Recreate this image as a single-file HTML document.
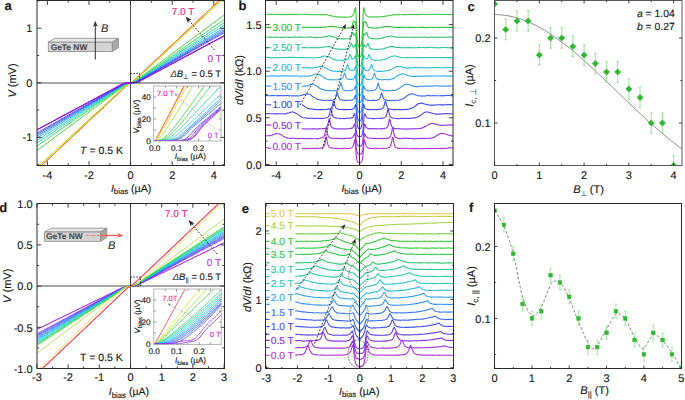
<!DOCTYPE html>
<html><head><meta charset="utf-8"><style>
html,body{margin:0;padding:0;background:#fff;width:685px;height:400px;overflow:hidden}
svg{display:block;font-family:"Liberation Sans",sans-serif;text-rendering:geometricPrecision}
</style></head><body>
<svg width="685" height="400" viewBox="0 0 685 400">
<rect width="685" height="400" fill="#fff"/>
<clipPath id="ca"><rect x="37" y="0.5" width="187.5" height="165"/></clipPath>
<line x1="130.5" y1="0.5" x2="130.5" y2="165.5" stroke="#505050" stroke-width="1" />
<line x1="37" y1="83" x2="224.5" y2="83" stroke="#505050" stroke-width="1" />
<g clip-path="url(#ca)" fill="none">
<polyline points="34.9,171.8 36.5,170.3 38.1,168.8 39.7,167.3 41.3,165.8 42.9,164.3 44.5,162.8 46.1,161.3 47.7,159.8 49.3,158.3 50.9,156.8 52.5,155.3 54.1,153.8 55.7,152.3 57.2,150.8 58.8,149.3 60.4,147.8 62,146.3 63.6,144.8 65.2,143.3 66.8,141.8 68.4,140.4 70,138.9 71.6,137.4 73.2,135.9 74.8,134.4 76.4,132.9 78,131.4 79.6,129.9 81.2,128.4 82.8,126.9 84.4,125.4 85.9,123.9 87.5,122.4 89.1,120.9 90.7,119.4 92.3,117.9 93.9,116.4 95.5,114.9 97.1,113.4 98.7,111.9 100.3,110.4 101.9,108.9 103.5,107.4 105.1,105.9 106.7,104.4 108.3,102.9 109.9,101.4 111.5,99.9 113.1,98.4 114.7,97 116.2,95.5 117.8,94 119.4,92.5 121,91 122.6,89.5 124.2,88 125.8,86.5 127.4,85.1 129,83.8 130.6,82.8 132.2,81.8 133.8,80.5 135.4,79.1 137,77.6 138.6,76.1 140.2,74.6 141.8,73.1 143.4,71.6 145,70.1 146.5,68.6 148.1,67.2 149.7,65.7 151.3,64.2 152.9,62.7 154.5,61.2 156.1,59.7 157.7,58.2 159.3,56.7 160.9,55.2 162.5,53.7 164.1,52.2 165.7,50.7 167.3,49.2 168.9,47.7 170.5,46.2 172.1,44.7 173.7,43.2 175.3,41.7 176.8,40.2 178.4,38.7 180,37.2 181.6,35.7 183.2,34.2 184.8,32.7 186.4,31.2 188,29.7 189.6,28.2 191.2,26.7 192.8,25.2 194.4,23.8 196,22.3 197.6,20.8 199.2,19.3 200.8,17.8 202.4,16.3 204,14.8 205.5,13.3 207.1,11.8 208.7,10.3 210.3,8.8 211.9,7.3 213.5,5.8 215.1,4.3 216.7,2.8 218.3,1.3 219.9,-0.2 221.5,-1.7 223.1,-3.2 224.7,-4.7 226.3,-6.2" stroke="#ff3030" stroke-width="1.0" fill="none" stroke-linejoin="round" />
<polyline points="34.9,171.8 36.5,170.3 38.1,168.8 39.7,167.3 41.3,165.8 42.9,164.3 44.5,162.8 46.1,161.3 47.7,159.8 49.3,158.3 50.9,156.8 52.5,155.3 54.1,153.8 55.7,152.3 57.2,150.8 58.8,149.3 60.4,147.8 62,146.3 63.6,144.8 65.2,143.3 66.8,141.8 68.4,140.3 70,138.8 71.6,137.3 73.2,135.8 74.8,134.3 76.4,132.8 78,131.3 79.6,129.8 81.2,128.3 82.8,126.8 84.4,125.3 85.9,123.8 87.5,122.3 89.1,120.8 90.7,119.3 92.3,117.8 93.9,116.3 95.5,114.8 97.1,113.3 98.7,111.8 100.3,110.3 101.9,108.8 103.5,107.3 105.1,105.8 106.7,104.3 108.3,102.8 109.9,101.3 111.5,99.8 113.1,98.3 114.7,96.8 116.2,95.3 117.8,93.8 119.4,92.3 121,90.8 122.6,89.3 124.2,87.8 125.8,86.3 127.4,84.9 129,83.7 130.6,82.8 132.2,81.9 133.8,80.7 135.4,79.3 137,77.8 138.6,76.3 140.2,74.8 141.8,73.3 143.4,71.8 145,70.3 146.5,68.8 148.1,67.3 149.7,65.8 151.3,64.3 152.9,62.8 154.5,61.3 156.1,59.8 157.7,58.3 159.3,56.8 160.9,55.3 162.5,53.8 164.1,52.3 165.7,50.8 167.3,49.3 168.9,47.8 170.5,46.3 172.1,44.8 173.7,43.3 175.3,41.8 176.8,40.3 178.4,38.8 180,37.3 181.6,35.8 183.2,34.3 184.8,32.8 186.4,31.3 188,29.8 189.6,28.3 191.2,26.8 192.8,25.3 194.4,23.8 196,22.3 197.6,20.8 199.2,19.3 200.8,17.8 202.4,16.3 204,14.8 205.5,13.3 207.1,11.8 208.7,10.3 210.3,8.8 211.9,7.3 213.5,5.8 215.1,4.3 216.7,2.8 218.3,1.3 219.9,-0.2 221.5,-1.7 223.1,-3.2 224.7,-4.7 226.3,-6.2" stroke="#ff9222" stroke-width="1.0" fill="none" stroke-linejoin="round" />
<polyline points="34.9,169.6 36.5,168.1 38.1,166.7 39.7,165.2 41.3,163.7 42.9,162.3 44.5,160.8 46.1,159.3 47.7,157.8 49.3,156.4 50.9,154.9 52.5,153.4 54.1,152 55.7,150.5 57.2,149 58.8,147.5 60.4,146.1 62,144.6 63.6,143.1 65.2,141.6 66.8,140.2 68.4,138.7 70,137.2 71.6,135.8 73.2,134.3 74.8,132.8 76.4,131.3 78,129.9 79.6,128.4 81.2,126.9 82.8,125.5 84.4,124 85.9,122.5 87.5,121 89.1,119.6 90.7,118.1 92.3,116.6 93.9,115.1 95.5,113.7 97.1,112.2 98.7,110.7 100.3,109.3 101.9,107.8 103.5,106.3 105.1,104.8 106.7,103.4 108.3,101.9 109.9,100.4 111.5,99 113.1,97.5 114.7,96 116.2,94.5 117.8,93.1 119.4,91.6 121,90.1 122.6,88.7 124.2,87.2 125.8,85.8 127.4,84.5 129,83.4 130.6,82.8 132.2,82.2 133.8,81.1 135.4,79.8 137,78.4 138.6,76.9 140.2,75.5 141.8,74 143.4,72.5 145,71.1 146.5,69.6 148.1,68.1 149.7,66.6 151.3,65.2 152.9,63.7 154.5,62.2 156.1,60.8 157.7,59.3 159.3,57.8 160.9,56.3 162.5,54.9 164.1,53.4 165.7,51.9 167.3,50.5 168.9,49 170.5,47.5 172.1,46 173.7,44.6 175.3,43.1 176.8,41.6 178.4,40.1 180,38.7 181.6,37.2 183.2,35.7 184.8,34.3 186.4,32.8 188,31.3 189.6,29.8 191.2,28.4 192.8,26.9 194.4,25.4 196,24 197.6,22.5 199.2,21 200.8,19.5 202.4,18.1 204,16.6 205.5,15.1 207.1,13.6 208.7,12.2 210.3,10.7 211.9,9.2 213.5,7.8 215.1,6.3 216.7,4.8 218.3,3.3 219.9,1.9 221.5,0.4 223.1,-1.1 224.7,-2.5 226.3,-4" stroke="#eed42a" stroke-width="1.0" fill="none" stroke-linejoin="round" />
<polyline points="34.9,169.6 36.5,168.1 38.1,166.6 39.7,165.2 41.3,163.7 42.9,162.2 44.5,160.7 46.1,159.3 47.7,157.8 49.3,156.3 50.9,154.8 52.5,153.3 54.1,151.9 55.7,150.4 57.2,148.9 58.8,147.4 60.4,146 62,144.5 63.6,143 65.2,141.5 66.8,140.1 68.4,138.6 70,137.1 71.6,135.6 73.2,134.2 74.8,132.7 76.4,131.2 78,129.7 79.6,128.2 81.2,126.8 82.8,125.3 84.4,123.8 85.9,122.3 87.5,120.9 89.1,119.4 90.7,117.9 92.3,116.4 93.9,115 95.5,113.5 97.1,112 98.7,110.5 100.3,109 101.9,107.6 103.5,106.1 105.1,104.6 106.7,103.1 108.3,101.7 109.9,100.2 111.5,98.7 113.1,97.2 114.7,95.8 116.2,94.3 117.8,92.8 119.4,91.3 121,89.9 122.6,88.4 124.2,86.9 125.8,85.5 127.4,84.2 129,83.3 130.6,82.8 132.2,82.3 133.8,81.4 135.4,80.1 137,78.7 138.6,77.2 140.2,75.7 141.8,74.3 143.4,72.8 145,71.3 146.5,69.8 148.1,68.4 149.7,66.9 151.3,65.4 152.9,63.9 154.5,62.5 156.1,61 157.7,59.5 159.3,58 160.9,56.6 162.5,55.1 164.1,53.6 165.7,52.1 167.3,50.6 168.9,49.2 170.5,47.7 172.1,46.2 173.7,44.7 175.3,43.3 176.8,41.8 178.4,40.3 180,38.8 181.6,37.4 183.2,35.9 184.8,34.4 186.4,32.9 188,31.4 189.6,30 191.2,28.5 192.8,27 194.4,25.5 196,24.1 197.6,22.6 199.2,21.1 200.8,19.6 202.4,18.2 204,16.7 205.5,15.2 207.1,13.7 208.7,12.3 210.3,10.8 211.9,9.3 213.5,7.8 215.1,6.3 216.7,4.9 218.3,3.4 219.9,1.9 221.5,0.4 223.1,-1 224.7,-2.5 226.3,-4" stroke="#a6df30" stroke-width="1.0" fill="none" stroke-linejoin="round" />
<polyline points="34.9,152.1 36.5,150.9 38.1,149.8 39.7,148.6 41.3,147.4 42.9,146.2 44.5,145 46.1,143.8 47.7,142.7 49.3,141.5 50.9,140.3 52.5,139.1 54.1,137.9 55.7,136.7 57.2,135.5 58.8,134.4 60.4,133.2 62,132 63.6,130.8 65.2,129.6 66.8,128.4 68.4,127.3 70,126.1 71.6,124.9 73.2,123.7 74.8,122.5 76.4,121.3 78,120.2 79.6,119 81.2,117.8 82.8,116.6 84.4,115.4 85.9,114.2 87.5,113.1 89.1,111.9 90.7,110.7 92.3,109.5 93.9,108.3 95.5,107.1 97.1,106 98.7,104.8 100.3,103.6 101.9,102.4 103.5,101.2 105.1,100 106.7,98.9 108.3,97.7 109.9,96.5 111.5,95.3 113.1,94.1 114.7,92.9 116.2,91.7 117.8,90.6 119.4,89.4 121,88.2 122.6,87 124.2,85.9 125.8,84.7 127.4,83.8 129,83.1 130.6,82.8 132.2,82.5 133.8,81.8 135.4,80.9 137,79.7 138.6,78.6 140.2,77.4 141.8,76.2 143.4,75 145,73.9 146.5,72.7 148.1,71.5 149.7,70.3 151.3,69.1 152.9,67.9 154.5,66.7 156.1,65.6 157.7,64.4 159.3,63.2 160.9,62 162.5,60.8 164.1,59.6 165.7,58.5 167.3,57.3 168.9,56.1 170.5,54.9 172.1,53.7 173.7,52.5 175.3,51.4 176.8,50.2 178.4,49 180,47.8 181.6,46.6 183.2,45.4 184.8,44.3 186.4,43.1 188,41.9 189.6,40.7 191.2,39.5 192.8,38.3 194.4,37.2 196,36 197.6,34.8 199.2,33.6 200.8,32.4 202.4,31.2 204,30.1 205.5,28.9 207.1,27.7 208.7,26.5 210.3,25.3 211.9,24.1 213.5,22.9 215.1,21.8 216.7,20.6 218.3,19.4 219.9,18.2 221.5,17 223.1,15.8 224.7,14.7 226.3,13.5" stroke="#3fd633" stroke-width="1.0" fill="none" stroke-linejoin="round" />
<polyline points="34.9,147.4 36.5,146.3 38.1,145.2 39.7,144.1 41.3,143 42.9,141.9 44.5,140.8 46.1,139.7 47.7,138.6 49.3,137.5 50.9,136.4 52.5,135.2 54.1,134.1 55.7,133 57.2,131.9 58.8,130.8 60.4,129.7 62,128.6 63.6,127.5 65.2,126.4 66.8,125.3 68.4,124.2 70,123.1 71.6,121.9 73.2,120.8 74.8,119.7 76.4,118.6 78,117.5 79.6,116.4 81.2,115.3 82.8,114.2 84.4,113.1 85.9,112 87.5,110.9 89.1,109.8 90.7,108.7 92.3,107.5 93.9,106.4 95.5,105.3 97.1,104.2 98.7,103.1 100.3,102 101.9,100.9 103.5,99.8 105.1,98.7 106.7,97.6 108.3,96.5 109.9,95.4 111.5,94.3 113.1,93.1 114.7,92 116.2,90.9 117.8,89.8 119.4,88.7 121,87.6 122.6,86.5 124.2,85.4 125.8,84.4 127.4,83.6 129,83 130.6,82.8 132.2,82.6 133.8,82 135.4,81.2 137,80.2 138.6,79.1 140.2,78 141.8,76.9 143.4,75.8 145,74.7 146.5,73.6 148.1,72.5 149.7,71.3 151.3,70.2 152.9,69.1 154.5,68 156.1,66.9 157.7,65.8 159.3,64.7 160.9,63.6 162.5,62.5 164.1,61.4 165.7,60.3 167.3,59.2 168.9,58.1 170.5,56.9 172.1,55.8 173.7,54.7 175.3,53.6 176.8,52.5 178.4,51.4 180,50.3 181.6,49.2 183.2,48.1 184.8,47 186.4,45.9 188,44.8 189.6,43.7 191.2,42.5 192.8,41.4 194.4,40.3 196,39.2 197.6,38.1 199.2,37 200.8,35.9 202.4,34.8 204,33.7 205.5,32.6 207.1,31.5 208.7,30.4 210.3,29.2 211.9,28.1 213.5,27 215.1,25.9 216.7,24.8 218.3,23.7 219.9,22.6 221.5,21.5 223.1,20.4 224.7,19.3 226.3,18.2" stroke="#33d655" stroke-width="1.0" fill="none" stroke-linejoin="round" />
<polyline points="34.9,144.3 36.5,143.2 38.1,142.2 39.7,141.1 41.3,140 42.9,139 44.5,137.9 46.1,136.9 47.7,135.8 49.3,134.8 50.9,133.7 52.5,132.6 54.1,131.6 55.7,130.5 57.2,129.5 58.8,128.4 60.4,127.3 62,126.3 63.6,125.2 65.2,124.2 66.8,123.1 68.4,122.1 70,121 71.6,119.9 73.2,118.9 74.8,117.8 76.4,116.8 78,115.7 79.6,114.7 81.2,113.6 82.8,112.5 84.4,111.5 85.9,110.4 87.5,109.4 89.1,108.3 90.7,107.2 92.3,106.2 93.9,105.1 95.5,104.1 97.1,103 98.7,102 100.3,100.9 101.9,99.8 103.5,98.8 105.1,97.7 106.7,96.7 108.3,95.6 109.9,94.5 111.5,93.5 113.1,92.4 114.7,91.4 116.2,90.3 117.8,89.3 119.4,88.2 121,87.1 122.6,86.1 124.2,85.1 125.8,84.1 127.4,83.4 129,83 130.6,82.8 132.2,82.6 133.8,82.2 135.4,81.5 137,80.5 138.6,79.5 140.2,78.5 141.8,77.4 143.4,76.3 145,75.3 146.5,74.2 148.1,73.2 149.7,72.1 151.3,71.1 152.9,70 154.5,68.9 156.1,67.9 157.7,66.8 159.3,65.8 160.9,64.7 162.5,63.6 164.1,62.6 165.7,61.5 167.3,60.5 168.9,59.4 170.5,58.4 172.1,57.3 173.7,56.2 175.3,55.2 176.8,54.1 178.4,53.1 180,52 181.6,50.9 183.2,49.9 184.8,48.8 186.4,47.8 188,46.7 189.6,45.7 191.2,44.6 192.8,43.5 194.4,42.5 196,41.4 197.6,40.4 199.2,39.3 200.8,38.3 202.4,37.2 204,36.1 205.5,35.1 207.1,34 208.7,33 210.3,31.9 211.9,30.8 213.5,29.8 215.1,28.7 216.7,27.7 218.3,26.6 219.9,25.6 221.5,24.5 223.1,23.4 224.7,22.4 226.3,21.3" stroke="#22d69a" stroke-width="1.0" fill="none" stroke-linejoin="round" />
<polyline points="34.9,141.7 36.5,140.7 38.1,139.7 39.7,138.7 41.3,137.7 42.9,136.6 44.5,135.6 46.1,134.6 47.7,133.6 49.3,132.6 50.9,131.6 52.5,130.5 54.1,129.5 55.7,128.5 57.2,127.5 58.8,126.5 60.4,125.4 62,124.4 63.6,123.4 65.2,122.4 66.8,121.4 68.4,120.4 70,119.3 71.6,118.3 73.2,117.3 74.8,116.3 76.4,115.3 78,114.2 79.6,113.2 81.2,112.2 82.8,111.2 84.4,110.2 85.9,109.1 87.5,108.1 89.1,107.1 90.7,106.1 92.3,105.1 93.9,104.1 95.5,103 97.1,102 98.7,101 100.3,100 101.9,99 103.5,97.9 105.1,96.9 106.7,95.9 108.3,94.9 109.9,93.9 111.5,92.8 113.1,91.8 114.7,90.8 116.2,89.8 117.8,88.8 119.4,87.8 121,86.7 122.6,85.7 124.2,84.8 125.8,83.9 127.4,83.3 129,82.9 130.6,82.8 132.2,82.7 133.8,82.3 135.4,81.7 137,80.8 138.6,79.9 140.2,78.9 141.8,77.8 143.4,76.8 145,75.8 146.5,74.8 148.1,73.8 149.7,72.8 151.3,71.7 152.9,70.7 154.5,69.7 156.1,68.7 157.7,67.7 159.3,66.6 160.9,65.6 162.5,64.6 164.1,63.6 165.7,62.6 167.3,61.5 168.9,60.5 170.5,59.5 172.1,58.5 173.7,57.5 175.3,56.5 176.8,55.4 178.4,54.4 180,53.4 181.6,52.4 183.2,51.4 184.8,50.3 186.4,49.3 188,48.3 189.6,47.3 191.2,46.3 192.8,45.2 194.4,44.2 196,43.2 197.6,42.2 199.2,41.2 200.8,40.2 202.4,39.1 204,38.1 205.5,37.1 207.1,36.1 208.7,35.1 210.3,34 211.9,33 213.5,32 215.1,31 216.7,30 218.3,29 219.9,27.9 221.5,26.9 223.1,25.9 224.7,24.9 226.3,23.9" stroke="#22c8d8" stroke-width="1.0" fill="none" stroke-linejoin="round" />
<polyline points="34.9,139.2 36.5,138.2 38.1,137.2 39.7,136.3 41.3,135.3 42.9,134.3 44.5,133.3 46.1,132.3 47.7,131.4 49.3,130.4 50.9,129.4 52.5,128.4 54.1,127.5 55.7,126.5 57.2,125.5 58.8,124.5 60.4,123.5 62,122.6 63.6,121.6 65.2,120.6 66.8,119.6 68.4,118.6 70,117.7 71.6,116.7 73.2,115.7 74.8,114.7 76.4,113.7 78,112.8 79.6,111.8 81.2,110.8 82.8,109.8 84.4,108.9 85.9,107.9 87.5,106.9 89.1,105.9 90.7,104.9 92.3,104 93.9,103 95.5,102 97.1,101 98.7,100 100.3,99.1 101.9,98.1 103.5,97.1 105.1,96.1 106.7,95.1 108.3,94.2 109.9,93.2 111.5,92.2 113.1,91.2 114.7,90.3 116.2,89.3 117.8,88.3 119.4,87.3 121,86.3 122.6,85.4 124.2,84.5 125.8,83.7 127.4,83.1 129,82.9 130.6,82.8 132.2,82.7 133.8,82.5 135.4,81.9 137,81.1 138.6,80.2 140.2,79.3 141.8,78.3 143.4,77.3 145,76.3 146.5,75.3 148.1,74.4 149.7,73.4 151.3,72.4 152.9,71.4 154.5,70.5 156.1,69.5 157.7,68.5 159.3,67.5 160.9,66.5 162.5,65.6 164.1,64.6 165.7,63.6 167.3,62.6 168.9,61.6 170.5,60.7 172.1,59.7 173.7,58.7 175.3,57.7 176.8,56.7 178.4,55.8 180,54.8 181.6,53.8 183.2,52.8 184.8,51.9 186.4,50.9 188,49.9 189.6,48.9 191.2,47.9 192.8,47 194.4,46 196,45 197.6,44 199.2,43 200.8,42.1 202.4,41.1 204,40.1 205.5,39.1 207.1,38.1 208.7,37.2 210.3,36.2 211.9,35.2 213.5,34.2 215.1,33.3 216.7,32.3 218.3,31.3 219.9,30.3 221.5,29.3 223.1,28.4 224.7,27.4 226.3,26.4" stroke="#22a4f4" stroke-width="1.0" fill="none" stroke-linejoin="round" />
<polyline points="34.9,137.3 36.5,136.3 38.1,135.4 39.7,134.4 41.3,133.5 42.9,132.5 44.5,131.6 46.1,130.6 47.7,129.7 49.3,128.7 50.9,127.8 52.5,126.8 54.1,125.9 55.7,124.9 57.2,124 58.8,123 60.4,122.1 62,121.1 63.6,120.2 65.2,119.2 66.8,118.3 68.4,117.3 70,116.4 71.6,115.4 73.2,114.5 74.8,113.5 76.4,112.6 78,111.6 79.6,110.7 81.2,109.7 82.8,108.8 84.4,107.8 85.9,106.9 87.5,105.9 89.1,105 90.7,104 92.3,103.1 93.9,102.1 95.5,101.2 97.1,100.2 98.7,99.3 100.3,98.3 101.9,97.4 103.5,96.4 105.1,95.5 106.7,94.5 108.3,93.6 109.9,92.6 111.5,91.7 113.1,90.7 114.7,89.8 116.2,88.8 117.8,87.9 119.4,86.9 121,86 122.6,85.1 124.2,84.2 125.8,83.5 127.4,83.1 129,82.9 130.6,82.8 132.2,82.7 133.8,82.5 135.4,82.1 137,81.4 138.6,80.5 140.2,79.6 141.8,78.7 143.4,77.7 145,76.8 146.5,75.8 148.1,74.9 149.7,73.9 151.3,73 152.9,72 154.5,71.1 156.1,70.1 157.7,69.2 159.3,68.2 160.9,67.3 162.5,66.3 164.1,65.4 165.7,64.4 167.3,63.5 168.9,62.5 170.5,61.6 172.1,60.6 173.7,59.7 175.3,58.7 176.8,57.8 178.4,56.8 180,55.9 181.6,54.9 183.2,54 184.8,53 186.4,52.1 188,51.1 189.6,50.2 191.2,49.2 192.8,48.3 194.4,47.3 196,46.4 197.6,45.4 199.2,44.5 200.8,43.5 202.4,42.6 204,41.6 205.5,40.7 207.1,39.7 208.7,38.8 210.3,37.8 211.9,36.9 213.5,35.9 215.1,35 216.7,34 218.3,33.1 219.9,32.1 221.5,31.2 223.1,30.2 224.7,29.3 226.3,28.3" stroke="#2a7cff" stroke-width="1.0" fill="none" stroke-linejoin="round" />
<polyline points="34.9,135.6 36.5,134.7 38.1,133.7 39.7,132.8 41.3,131.9 42.9,131 44.5,130 46.1,129.1 47.7,128.2 49.3,127.3 50.9,126.3 52.5,125.4 54.1,124.5 55.7,123.6 57.2,122.6 58.8,121.7 60.4,120.8 62,119.9 63.6,118.9 65.2,118 66.8,117.1 68.4,116.2 70,115.3 71.6,114.3 73.2,113.4 74.8,112.5 76.4,111.6 78,110.6 79.6,109.7 81.2,108.8 82.8,107.9 84.4,106.9 85.9,106 87.5,105.1 89.1,104.2 90.7,103.2 92.3,102.3 93.9,101.4 95.5,100.5 97.1,99.5 98.7,98.6 100.3,97.7 101.9,96.8 103.5,95.8 105.1,94.9 106.7,94 108.3,93.1 109.9,92.1 111.5,91.2 113.1,90.3 114.7,89.4 116.2,88.4 117.8,87.5 119.4,86.6 121,85.7 122.6,84.8 124.2,84 125.8,83.3 127.4,83 129,82.8 130.6,82.8 132.2,82.8 133.8,82.6 135.4,82.3 137,81.6 138.6,80.8 140.2,79.9 141.8,79 143.4,78.1 145,77.2 146.5,76.2 148.1,75.3 149.7,74.4 151.3,73.5 152.9,72.5 154.5,71.6 156.1,70.7 157.7,69.8 159.3,68.8 160.9,67.9 162.5,67 164.1,66.1 165.7,65.1 167.3,64.2 168.9,63.3 170.5,62.4 172.1,61.4 173.7,60.5 175.3,59.6 176.8,58.7 178.4,57.7 180,56.8 181.6,55.9 183.2,55 184.8,54 186.4,53.1 188,52.2 189.6,51.3 191.2,50.3 192.8,49.4 194.4,48.5 196,47.6 197.6,46.7 199.2,45.7 200.8,44.8 202.4,43.9 204,43 205.5,42 207.1,41.1 208.7,40.2 210.3,39.3 211.9,38.3 213.5,37.4 215.1,36.5 216.7,35.6 218.3,34.6 219.9,33.7 221.5,32.8 223.1,31.9 224.7,30.9 226.3,30" stroke="#2f5cff" stroke-width="1.0" fill="none" stroke-linejoin="round" />
<polyline points="34.9,134.1 36.5,133.2 38.1,132.3 39.7,131.4 41.3,130.5 42.9,129.6 44.5,128.7 46.1,127.8 47.7,126.9 49.3,126 50.9,125.1 52.5,124.2 54.1,123.3 55.7,122.4 57.2,121.5 58.8,120.6 60.4,119.7 62,118.8 63.6,117.9 65.2,116.9 66.8,116 68.4,115.1 70,114.2 71.6,113.3 73.2,112.4 74.8,111.5 76.4,110.6 78,109.7 79.6,108.8 81.2,107.9 82.8,107 84.4,106.1 85.9,105.2 87.5,104.3 89.1,103.4 90.7,102.5 92.3,101.6 93.9,100.7 95.5,99.8 97.1,98.9 98.7,98 100.3,97.1 101.9,96.2 103.5,95.3 105.1,94.4 106.7,93.5 108.3,92.6 109.9,91.7 111.5,90.8 113.1,89.9 114.7,89 116.2,88.1 117.8,87.2 119.4,86.3 121,85.4 122.6,84.5 124.2,83.8 125.8,83.2 127.4,82.9 129,82.8 130.6,82.8 132.2,82.8 133.8,82.7 135.4,82.4 137,81.8 138.6,81.1 140.2,80.2 141.8,79.3 143.4,78.4 145,77.5 146.5,76.6 148.1,75.7 149.7,74.8 151.3,73.9 152.9,73 154.5,72.1 156.1,71.2 157.7,70.3 159.3,69.4 160.9,68.5 162.5,67.6 164.1,66.7 165.7,65.8 167.3,64.9 168.9,64 170.5,63.1 172.1,62.2 173.7,61.3 175.3,60.4 176.8,59.5 178.4,58.6 180,57.7 181.6,56.8 183.2,55.9 184.8,55 186.4,54.1 188,53.2 189.6,52.3 191.2,51.4 192.8,50.5 194.4,49.6 196,48.7 197.6,47.7 199.2,46.8 200.8,45.9 202.4,45 204,44.1 205.5,43.2 207.1,42.3 208.7,41.4 210.3,40.5 211.9,39.6 213.5,38.7 215.1,37.8 216.7,36.9 218.3,36 219.9,35.1 221.5,34.2 223.1,33.3 224.7,32.4 226.3,31.5" stroke="#4a3cff" stroke-width="1.0" fill="none" stroke-linejoin="round" />
<polyline points="34.9,131.1 36.5,130.2 38.1,129.4 39.7,128.5 41.3,127.7 42.9,126.8 44.5,126 46.1,125.1 47.7,124.3 49.3,123.4 50.9,122.6 52.5,121.7 54.1,120.8 55.7,120 57.2,119.1 58.8,118.3 60.4,117.4 62,116.6 63.6,115.7 65.2,114.9 66.8,114 68.4,113.2 70,112.3 71.6,111.5 73.2,110.6 74.8,109.8 76.4,108.9 78,108 79.6,107.2 81.2,106.3 82.8,105.5 84.4,104.6 85.9,103.8 87.5,102.9 89.1,102.1 90.7,101.2 92.3,100.4 93.9,99.5 95.5,98.7 97.1,97.8 98.7,97 100.3,96.1 101.9,95.3 103.5,94.4 105.1,93.5 106.7,92.7 108.3,91.8 109.9,91 111.5,90.1 113.1,89.3 114.7,88.4 116.2,87.6 117.8,86.7 119.4,85.9 121,85 122.6,84.2 124.2,83.6 125.8,83.1 127.4,82.9 129,82.8 130.6,82.8 132.2,82.8 133.8,82.7 135.4,82.5 137,82 138.6,81.4 140.2,80.6 141.8,79.7 143.4,78.9 145,78 146.5,77.2 148.1,76.3 149.7,75.5 151.3,74.6 152.9,73.8 154.5,72.9 156.1,72.1 157.7,71.2 159.3,70.3 160.9,69.5 162.5,68.6 164.1,67.8 165.7,66.9 167.3,66.1 168.9,65.2 170.5,64.4 172.1,63.5 173.7,62.7 175.3,61.8 176.8,61 178.4,60.1 180,59.3 181.6,58.4 183.2,57.6 184.8,56.7 186.4,55.8 188,55 189.6,54.1 191.2,53.3 192.8,52.4 194.4,51.6 196,50.7 197.6,49.9 199.2,49 200.8,48.2 202.4,47.3 204,46.5 205.5,45.6 207.1,44.8 208.7,43.9 210.3,43 211.9,42.2 213.5,41.3 215.1,40.5 216.7,39.6 218.3,38.8 219.9,37.9 221.5,37.1 223.1,36.2 224.7,35.4 226.3,34.5" stroke="#7424f0" stroke-width="1.0" fill="none" stroke-linejoin="round" />
<polyline points="34.9,130.9 36.5,130 38.1,129.2 39.7,128.3 41.3,127.5 42.9,126.6 44.5,125.8 46.1,124.9 47.7,124.1 49.3,123.2 50.9,122.4 52.5,121.5 54.1,120.6 55.7,119.8 57.2,118.9 58.8,118.1 60.4,117.2 62,116.4 63.6,115.5 65.2,114.7 66.8,113.8 68.4,113 70,112.1 71.6,111.3 73.2,110.4 74.8,109.6 76.4,108.7 78,107.8 79.6,107 81.2,106.1 82.8,105.3 84.4,104.4 85.9,103.6 87.5,102.7 89.1,101.9 90.7,101 92.3,100.2 93.9,99.3 95.5,98.5 97.1,97.6 98.7,96.7 100.3,95.9 101.9,95 103.5,94.2 105.1,93.3 106.7,92.5 108.3,91.6 109.9,90.8 111.5,89.9 113.1,89.1 114.7,88.2 116.2,87.4 117.8,86.5 119.4,85.7 121,84.8 122.6,84.1 124.2,83.4 125.8,83 127.4,82.9 129,82.8 130.6,82.8 132.2,82.8 133.8,82.7 135.4,82.6 137,82.2 138.6,81.5 140.2,80.8 141.8,79.9 143.4,79.1 145,78.2 146.5,77.4 148.1,76.5 149.7,75.7 151.3,74.8 152.9,74 154.5,73.1 156.1,72.3 157.7,71.4 159.3,70.6 160.9,69.7 162.5,68.9 164.1,68 165.7,67.1 167.3,66.3 168.9,65.4 170.5,64.6 172.1,63.7 173.7,62.9 175.3,62 176.8,61.2 178.4,60.3 180,59.5 181.6,58.6 183.2,57.8 184.8,56.9 186.4,56 188,55.2 189.6,54.3 191.2,53.5 192.8,52.6 194.4,51.8 196,50.9 197.6,50.1 199.2,49.2 200.8,48.4 202.4,47.5 204,46.7 205.5,45.8 207.1,45 208.7,44.1 210.3,43.2 211.9,42.4 213.5,41.5 215.1,40.7 216.7,39.8 218.3,39 219.9,38.1 221.5,37.3 223.1,36.4 224.7,35.6 226.3,34.7" stroke="#8a22ea" stroke-width="1.0" fill="none" stroke-linejoin="round" />
<polyline points="34.9,130.7 36.5,129.9 38.1,129 39.7,128.2 41.3,127.3 42.9,126.4 44.5,125.6 46.1,124.7 47.7,123.9 49.3,123 50.9,122.2 52.5,121.3 54.1,120.5 55.7,119.6 57.2,118.8 58.8,117.9 60.4,117 62,116.2 63.6,115.3 65.2,114.5 66.8,113.6 68.4,112.8 70,111.9 71.6,111.1 73.2,110.2 74.8,109.4 76.4,108.5 78,107.6 79.6,106.8 81.2,105.9 82.8,105.1 84.4,104.2 85.9,103.4 87.5,102.5 89.1,101.7 90.7,100.8 92.3,100 93.9,99.1 95.5,98.3 97.1,97.4 98.7,96.5 100.3,95.7 101.9,94.8 103.5,94 105.1,93.1 106.7,92.3 108.3,91.4 109.9,90.6 111.5,89.7 113.1,88.9 114.7,88 116.2,87.1 117.8,86.3 119.4,85.4 121,84.6 122.6,83.9 124.2,83.3 125.8,83 127.4,82.9 129,82.8 130.6,82.8 132.2,82.8 133.8,82.7 135.4,82.6 137,82.3 138.6,81.7 140.2,81 141.8,80.2 143.4,79.3 145,78.5 146.5,77.6 148.1,76.7 149.7,75.9 151.3,75 152.9,74.2 154.5,73.3 156.1,72.5 157.7,71.6 159.3,70.8 160.9,69.9 162.5,69.1 164.1,68.2 165.7,67.3 167.3,66.5 168.9,65.6 170.5,64.8 172.1,63.9 173.7,63.1 175.3,62.2 176.8,61.4 178.4,60.5 180,59.7 181.6,58.8 183.2,58 184.8,57.1 186.4,56.2 188,55.4 189.6,54.5 191.2,53.7 192.8,52.8 194.4,52 196,51.1 197.6,50.3 199.2,49.4 200.8,48.6 202.4,47.7 204,46.8 205.5,46 207.1,45.1 208.7,44.3 210.3,43.4 211.9,42.6 213.5,41.7 215.1,40.9 216.7,40 218.3,39.2 219.9,38.3 221.5,37.4 223.1,36.6 224.7,35.7 226.3,34.9" stroke="#9b1fe0" stroke-width="1.0" fill="none" stroke-linejoin="round" />
</g>
<rect x="37" y="0.5" width="187.5" height="165" stroke="#2b2b2b" stroke-width="1" fill="none" />
<line x1="47.4" y1="165.5" x2="47.4" y2="161.1" stroke="#2b2b2b" stroke-width="0.9" />
<line x1="47.4" y1="0.5" x2="47.4" y2="4.9" stroke="#2b2b2b" stroke-width="0.9" />
<line x1="89" y1="165.5" x2="89" y2="161.1" stroke="#2b2b2b" stroke-width="0.9" />
<line x1="89" y1="0.5" x2="89" y2="4.9" stroke="#2b2b2b" stroke-width="0.9" />
<line x1="130.6" y1="165.5" x2="130.6" y2="161.1" stroke="#2b2b2b" stroke-width="0.9" />
<line x1="130.6" y1="0.5" x2="130.6" y2="4.9" stroke="#2b2b2b" stroke-width="0.9" />
<line x1="172.2" y1="165.5" x2="172.2" y2="161.1" stroke="#2b2b2b" stroke-width="0.9" />
<line x1="172.2" y1="0.5" x2="172.2" y2="4.9" stroke="#2b2b2b" stroke-width="0.9" />
<line x1="213.8" y1="165.5" x2="213.8" y2="161.1" stroke="#2b2b2b" stroke-width="0.9" />
<line x1="213.8" y1="0.5" x2="213.8" y2="4.9" stroke="#2b2b2b" stroke-width="0.9" />
<line x1="68.2" y1="165.5" x2="68.2" y2="163.3" stroke="#2b2b2b" stroke-width="0.9" />
<line x1="68.2" y1="0.5" x2="68.2" y2="2.7" stroke="#2b2b2b" stroke-width="0.9" />
<line x1="109.8" y1="165.5" x2="109.8" y2="163.3" stroke="#2b2b2b" stroke-width="0.9" />
<line x1="109.8" y1="0.5" x2="109.8" y2="2.7" stroke="#2b2b2b" stroke-width="0.9" />
<line x1="151.4" y1="165.5" x2="151.4" y2="163.3" stroke="#2b2b2b" stroke-width="0.9" />
<line x1="151.4" y1="0.5" x2="151.4" y2="2.7" stroke="#2b2b2b" stroke-width="0.9" />
<line x1="193" y1="165.5" x2="193" y2="163.3" stroke="#2b2b2b" stroke-width="0.9" />
<line x1="193" y1="0.5" x2="193" y2="2.7" stroke="#2b2b2b" stroke-width="0.9" />
<line x1="37" y1="137.4" x2="41.4" y2="137.4" stroke="#2b2b2b" stroke-width="0.9" />
<line x1="224.5" y1="137.4" x2="220.1" y2="137.4" stroke="#2b2b2b" stroke-width="0.9" />
<line x1="37" y1="82.8" x2="41.4" y2="82.8" stroke="#2b2b2b" stroke-width="0.9" />
<line x1="224.5" y1="82.8" x2="220.1" y2="82.8" stroke="#2b2b2b" stroke-width="0.9" />
<line x1="37" y1="28.2" x2="41.4" y2="28.2" stroke="#2b2b2b" stroke-width="0.9" />
<line x1="224.5" y1="28.2" x2="220.1" y2="28.2" stroke="#2b2b2b" stroke-width="0.9" />
<line x1="37" y1="164.7" x2="39.2" y2="164.7" stroke="#2b2b2b" stroke-width="0.9" />
<line x1="224.5" y1="164.7" x2="222.3" y2="164.7" stroke="#2b2b2b" stroke-width="0.9" />
<line x1="37" y1="110.1" x2="39.2" y2="110.1" stroke="#2b2b2b" stroke-width="0.9" />
<line x1="224.5" y1="110.1" x2="222.3" y2="110.1" stroke="#2b2b2b" stroke-width="0.9" />
<line x1="37" y1="55.5" x2="39.2" y2="55.5" stroke="#2b2b2b" stroke-width="0.9" />
<line x1="224.5" y1="55.5" x2="222.3" y2="55.5" stroke="#2b2b2b" stroke-width="0.9" />
<line x1="37" y1="0.9" x2="39.2" y2="0.9" stroke="#2b2b2b" stroke-width="0.9" />
<line x1="224.5" y1="0.9" x2="222.3" y2="0.9" stroke="#2b2b2b" stroke-width="0.9" />
<text x="47.4" y="179.34" font-size="11" text-anchor="middle" fill="#1a1a1a"  stroke="#1a1a1a" stroke-width="0.15">-4</text>
<text x="89" y="179.34" font-size="11" text-anchor="middle" fill="#1a1a1a"  stroke="#1a1a1a" stroke-width="0.15">-2</text>
<text x="130.6" y="179.34" font-size="11" text-anchor="middle" fill="#1a1a1a"  stroke="#1a1a1a" stroke-width="0.15">0</text>
<text x="172.2" y="179.34" font-size="11" text-anchor="middle" fill="#1a1a1a"  stroke="#1a1a1a" stroke-width="0.15">2</text>
<text x="213.8" y="179.34" font-size="11" text-anchor="middle" fill="#1a1a1a"  stroke="#1a1a1a" stroke-width="0.15">4</text>
<text x="32.3" y="31.94" font-size="11" text-anchor="end" fill="#1a1a1a"  stroke="#1a1a1a" stroke-width="0.15">1</text>
<text x="32.3" y="86.74" font-size="11" text-anchor="end" fill="#1a1a1a"  stroke="#1a1a1a" stroke-width="0.15">0</text>
<text x="32.3" y="141.44" font-size="11" text-anchor="end" fill="#1a1a1a"  stroke="#1a1a1a" stroke-width="0.15">-1</text>
<text transform="translate(16.24,80.5) rotate(-90)" font-size="11" text-anchor="middle" fill="#1a1a1a"  stroke="#1a1a1a" stroke-width="0.15"><tspan font-style="italic">V</tspan> (mV)</text>
<text x="131.1" y="191.7" font-size="10.6" text-anchor="middle" fill="#1a1a1a" stroke="#1a1a1a" stroke-width="0.15"><tspan font-style="italic">I</tspan><tspan font-size="7.8" dy="2.5">bias</tspan><tspan dy="-2.5"> (µA)</tspan></text>
<text x="8.2" y="10.45" font-size="13" text-anchor="middle" fill="#1a1a1a" font-weight="bold"  stroke="#1a1a1a" stroke-width="0.15">a</text>
<polygon points="48.3,42.2 54.6,38.3 118.5,38.3 112.2,42.2" fill="#e6e6e6" stroke="#8a8a8a" stroke-width="0.8"/>
<polygon points="112.2,42.2 118.5,38.3 118.5,47.7 112.2,51.6" fill="#a9a9a9" stroke="#8a8a8a" stroke-width="0.8"/>
<rect x="48.3" y="42.2" width="63.9" height="9.4" stroke="#8a8a8a" stroke-width="0.8" fill="#d4d4d4" />
<text x="69" y="49.71" font-size="8.4" text-anchor="middle" fill="#4a4a4a" font-weight="bold"  stroke="#4a4a4a" stroke-width="0.15">GeTe NW</text>
<line x1="95.3" y1="59.5" x2="95.3" y2="25" stroke="#333" stroke-width="1" />
<polygon points="95.3,20.8 97.6,26.8 95.3,25.3 93,26.8" fill="#333" stroke="none" stroke-width="1"/>
<text x="104.6" y="31.54" font-size="11" text-anchor="middle" fill="#333" font-style="italic"  stroke="#333" stroke-width="0.15">B</text>
<text x="183" y="15.18" font-size="10" text-anchor="middle" fill="#ea2a8e"  stroke="#ea2a8e" stroke-width="0.15">7.0 T</text>
<line x1="214.5" y1="50" x2="188.15" y2="19.55" stroke="#222" stroke-width="0.9" stroke-dasharray="1.8,1.6" />
<polygon points="185.6,16.6 191.74,19.88 188.79,20.29 187.96,23.15" fill="#222" stroke="none" stroke-width="1"/>
<text x="214.6" y="61.78" font-size="10" text-anchor="middle" fill="#c03ae0"  stroke="#c03ae0" stroke-width="0.15">0 T</text>
<text x="221.1" y="76.5" font-size="9.5" text-anchor="end" fill="#1a1a1a" stroke="#1a1a1a" stroke-width="0.15"><tspan font-style="italic" fill="#555">Δ</tspan><tspan font-style="italic">B</tspan><tspan font-size="6.5" dy="2" fill="#555">⊥</tspan><tspan dy="-2"> = 0.5 T</tspan></text>
<text x="101.5" y="153.8" font-size="10.5" text-anchor="middle" fill="#1a1a1a" stroke="#1a1a1a" stroke-width="0.15"><tspan font-style="italic">T</tspan> = 0.5 K</text>
<rect x="130.5" y="73.4" width="9" height="9.3" stroke="#222" stroke-width="0.9" fill="none" stroke-dasharray="1.6,1.3"/>
<clipPath id="ca_i"><rect x="153.6" y="86" width="67.4" height="55"/></clipPath>
<g clip-path="url(#ca_i)" fill="none">
<polyline points="154.6,140.8 155.5,139.8 156.4,138.5 157.2,137 158.1,135.4 159,133.8 159.9,132.1 160.8,130.4 161.6,128.7 162.5,127 163.4,125.4 164.3,123.7 165.2,122 166,120.3 166.9,118.6 167.8,116.9 168.7,115.2 169.6,113.5 170.4,111.8 171.3,110.1 172.2,108.5 173.1,106.8 174,105.1 174.8,103.4 175.7,101.7 176.6,100 177.5,98.3 178.4,96.6 179.2,94.9 180.1,93.2 181,91.5 181.9,89.9 182.8,88.2 183.6,86.5 184.5,84.8 185.4,83.1 186.3,81.4 187.2,79.7 188,78 188.9,76.3 189.8,74.6 190.7,72.9 191.6,71.3 192.4,69.6 193.3,67.9 194.2,66.2 195.1,64.5 196,62.8 196.8,61.1 197.7,59.4 198.6,57.7 199.5,56 200.4,54.3 201.2,52.7 202.1,51 203,49.3 203.9,47.6 204.8,45.9 205.6,44.2 206.5,42.5 207.4,40.8 208.3,39.1 209.2,37.4 210,35.8 210.9,34.1 211.8,32.4 212.7,30.7 213.6,29 214.4,27.3 215.3,25.6 216.2,23.9 217.1,22.2 218,20.5 218.8,18.8 219.7,17.2 220.6,15.5 221.5,13.8 222.4,12.1 223.2,10.4 224.1,8.7 225,7" stroke="#ff3030" stroke-width="0.85" fill="none" stroke-linejoin="round" />
<polyline points="154.6,140.8 155.5,139.8 156.4,138.5 157.2,137.1 158.1,135.5 159,133.9 159.9,132.3 160.8,130.7 161.6,129 162.5,127.4 163.4,125.7 164.3,124.1 165.2,122.4 166,120.8 166.9,119.1 167.8,117.4 168.7,115.8 169.6,114.1 170.4,112.5 171.3,110.8 172.2,109.2 173.1,107.5 174,105.9 174.8,104.2 175.7,102.6 176.6,100.9 177.5,99.3 178.4,97.6 179.2,96 180.1,94.3 181,92.7 181.9,91 182.8,89.4 183.6,87.7 184.5,86.1 185.4,84.4 186.3,82.7 187.2,81.1 188,79.4 188.9,77.8 189.8,76.1 190.7,74.5 191.6,72.8 192.4,71.2 193.3,69.5 194.2,67.9 195.1,66.2 196,64.6 196.8,62.9 197.7,61.3 198.6,59.6 199.5,58 200.4,56.3 201.2,54.7 202.1,53 203,51.3 203.9,49.7 204.8,48 205.6,46.4 206.5,44.7 207.4,43.1 208.3,41.4 209.2,39.8 210,38.1 210.9,36.5 211.8,34.8 212.7,33.2 213.6,31.5 214.4,29.9 215.3,28.2 216.2,26.6 217.1,24.9 218,23.3 218.8,21.6 219.7,20 220.6,18.3 221.5,16.6 222.4,15 223.2,13.3 224.1,11.7 225,10" stroke="#ff9222" stroke-width="0.85" fill="none" stroke-linejoin="round" />
<polyline points="154.6,140.8 155.5,140.1 156.4,139.3 157.2,138.3 158.1,137.2 159,135.9 159.9,134.6 160.8,133.1 161.6,131.7 162.5,130.1 163.4,128.6 164.3,127.1 165.2,125.5 166,123.9 166.9,122.3 167.8,120.7 168.7,119.1 169.6,117.6 170.4,116 171.3,114.4 172.2,112.8 173.1,111.2 174,109.6 174.8,108 175.7,106.4 176.6,104.8 177.5,103.2 178.4,101.6 179.2,100 180.1,98.4 181,96.8 181.9,95.2 182.8,93.6 183.6,92 184.5,90.4 185.4,88.8 186.3,87.2 187.2,85.7 188,84.1 188.9,82.5 189.8,80.9 190.7,79.3 191.6,77.7 192.4,76.1 193.3,74.5 194.2,72.9 195.1,71.3 196,69.7 196.8,68.1 197.7,66.5 198.6,64.9 199.5,63.3 200.4,61.7 201.2,60.1 202.1,58.5 203,56.9 203.9,55.3 204.8,53.7 205.6,52.1 206.5,50.5 207.4,49 208.3,47.4 209.2,45.8 210,44.2 210.9,42.6 211.8,41 212.7,39.4 213.6,37.8 214.4,36.2 215.3,34.6 216.2,33 217.1,31.4 218,29.8 218.8,28.2 219.7,26.6 220.6,25 221.5,23.4 222.4,21.8 223.2,20.2 224.1,18.6 225,17" stroke="#eed42a" stroke-width="0.85" fill="none" stroke-linejoin="round" />
<polyline points="154.6,140.8 155.5,140.4 156.4,139.9 157.2,139.3 158.1,138.7 159,137.9 159.9,137.2 160.8,136.3 161.6,135.4 162.5,134.4 163.4,133.3 164.3,132.2 165.2,131 166,129.8 166.9,128.5 167.8,127.2 168.7,125.8 169.6,124.5 170.4,123.1 171.3,121.7 172.2,120.2 173.1,118.8 174,117.4 174.8,115.9 175.7,114.4 176.6,113 177.5,111.5 178.4,110 179.2,108.5 180.1,107 181,105.5 181.9,104 182.8,102.5 183.6,101.1 184.5,99.6 185.4,98.1 186.3,96.6 187.2,95.1 188,93.6 188.9,92.1 189.8,90.6 190.7,89.1 191.6,87.6 192.4,86.1 193.3,84.5 194.2,83 195.1,81.5 196,80 196.8,78.5 197.7,77 198.6,75.5 199.5,74 200.4,72.5 201.2,71 202.1,69.5 203,68 203.9,66.5 204.8,65 205.6,63.5 206.5,62 207.4,60.5 208.3,59 209.2,57.5 210,56 210.9,54.5 211.8,53 212.7,51.5 213.6,50 214.4,48.5 215.3,47 216.2,45.5 217.1,44 218,42.5 218.8,41 219.7,39.5 220.6,38 221.5,36.5 222.4,35 223.2,33.5 224.1,32 225,30.5" stroke="#a6df30" stroke-width="0.85" fill="none" stroke-linejoin="round" />
<polyline points="154.6,140.8 155.5,140.7 156.4,140.5 157.2,140.4 158.1,140.2 159,139.9 159.9,139.6 160.8,139.3 161.6,138.9 162.5,138.5 163.4,138 164.3,137.4 165.2,136.8 166,136.1 166.9,135.3 167.8,134.5 168.7,133.7 169.6,132.7 170.4,131.8 171.3,130.8 172.2,129.8 173.1,128.8 174,127.7 174.8,126.6 175.7,125.5 176.6,124.3 177.5,123.2 178.4,122 179.2,120.9 180.1,119.7 181,118.5 181.9,117.3 182.8,116.1 183.6,114.9 184.5,113.7 185.4,112.4 186.3,111.2 187.2,110 188,108.8 188.9,107.6 189.8,106.3 190.7,105.1 191.6,103.9 192.4,102.6 193.3,101.4 194.2,100.2 195.1,99 196,97.7 196.8,96.5 197.7,95.3 198.6,94 199.5,92.8 200.4,91.6 201.2,90.4 202.1,89.1 203,87.9 203.9,86.7 204.8,85.4 205.6,84.2 206.5,83 207.4,81.7 208.3,80.5 209.2,79.3 210,78.1 210.9,76.8 211.8,75.6 212.7,74.4 213.6,73.1 214.4,71.9 215.3,70.7 216.2,69.4 217.1,68.2 218,67 218.8,65.7 219.7,64.5 220.6,63.3 221.5,62.1 222.4,60.8 223.2,59.6 224.1,58.4 225,57.1" stroke="#3fd633" stroke-width="0.85" fill="none" stroke-linejoin="round" />
<polyline points="154.6,140.8 155.5,140.7 156.4,140.7 157.2,140.6 158.1,140.5 159,140.3 159.9,140.2 160.8,140 161.6,139.7 162.5,139.5 163.4,139.2 164.3,138.8 165.2,138.4 166,137.9 166.9,137.3 167.8,136.7 168.7,136.1 169.6,135.4 170.4,134.6 171.3,133.8 172.2,132.9 173.1,132.1 174,131.2 174.8,130.2 175.7,129.3 176.6,128.3 177.5,127.3 178.4,126.3 179.2,125.3 180.1,124.3 181,123.2 181.9,122.2 182.8,121.1 183.6,120 184.5,118.9 185.4,117.9 186.3,116.8 187.2,115.7 188,114.6 188.9,113.5 189.8,112.4 190.7,111.3 191.6,110.2 192.4,109.1 193.3,108 194.2,106.9 195.1,105.8 196,104.6 196.8,103.5 197.7,102.4 198.6,101.3 199.5,100.2 200.4,99.1 201.2,98 202.1,96.9 203,95.8 203.9,94.7 204.8,93.5 205.6,92.4 206.5,91.3 207.4,90.2 208.3,89.1 209.2,88 210,86.9 210.9,85.8 211.8,84.7 212.7,83.6 213.6,82.4 214.4,81.3 215.3,80.2 216.2,79.1 217.1,78 218,76.9 218.8,75.8 219.7,74.7 220.6,73.6 221.5,72.4 222.4,71.3 223.2,70.2 224.1,69.1 225,68" stroke="#33d655" stroke-width="0.85" fill="none" stroke-linejoin="round" />
<polyline points="154.6,140.8 155.5,140.8 156.4,140.7 157.2,140.7 158.1,140.6 159,140.6 159.9,140.5 160.8,140.4 161.6,140.3 162.5,140.1 163.4,139.9 164.3,139.7 165.2,139.5 166,139.2 166.9,138.9 167.8,138.5 168.7,138 169.6,137.5 170.4,137 171.3,136.4 172.2,135.7 173.1,135 174,134.3 174.8,133.5 175.7,132.7 176.6,131.9 177.5,131.1 178.4,130.3 179.2,129.4 180.1,128.6 181,127.7 181.9,126.9 182.8,126 183.6,125.1 184.5,124.2 185.4,123.3 186.3,122.4 187.2,121.5 188,120.6 188.9,119.7 189.8,118.8 190.7,117.8 191.6,116.9 192.4,116 193.3,115.1 194.2,114.1 195.1,113.2 196,112.3 196.8,111.3 197.7,110.4 198.6,109.5 199.5,108.5 200.4,107.6 201.2,106.7 202.1,105.7 203,104.8 203.9,103.9 204.8,102.9 205.6,102 206.5,101 207.4,100.1 208.3,99.2 209.2,98.2 210,97.3 210.9,96.4 211.8,95.4 212.7,94.5 213.6,93.5 214.4,92.6 215.3,91.7 216.2,90.7 217.1,89.8 218,88.9 218.8,87.9 219.7,87 220.6,86.1 221.5,85.1 222.4,84.2 223.2,83.2 224.1,82.3 225,81.4" stroke="#22d69a" stroke-width="0.85" fill="none" stroke-linejoin="round" />
<polyline points="154.6,140.8 155.5,140.8 156.4,140.8 157.2,140.8 158.1,140.7 159,140.7 159.9,140.7 160.8,140.6 161.6,140.6 162.5,140.5 163.4,140.4 164.3,140.4 165.2,140.2 166,140.1 166.9,140 167.8,139.8 168.7,139.5 169.6,139.3 170.4,139 171.3,138.6 172.2,138.2 173.1,137.7 174,137.2 174.8,136.6 175.7,136 176.6,135.3 177.5,134.6 178.4,133.8 179.2,133.1 180.1,132.3 181,131.5 181.9,130.7 182.8,129.9 183.6,129.2 184.5,128.4 185.4,127.6 186.3,126.8 187.2,126 188,125.2 188.9,124.4 189.8,123.6 190.7,122.8 191.6,122 192.4,121.2 193.3,120.3 194.2,119.5 195.1,118.7 196,117.8 196.8,117 197.7,116.2 198.6,115.3 199.5,114.5 200.4,113.6 201.2,112.8 202.1,112 203,111.1 203.9,110.3 204.8,109.4 205.6,108.6 206.5,107.8 207.4,106.9 208.3,106.1 209.2,105.2 210,104.4 210.9,103.5 211.8,102.7 212.7,101.9 213.6,101 214.4,100.2 215.3,99.3 216.2,98.5 217.1,97.6 218,96.8 218.8,95.9 219.7,95.1 220.6,94.3 221.5,93.4 222.4,92.6 223.2,91.7 224.1,90.9 225,90" stroke="#22c8d8" stroke-width="0.85" fill="none" stroke-linejoin="round" />
<polyline points="154.6,140.8 155.5,140.8 156.4,140.8 157.2,140.8 158.1,140.8 159,140.8 159.9,140.7 160.8,140.7 161.6,140.7 162.5,140.7 163.4,140.6 164.3,140.6 165.2,140.6 166,140.5 166.9,140.4 167.8,140.4 168.7,140.3 169.6,140.1 170.4,140 171.3,139.8 172.2,139.6 173.1,139.4 174,139.1 174.8,138.7 175.7,138.3 176.6,137.9 177.5,137.4 178.4,136.8 179.2,136.1 180.1,135.4 181,134.7 181.9,133.9 182.8,133.1 183.6,132.3 184.5,131.5 185.4,130.7 186.3,129.9 187.2,129.1 188,128.3 188.9,127.5 189.8,126.7 190.7,126 191.6,125.2 192.4,124.4 193.3,123.6 194.2,122.8 195.1,122 196,121.2 196.8,120.4 197.7,119.6 198.6,118.8 199.5,118 200.4,117.2 201.2,116.4 202.1,115.6 203,114.7 203.9,113.9 204.8,113.1 205.6,112.3 206.5,111.5 207.4,110.6 208.3,109.8 209.2,109 210,108.2 210.9,107.4 211.8,106.5 212.7,105.7 213.6,104.9 214.4,104.1 215.3,103.2 216.2,102.4 217.1,101.6 218,100.8 218.8,100 219.7,99.1 220.6,98.3 221.5,97.5 222.4,96.7 223.2,95.8 224.1,95 225,94.2" stroke="#22a4f4" stroke-width="0.85" fill="none" stroke-linejoin="round" />
<polyline points="154.6,140.8 155.5,140.8 156.4,140.8 157.2,140.8 158.1,140.8 159,140.8 159.9,140.8 160.8,140.8 161.6,140.8 162.5,140.8 163.4,140.7 164.3,140.7 165.2,140.7 166,140.7 166.9,140.7 167.8,140.6 168.7,140.6 169.6,140.5 170.4,140.4 171.3,140.3 172.2,140.2 173.1,140.1 174,139.9 174.8,139.7 175.7,139.5 176.6,139.2 177.5,138.8 178.4,138.4 179.2,137.9 180.1,137.3 181,136.7 181.9,135.9 182.8,135.1 183.6,134.3 184.5,133.4 185.4,132.5 186.3,131.6 187.2,130.7 188,129.9 188.9,129 189.8,128.2 190.7,127.4 191.6,126.6 192.4,125.8 193.3,125 194.2,124.3 195.1,123.5 196,122.7 196.8,122 197.7,121.2 198.6,120.4 199.5,119.6 200.4,118.9 201.2,118.1 202.1,117.3 203,116.5 203.9,115.7 204.8,115 205.6,114.2 206.5,113.4 207.4,112.6 208.3,111.8 209.2,111 210,110.3 210.9,109.5 211.8,108.7 212.7,107.9 213.6,107.1 214.4,106.3 215.3,105.5 216.2,104.8 217.1,104 218,103.2 218.8,102.4 219.7,101.6 220.6,100.8 221.5,100 222.4,99.3 223.2,98.5 224.1,97.7 225,96.9" stroke="#2a7cff" stroke-width="0.85" fill="none" stroke-linejoin="round" />
<polyline points="154.6,140.8 155.5,140.8 156.4,140.8 157.2,140.8 158.1,140.8 159,140.8 159.9,140.8 160.8,140.8 161.6,140.8 162.5,140.8 163.4,140.8 164.3,140.8 165.2,140.7 166,140.7 166.9,140.7 167.8,140.7 168.7,140.7 169.6,140.6 170.4,140.6 171.3,140.5 172.2,140.4 173.1,140.4 174,140.3 174.8,140.1 175.7,140 176.6,139.8 177.5,139.5 178.4,139.2 179.2,138.9 180.1,138.4 181,137.9 181.9,137.4 182.8,136.7 183.6,136 184.5,135.1 185.4,134.3 186.3,133.4 187.2,132.4 188,131.5 188.9,130.6 189.8,129.7 190.7,128.8 191.6,128 192.4,127.2 193.3,126.4 194.2,125.7 195.1,125 196,124.2 196.8,123.5 197.7,122.8 198.6,122.1 199.5,121.3 200.4,120.6 201.2,119.9 202.1,119.2 203,118.4 203.9,117.7 204.8,117 205.6,116.2 206.5,115.5 207.4,114.8 208.3,114.1 209.2,113.3 210,112.6 210.9,111.9 211.8,111.1 212.7,110.4 213.6,109.7 214.4,108.9 215.3,108.2 216.2,107.5 217.1,106.7 218,106 218.8,105.3 219.7,104.5 220.6,103.8 221.5,103.1 222.4,102.3 223.2,101.6 224.1,100.9 225,100.1" stroke="#2f5cff" stroke-width="0.85" fill="none" stroke-linejoin="round" />
<polyline points="154.6,140.8 155.5,140.8 156.4,140.8 157.2,140.8 158.1,140.8 159,140.8 159.9,140.8 160.8,140.8 161.6,140.8 162.5,140.8 163.4,140.8 164.3,140.8 165.2,140.8 166,140.8 166.9,140.8 167.8,140.8 168.7,140.8 169.6,140.8 170.4,140.8 171.3,140.8 172.2,140.8 173.1,140.7 174,140.7 174.8,140.7 175.7,140.7 176.6,140.6 177.5,140.6 178.4,140.5 179.2,140.5 180.1,140.4 181,140.2 181.9,140.1 182.8,139.8 183.6,139.6 184.5,139.2 185.4,138.8 186.3,138.3 187.2,137.7 188,137 188.9,136.1 189.8,135.2 190.7,134.2 191.6,133.2 192.4,132.1 193.3,131.1 194.2,130.1 195.1,129.1 196,128.2 196.8,127.4 197.7,126.5 198.6,125.7 199.5,124.9 200.4,124.2 201.2,123.4 202.1,122.7 203,121.9 203.9,121.2 204.8,120.4 205.6,119.7 206.5,118.9 207.4,118.2 208.3,117.4 209.2,116.7 210,115.9 210.9,115.2 211.8,114.4 212.7,113.7 213.6,112.9 214.4,112.2 215.3,111.4 216.2,110.7 217.1,110 218,109.2 218.8,108.5 219.7,107.7 220.6,107 221.5,106.2 222.4,105.5 223.2,104.7 224.1,104 225,103.2" stroke="#4a3cff" stroke-width="0.85" fill="none" stroke-linejoin="round" />
<polyline points="154.6,140.8 155.5,140.8 156.4,140.8 157.2,140.8 158.1,140.8 159,140.8 159.9,140.8 160.8,140.8 161.6,140.8 162.5,140.8 163.4,140.8 164.3,140.8 165.2,140.8 166,140.8 166.9,140.8 167.8,140.8 168.7,140.8 169.6,140.8 170.4,140.8 171.3,140.8 172.2,140.8 173.1,140.8 174,140.8 174.8,140.8 175.7,140.8 176.6,140.7 177.5,140.7 178.4,140.7 179.2,140.7 180.1,140.6 181,140.6 181.9,140.5 182.8,140.4 183.6,140.3 184.5,140.1 185.4,139.9 186.3,139.7 187.2,139.4 188,139 188.9,138.5 189.8,137.9 190.7,137.2 191.6,136.3 192.4,135.4 193.3,134.3 194.2,133.2 195.1,132.1 196,130.9 196.8,129.8 197.7,128.8 198.6,127.8 199.5,126.8 200.4,125.9 201.2,125 202.1,124.2 203,123.4 203.9,122.6 204.8,121.8 205.6,121 206.5,120.3 207.4,119.5 208.3,118.7 209.2,118 210,117.2 210.9,116.4 211.8,115.7 212.7,114.9 213.6,114.1 214.4,113.3 215.3,112.6 216.2,111.8 217.1,111 218,110.3 218.8,109.5 219.7,108.7 220.6,108 221.5,107.2 222.4,106.4 223.2,105.6 224.1,104.9 225,104.1" stroke="#7424f0" stroke-width="0.85" fill="none" stroke-linejoin="round" />
<polyline points="154.6,140.8 155.5,140.8 156.4,140.8 157.2,140.8 158.1,140.8 159,140.8 159.9,140.8 160.8,140.8 161.6,140.8 162.5,140.8 163.4,140.8 164.3,140.8 165.2,140.8 166,140.8 166.9,140.8 167.8,140.8 168.7,140.8 169.6,140.8 170.4,140.8 171.3,140.8 172.2,140.8 173.1,140.8 174,140.8 174.8,140.8 175.7,140.8 176.6,140.8 177.5,140.8 178.4,140.7 179.2,140.7 180.1,140.7 181,140.7 181.9,140.6 182.8,140.6 183.6,140.5 184.5,140.4 185.4,140.3 186.3,140.2 187.2,140 188,139.8 188.9,139.5 189.8,139.1 190.7,138.7 191.6,138.1 192.4,137.5 193.3,136.7 194.2,135.8 195.1,134.8 196,133.7 196.8,132.5 197.7,131.3 198.6,130.2 199.5,129 200.4,128 201.2,127 202.1,126 203,125.1 203.9,124.2 204.8,123.3 205.6,122.5 206.5,121.6 207.4,120.8 208.3,120 209.2,119.2 210,118.4 210.9,117.6 211.8,116.7 212.7,115.9 213.6,115.1 214.4,114.3 215.3,113.5 216.2,112.7 217.1,111.9 218,111.1 218.8,110.2 219.7,109.4 220.6,108.6 221.5,107.8 222.4,107 223.2,106.2 224.1,105.3 225,104.5" stroke="#8a22ea" stroke-width="0.85" fill="none" stroke-linejoin="round" />
<polyline points="154.6,140.8 155.5,140.8 156.4,140.8 157.2,140.8 158.1,140.8 159,140.8 159.9,140.8 160.8,140.8 161.6,140.8 162.5,140.8 163.4,140.8 164.3,140.8 165.2,140.8 166,140.8 166.9,140.8 167.8,140.8 168.7,140.8 169.6,140.8 170.4,140.8 171.3,140.8 172.2,140.8 173.1,140.8 174,140.8 174.8,140.8 175.7,140.8 176.6,140.8 177.5,140.8 178.4,140.8 179.2,140.7 180.1,140.7 181,140.7 181.9,140.7 182.8,140.6 183.6,140.6 184.5,140.5 185.4,140.5 186.3,140.4 187.2,140.2 188,140.1 188.9,139.9 189.8,139.6 190.7,139.2 191.6,138.8 192.4,138.3 193.3,137.6 194.2,136.9 195.1,136 196,135 196.8,133.9 197.7,132.8 198.6,131.6 199.5,130.5 200.4,129.3 201.2,128.2 202.1,127.2 203,126.2 203.9,125.3 204.8,124.4 205.6,123.5 206.5,122.7 207.4,121.8 208.3,121 209.2,120.2 210,119.4 210.9,118.6 211.8,117.7 212.7,116.9 213.6,116.1 214.4,115.3 215.3,114.5 216.2,113.7 217.1,112.9 218,112 218.8,111.2 219.7,110.4 220.6,109.6 221.5,108.8 222.4,108 223.2,107.1 224.1,106.3 225,105.5" stroke="#9b1fe0" stroke-width="0.85" fill="none" stroke-linejoin="round" />
</g>
<rect x="153.6" y="86" width="67.4" height="55" stroke="#b0b0b0" stroke-width="0.9" fill="none" />
<line x1="165.6" y1="141" x2="165.6" y2="139" stroke="#777" stroke-width="0.7" />
<line x1="165.6" y1="86" x2="165.6" y2="88" stroke="#777" stroke-width="0.7" />
<line x1="176.6" y1="141" x2="176.6" y2="138.5" stroke="#777" stroke-width="0.7" />
<line x1="176.6" y1="86" x2="176.6" y2="88.5" stroke="#777" stroke-width="0.7" />
<line x1="187.6" y1="141" x2="187.6" y2="139" stroke="#777" stroke-width="0.7" />
<line x1="187.6" y1="86" x2="187.6" y2="88" stroke="#777" stroke-width="0.7" />
<line x1="198.6" y1="141" x2="198.6" y2="138.5" stroke="#777" stroke-width="0.7" />
<line x1="198.6" y1="86" x2="198.6" y2="88.5" stroke="#777" stroke-width="0.7" />
<line x1="209.6" y1="141" x2="209.6" y2="139" stroke="#777" stroke-width="0.7" />
<line x1="209.6" y1="86" x2="209.6" y2="88" stroke="#777" stroke-width="0.7" />
<line x1="153.6" y1="129.85" x2="156.1" y2="129.85" stroke="#777" stroke-width="0.7" />
<line x1="221" y1="129.85" x2="218.5" y2="129.85" stroke="#777" stroke-width="0.7" />
<line x1="153.6" y1="118.9" x2="156.1" y2="118.9" stroke="#777" stroke-width="0.7" />
<line x1="221" y1="118.9" x2="218.5" y2="118.9" stroke="#777" stroke-width="0.7" />
<line x1="153.6" y1="107.95" x2="156.1" y2="107.95" stroke="#777" stroke-width="0.7" />
<line x1="221" y1="107.95" x2="218.5" y2="107.95" stroke="#777" stroke-width="0.7" />
<line x1="153.6" y1="97" x2="156.1" y2="97" stroke="#777" stroke-width="0.7" />
<line x1="221" y1="97" x2="218.5" y2="97" stroke="#777" stroke-width="0.7" />
<text x="154.6" y="150.54" font-size="8.2" text-anchor="middle" fill="#1a1a1a"  stroke="#1a1a1a" stroke-width="0.15">0.0</text>
<text x="176.6" y="150.54" font-size="8.2" text-anchor="middle" fill="#1a1a1a"  stroke="#1a1a1a" stroke-width="0.15">0.1</text>
<text x="198.6" y="150.54" font-size="8.2" text-anchor="middle" fill="#1a1a1a"  stroke="#1a1a1a" stroke-width="0.15">0.2</text>
<text x="150.9" y="99.94" font-size="8.2" text-anchor="end" fill="#1a1a1a"  stroke="#1a1a1a" stroke-width="0.15">40</text>
<text x="150.9" y="121.84" font-size="8.2" text-anchor="end" fill="#1a1a1a"  stroke="#1a1a1a" stroke-width="0.15">20</text>
<text x="150.9" y="143.74" font-size="8.2" text-anchor="end" fill="#1a1a1a"  stroke="#1a1a1a" stroke-width="0.15">0</text>
<text x="190.3" y="159.2" font-size="8.2" text-anchor="middle" fill="#1a1a1a" stroke="#1a1a1a" stroke-width="0.15"><tspan font-style="italic">I</tspan><tspan font-size="6" dy="2">bias</tspan><tspan dy="-2"> (µA)</tspan></text>
<text transform="translate(139,116.6) rotate(-90)" font-size="8" text-anchor="middle" fill="#1a1a1a" stroke="#1a1a1a" stroke-width="0.15"><tspan font-style="italic">V</tspan><tspan font-size="6" dy="2">bias</tspan><tspan dy="-2"> (µV)</tspan></text>
<text x="165.6" y="95.52" font-size="7.6" text-anchor="middle" fill="#ff2aa0"  stroke="#ff2aa0" stroke-width="0.15">7.0 T</text>
<text x="213.2" y="137.52" font-size="7.6" text-anchor="middle" fill="#c03ae0"  stroke="#c03ae0" stroke-width="0.15">0 T</text>
<line x1="214.5" y1="128.5" x2="176.08" y2="94.88" stroke="#888" stroke-width="0.6" stroke-dasharray="1.5,1.2" />
<polygon points="174.5,93.5 178.06,94.75 176.48,95.23 176.21,96.86" fill="#888" stroke="none" stroke-width="1"/>
<clipPath id="cb"><rect x="265.5" y="0.5" width="187.5" height="165"/></clipPath>
<g clip-path="url(#cb)" fill="none">
<polyline points="263.7,147.5 264.3,147.6 264.8,147.6 265.4,147.5 265.9,147.6 266.5,147.6 267.1,147.8 267.6,147.7 268.2,147.9 268.8,148 269.3,148.3 269.9,148.3 270.5,148.3 271,148.3 271.6,148.2 272.2,148.4 272.7,148.4 273.3,148.4 273.8,148.4 274.4,148.5 275,148.3 275.5,148.2 276.1,148.3 276.7,148.6 277.2,148.4 277.8,148.3 278.4,148.4 278.9,148.4 279.5,148.4 280.1,148.4 280.6,148.6 281.2,148.6 281.7,148.6 282.3,148.4 282.9,148.5 283.4,148.7 284,148.7 284.6,148.6 285.1,148.5 285.7,148.5 286.3,148.6 286.8,148.6 287.4,148.3 287.9,148.3 288.5,148.3 289.1,148.3 289.6,148.4 290.2,148.4 290.8,148.4 291.3,148.6 291.9,148.5 292.5,148.5 293,148.6 293.6,148.5 294.2,148.4 294.7,148.5 295.3,148.6 295.8,148.4 296.4,148.4 297,148.4 297.5,148.6 298.1,148.4 298.7,148.4 299.2,148.3 299.8,148.3 300.4,148.4 300.9,148.4 301.5,148.5 302.1,148.4 302.6,148.3 303.2,148.5 303.7,148.7 304.3,148.6 304.9,148.5 305.4,148.7 306,148.7 306.6,148.6 307.1,148.7 307.7,148.5 308.3,148.4 308.8,148.5 309.4,148.4 310,148.4 310.5,148.5 311.1,148.5 311.6,148.6 312.2,148.4 312.8,148.4 313.3,148.5 313.9,148.6 314.5,148.6 315,148.5 315.6,148.4 316.2,148.3 316.7,148.3 317.3,148.2 317.9,148.1 318.4,148.1 319,148.3 319.5,148.4 320.1,148.3 320.7,148.1 321.2,148 321.8,147.9 322.4,147.7 322.9,147.4 323.5,146.8 324.1,146 324.6,144.8 325.2,142.3 325.7,138.5 326.3,136.7 326.9,139.4 327.4,142.9 328,145 328.6,146.2 329.1,146.9 329.7,147.3 330.3,147.7 330.8,147.9 331.4,147.8 332,148.1 332.5,148 333.1,148 333.6,148.1 334.2,148.2 334.8,148.3 335.3,148.3 335.9,148.4 336.5,148.4 337,148.4 337.6,148.5 338.2,148.4 338.7,148.7 339.3,148.7 339.9,148.6 340.4,148.5 341,148.5 341.5,148.6 342.1,148.6 342.7,148.4 343.2,148.3 343.8,148.5 344.4,148.3 344.9,148.3 345.5,148.4 346.1,148.3 346.6,148.4 347.2,148.4 347.8,148.6 348.3,148.6 348.9,148.4 349.4,148.2 350,148.2 350.6,148.2 351.1,148.1 351.7,147.8 352.3,147.3 352.8,146.4 353.4,145 354,142.8 354.5,140.1 355.1,141.1 355.7,148.6 356.2,155.6 356.8,159.7 357.3,161.4 357.9,162.2 358.5,162.5 359,162.7 359.6,163 360.2,162.9 360.7,162.6 361.3,162.1 361.9,161.2 362.4,159.6 363,155.5 363.5,148.5 364.1,141 364.7,140 365.2,142.7 365.8,144.8 366.4,146.2 366.9,147 367.5,147.4 368.1,147.7 368.6,148 369.2,148.1 369.8,148.3 370.3,148.4 370.9,148.5 371.4,148.5 372,148.5 372.6,148.5 373.1,148.5 373.7,148.3 374.3,148.5 374.8,148.7 375.4,148.6 376,148.4 376.5,148.5 377.1,148.4 377.7,148.5 378.2,148.3 378.8,148.6 379.3,148.7 379.9,148.6 380.5,148.3 381,148.3 381.6,148.5 382.2,148.5 382.7,148.4 383.3,148.4 383.9,148.4 384.4,148.2 385,148.2 385.6,148.3 386.1,148.3 386.7,148.3 387.2,148.2 387.8,148 388.4,147.8 388.9,147.7 389.5,147.3 390.1,146.8 390.6,145.6 391.2,144 391.8,141.1 392.3,137.6 392.9,137.3 393.5,140.7 394,143.7 394.6,145.4 395.1,146.5 395.7,147.1 396.3,147.5 396.8,147.8 397.4,148.2 398,148.3 398.5,148.3 399.1,148.3 399.7,148.5 400.2,148.4 400.8,148.2 401.3,148.3 401.9,148.4 402.5,148.3 403,148.5 403.6,148.3 404.2,148.2 404.7,148.3 405.3,148.4 405.9,148.4 406.4,148.5 407,148.5 407.6,148.7 408.1,148.5 408.7,148.5 409.2,148.8 409.8,148.7 410.4,148.7 410.9,148.8 411.5,148.7 412.1,148.6 412.6,148.3 413.2,148.4 413.8,148.6 414.3,148.6 414.9,148.5 415.5,148.6 416,148.6 416.6,148.6 417.1,148.6 417.7,148.7 418.3,148.6 418.8,148.8 419.4,148.8 420,148.7 420.5,148.7 421.1,148.7 421.7,148.7 422.2,148.6 422.8,148.6 423.4,148.5 423.9,148.5 424.5,148.6 425,148.5 425.6,148.5 426.2,148.5 426.7,148.4 427.3,148.5 427.9,148.5 428.4,148.6 429,148.5 429.6,148.3 430.1,148.4 430.7,148.5 431.3,148.4 431.8,148.5 432.4,148.5 432.9,148.4 433.5,148.4 434.1,148.5 434.6,148.4 435.2,148.4 435.8,148.5 436.3,148.7 436.9,148.5 437.5,148.4 438,148.6 438.6,148.5 439.1,148.5 439.7,148.4 440.3,148.4 440.8,148.5 441.4,148.5 442,148.6 442.5,148.6 443.1,148.6 443.7,148.3 444.2,148.4 444.8,148.6 445.4,148.4 445.9,148.5 446.5,148.3 447,148.2 447.6,148.1 448.2,147.9 448.7,147.9 449.3,147.9 449.9,148 450.4,147.8 451,147.7 451.6,147.9 452.1,147.8 452.7,147.8 453.3,147.9 453.8,147.7 454.4,147.4 454.9,147.4 455.5,147.3" stroke="#b630d8" stroke-width="1.1" fill="none" stroke-linejoin="round" />
<polyline points="263.7,135.7 264.3,135.7 264.8,136 265.4,135.8 265.9,135.7 266.5,135.7 267.1,135.7 267.6,135.8 268.2,135.7 268.8,135.8 269.3,135.7 269.9,135.8 270.5,135.6 271,135.4 271.6,135.3 272.2,135.1 272.7,134.7 273.3,134.6 273.8,134.2 274.4,134.2 275,133.9 275.5,133.8 276.1,133.6 276.7,133.6 277.2,133.7 277.8,133.8 278.4,133.7 278.9,133.7 279.5,134.1 280.1,134.2 280.6,134.5 281.2,134.9 281.7,135.1 282.3,135.6 282.9,136 283.4,136.3 284,136.5 284.6,136.8 285.1,137.2 285.7,137.4 286.3,137.7 286.8,137.8 287.4,137.9 287.9,138 288.5,138.1 289.1,138.2 289.6,138.3 290.2,138.5 290.8,138.4 291.3,138.3 291.9,138.3 292.5,138.3 293,138.1 293.6,138.3 294.2,138.3 294.7,138.5 295.3,138.5 295.8,138.3 296.4,138.5 297,138.5 297.5,138.6 298.1,138.6 298.7,138.8 299.2,138.6 299.8,138.6 300.4,138.5 300.9,138.5 301.5,138.3 302.1,138.5 302.6,138.3 303.2,138.5 303.7,138.5 304.3,138.6 304.9,138.4 305.4,138.6 306,138.5 306.6,138.6 307.1,138.5 307.7,138.7 308.3,138.6 308.8,138.6 309.4,138.6 310,138.4 310.5,138.4 311.1,138.4 311.6,138.5 312.2,138.5 312.8,138.7 313.3,138.8 313.9,138.8 314.5,138.7 315,138.7 315.6,138.8 316.2,138.8 316.7,138.7 317.3,138.5 317.9,138.6 318.4,138.6 319,138.5 319.5,138.3 320.1,138.1 320.7,137.9 321.2,137.8 321.8,137.8 322.4,137.7 322.9,137.3 323.5,136.9 324.1,136.3 324.6,134.9 325.2,132.6 325.7,129.1 326.3,127.7 326.9,130.2 327.4,133.5 328,135.5 328.6,136.5 329.1,137.2 329.7,137.6 330.3,137.9 330.8,138 331.4,138.2 332,138.3 332.5,138.2 333.1,138.4 333.6,138.3 334.2,138.2 334.8,138.3 335.3,138.2 335.9,138.3 336.5,138.2 337,138.4 337.6,138.5 338.2,138.4 338.7,138.6 339.3,138.5 339.9,138.5 340.4,138.4 341,138.5 341.5,138.5 342.1,138.5 342.7,138.8 343.2,138.8 343.8,138.6 344.4,138.5 344.9,138.4 345.5,138.4 346.1,138.3 346.6,138.1 347.2,138.3 347.8,138.2 348.3,138.5 348.9,138.4 349.4,138.4 350,138.3 350.6,138.1 351.1,138.1 351.7,137.8 352.3,137.5 352.8,137.1 353.4,136 354,134.8 354.5,133.5 355.1,135.4 355.7,142.3 356.2,148.2 356.8,151.3 357.3,153 357.9,153.6 358.5,154 359,154.2 359.6,154.3 360.2,154.1 360.7,154 361.3,153.8 361.9,153.2 362.4,151.8 363,148.4 363.5,142.3 364.1,135.5 364.7,133.5 365.2,134.8 365.8,136.1 366.4,136.9 366.9,137.3 367.5,137.7 368.1,137.9 368.6,138.1 369.2,138.3 369.8,138.3 370.3,138.1 370.9,138.2 371.4,138.3 372,138.2 372.6,138.2 373.1,138.2 373.7,138.5 374.3,138.6 374.8,138.5 375.4,138.4 376,138.5 376.5,138.5 377.1,138.5 377.7,138.4 378.2,138.3 378.8,138.5 379.3,138.5 379.9,138.6 380.5,138.5 381,138.5 381.6,138.5 382.2,138.5 382.7,138.6 383.3,138.6 383.9,138.5 384.4,138.4 385,138.5 385.6,138.3 386.1,138.3 386.7,138.4 387.2,138.4 387.8,138.3 388.4,137.9 388.9,137.8 389.5,137.3 390.1,136.9 390.6,135.9 391.2,134.4 391.8,131.6 392.3,128.3 392.9,128.2 393.5,131.4 394,134.3 394.6,136 395.1,136.8 395.7,137.3 396.3,137.5 396.8,137.8 397.4,138.1 398,138.2 398.5,138.4 399.1,138.6 399.7,138.5 400.2,138.6 400.8,138.6 401.3,138.5 401.9,138.3 402.5,138.4 403,138.3 403.6,138.5 404.2,138.2 404.7,138.1 405.3,138.1 405.9,138.3 406.4,138.4 407,138.4 407.6,138.4 408.1,138.4 408.7,138.4 409.2,138.5 409.8,138.5 410.4,138.5 410.9,138.5 411.5,138.5 412.1,138.5 412.6,138.8 413.2,138.9 413.8,138.9 414.3,138.5 414.9,138.6 415.5,138.7 416,138.7 416.6,138.5 417.1,138.5 417.7,138.8 418.3,138.7 418.8,138.5 419.4,138.5 420,138.6 420.5,138.6 421.1,138.4 421.7,138.2 422.2,138.4 422.8,138.2 423.4,138.4 423.9,138.6 424.5,138.6 425,138.5 425.6,138.5 426.2,138.4 426.7,138.3 427.3,138.2 427.9,138.2 428.4,138.3 429,138.5 429.6,138.3 430.1,138.3 430.7,138.1 431.3,138 431.8,138 432.4,137.9 432.9,137.7 433.5,137.5 434.1,137.3 434.6,136.9 435.2,136.6 435.8,136.1 436.3,135.9 436.9,135.6 437.5,135.3 438,134.7 438.6,134.6 439.1,134.2 439.7,133.7 440.3,133.6 440.8,133.5 441.4,133.3 442,133.4 442.5,133.5 443.1,133.5 443.7,133.5 444.2,133.8 444.8,134 445.4,134.2 445.9,134.3 446.5,134.5 447,134.7 447.6,134.7 448.2,134.9 448.7,135.3 449.3,135.4 449.9,135.5 450.4,135.6 451,135.7 451.6,135.9 452.1,135.9 452.7,135.8 453.3,135.9 453.8,135.9 454.4,135.8 454.9,135.9 455.5,135.9" stroke="#a030dc" stroke-width="1.1" fill="none" stroke-linejoin="round" />
<polyline points="263.7,125.1 264.3,125.2 264.8,125.2 265.4,125.3 265.9,125.1 266.5,125 267.1,125 267.6,124.9 268.2,125.1 268.8,125.1 269.3,125 269.9,125 270.5,125.2 271,125.1 271.6,125.1 272.2,125.2 272.7,125.3 273.3,125.4 273.8,125.3 274.4,125.2 275,125.1 275.5,125.2 276.1,125.3 276.7,125.4 277.2,125.4 277.8,125.5 278.4,125.2 278.9,125.1 279.5,125.1 280.1,125 280.6,124.9 281.2,124.9 281.7,124.5 282.3,124.4 282.9,124.2 283.4,124.1 284,124 284.6,123.8 285.1,123.7 285.7,123.7 286.3,123.4 286.8,123.3 287.4,123.3 287.9,123.3 288.5,123.4 289.1,123.5 289.6,123.9 290.2,124.1 290.8,124.2 291.3,124.8 291.9,125 292.5,125.5 293,126 293.6,126.3 294.2,126.5 294.7,127 295.3,127.1 295.8,127.3 296.4,127.5 297,127.7 297.5,128.1 298.1,128.2 298.7,128.1 299.2,128.4 299.8,128.6 300.4,128.6 300.9,128.8 301.5,128.9 302.1,128.9 302.6,128.8 303.2,128.8 303.7,128.9 304.3,129 304.9,128.9 305.4,128.7 306,128.8 306.6,128.9 307.1,129 307.7,129 308.3,129.1 308.8,129 309.4,129 310,128.9 310.5,129 311.1,129 311.6,129 312.2,128.9 312.8,128.9 313.3,128.9 313.9,128.8 314.5,128.9 315,128.9 315.6,128.9 316.2,129 316.7,129 317.3,129.1 317.9,129.1 318.4,128.8 319,128.6 319.5,128.7 320.1,128.7 320.7,128.7 321.2,128.8 321.8,128.8 322.4,128.7 322.9,128.6 323.5,128.7 324.1,128.3 324.6,128.4 325.2,128.2 325.7,128 326.3,127.6 326.9,127 327.4,126.1 328,124 328.6,120.9 329.1,118.8 329.7,120.4 330.3,123.5 330.8,125.5 331.4,126.8 332,127.4 332.5,127.9 333.1,128 333.6,128.3 334.2,128.4 334.8,128.6 335.3,128.9 335.9,128.9 336.5,129 337,128.8 337.6,128.7 338.2,129 338.7,128.7 339.3,128.8 339.9,128.8 340.4,129 341,128.9 341.5,128.9 342.1,128.9 342.7,129 343.2,129 343.8,128.9 344.4,129 344.9,129.1 345.5,128.9 346.1,128.9 346.6,128.9 347.2,128.8 347.8,128.7 348.3,128.7 348.9,128.7 349.4,128.5 350,128.5 350.6,128.4 351.1,128.3 351.7,128.1 352.3,128.1 352.8,127.7 353.4,126.6 354,125.3 354.5,124 355.1,126.3 355.7,133.4 356.2,139.8 356.8,143.3 357.3,144.8 357.9,145.4 358.5,145.7 359,145.9 359.6,146.1 360.2,146.2 360.7,145.9 361.3,145.8 361.9,145 362.4,143.3 363,139.6 363.5,133.3 364.1,126.3 364.7,124 365.2,125.2 365.8,126.6 366.4,127.6 366.9,128.1 367.5,128.3 368.1,128.6 368.6,128.6 369.2,128.6 369.8,128.8 370.3,128.9 370.9,128.9 371.4,128.9 372,128.5 372.6,128.8 373.1,129 373.7,128.7 374.3,128.5 374.8,128.6 375.4,128.8 376,128.9 376.5,128.9 377.1,128.8 377.7,128.7 378.2,128.8 378.8,128.7 379.3,128.9 379.9,128.9 380.5,128.9 381,128.7 381.6,128.9 382.2,128.8 382.7,128.6 383.3,128.5 383.9,128.3 384.4,128.4 385,128.2 385.6,128.2 386.1,128 386.7,127.9 387.2,127.1 387.8,126.4 388.4,124.8 388.9,122.2 389.5,119.1 390.1,119.6 390.6,122.7 391.2,125.2 391.8,126.6 392.3,127.3 392.9,127.6 393.5,128.1 394,128.1 394.6,128.6 395.1,128.6 395.7,128.5 396.3,128.7 396.8,128.7 397.4,128.7 398,128.7 398.5,128.7 399.1,128.6 399.7,128.8 400.2,129 400.8,129 401.3,128.9 401.9,128.9 402.5,129 403,129 403.6,129 404.2,129 404.7,128.8 405.3,129 405.9,129.1 406.4,129.1 407,129.1 407.6,129.1 408.1,128.9 408.7,129 409.2,129.1 409.8,128.9 410.4,128.9 410.9,129 411.5,129 412.1,128.8 412.6,128.7 413.2,128.6 413.8,128.7 414.3,128.9 414.9,128.9 415.5,128.8 416,128.8 416.6,128.7 417.1,128.8 417.7,128.7 418.3,128.6 418.8,128.7 419.4,128.6 420,128.4 420.5,128.2 421.1,128.2 421.7,128.2 422.2,127.9 422.8,127.8 423.4,127.5 423.9,127.1 424.5,127 425,126.6 425.6,126.3 426.2,125.9 426.7,125.7 427.3,125.4 427.9,124.9 428.4,124.6 429,124.3 429.6,124 430.1,123.8 430.7,123.7 431.3,123.6 431.8,123.4 432.4,123.5 432.9,123.5 433.5,123.7 434.1,123.8 434.6,123.9 435.2,123.8 435.8,124.3 436.3,124.3 436.9,124.5 437.5,124.8 438,125 438.6,125 439.1,125.2 439.7,125.2 440.3,125.2 440.8,125.4 441.4,125.4 442,125.3 442.5,125.2 443.1,125.2 443.7,125 444.2,125.1 444.8,125.2 445.4,125.2 445.9,125.1 446.5,125.3 447,125.2 447.6,125.1 448.2,125.1 448.7,125 449.3,125 449.9,124.9 450.4,124.9 451,124.7 451.6,124.9 452.1,124.9 452.7,124.9 453.3,125 453.8,125 454.4,125.2 454.9,125 455.5,125" stroke="#8830e4" stroke-width="1.1" fill="none" stroke-linejoin="round" />
<polyline points="263.7,113.7 264.3,113.7 264.8,113.6 265.4,113.5 265.9,113.5 266.5,113.6 267.1,113.6 267.6,113.6 268.2,113.4 268.8,113.7 269.3,113.7 269.9,113.6 270.5,113.7 271,113.7 271.6,113.7 272.2,113.7 272.7,113.7 273.3,113.8 273.8,113.8 274.4,113.9 275,113.9 275.5,113.9 276.1,113.9 276.7,113.7 277.2,113.6 277.8,113.8 278.4,113.6 278.9,113.7 279.5,113.8 280.1,113.9 280.6,113.7 281.2,113.7 281.7,113.7 282.3,113.7 282.9,113.8 283.4,113.9 284,114 284.6,114.2 285.1,114.1 285.7,113.7 286.3,113.4 286.8,113.3 287.4,113.1 287.9,113.1 288.5,113 289.1,112.8 289.6,112.6 290.2,112.4 290.8,112.2 291.3,112.1 291.9,112 292.5,111.9 293,112 293.6,112.2 294.2,112.6 294.7,112.7 295.3,112.8 295.8,113.1 296.4,113.5 297,113.8 297.5,114.2 298.1,114.6 298.7,115 299.2,115.6 299.8,115.8 300.4,116.3 300.9,116.7 301.5,117 302.1,117.3 302.6,117.5 303.2,117.7 303.7,117.7 304.3,117.7 304.9,117.8 305.4,117.9 306,118.1 306.6,118.1 307.1,118.1 307.7,118.1 308.3,118.3 308.8,118.2 309.4,118.4 310,118.4 310.5,118.3 311.1,118.3 311.6,118.2 312.2,118 312.8,118.1 313.3,118.2 313.9,118.5 314.5,118.5 315,118.6 315.6,118.6 316.2,118.5 316.7,118.3 317.3,118.3 317.9,118.5 318.4,118.4 319,118.4 319.5,118.5 320.1,118.4 320.7,118.4 321.2,118.6 321.8,118.6 322.4,118.4 322.9,118.4 323.5,118.3 324.1,118.3 324.6,118.3 325.2,118.2 325.7,118 326.3,117.8 326.9,117.7 327.4,117.5 328,117.1 328.6,116.4 329.1,115.3 329.7,113.4 330.3,110.5 330.8,108.5 331.4,110.6 332,113.7 332.5,115.6 333.1,116.6 333.6,117 334.2,117.4 334.8,117.7 335.3,117.9 335.9,118 336.5,118.1 337,118.2 337.6,118.3 338.2,118.2 338.7,118.3 339.3,118.4 339.9,118.4 340.4,118.8 341,118.7 341.5,118.6 342.1,118.4 342.7,118.5 343.2,118.5 343.8,118.6 344.4,118.5 344.9,118.6 345.5,118.4 346.1,118.4 346.6,118.2 347.2,118.3 347.8,118.4 348.3,118.2 348.9,118.3 349.4,118.3 350,118.1 350.6,118 351.1,117.9 351.7,117.8 352.3,117.7 352.8,117.1 353.4,116.1 354,114.7 354.5,113.3 355.1,116 355.7,123.4 356.2,130 356.8,133.9 357.3,135.5 357.9,136.1 358.5,136.6 359,136.7 359.6,136.8 360.2,136.6 360.7,136.5 361.3,136.2 361.9,135.5 362.4,133.7 363,130.2 363.5,123.5 364.1,116.1 364.7,113.7 365.2,114.8 365.8,116.3 366.4,117.2 366.9,117.7 367.5,117.9 368.1,118.2 368.6,118.2 369.2,118.2 369.8,118.2 370.3,118.3 370.9,118.3 371.4,118.5 372,118.5 372.6,118.6 373.1,118.6 373.7,118.7 374.3,118.5 374.8,118.7 375.4,118.5 376,118.5 376.5,118.3 377.1,118.3 377.7,118.3 378.2,118.2 378.8,118.3 379.3,118.4 379.9,118.4 380.5,118.2 381,118.4 381.6,118.3 382.2,118.3 382.7,118 383.3,118.1 383.9,117.9 384.4,117.8 385,117.4 385.6,116.9 386.1,116.1 386.7,114.6 387.2,112.3 387.8,109.3 388.4,109.2 388.9,112.3 389.5,114.7 390.1,116 390.6,116.8 391.2,117.4 391.8,117.7 392.3,118 392.9,118 393.5,118.2 394,118.2 394.6,118.2 395.1,118.2 395.7,118.2 396.3,118.5 396.8,118.5 397.4,118.6 398,118.6 398.5,118.7 399.1,118.6 399.7,118.4 400.2,118.5 400.8,118.4 401.3,118.6 401.9,118.5 402.5,118.4 403,118.5 403.6,118.4 404.2,118.4 404.7,118.5 405.3,118.3 405.9,118.4 406.4,118.2 407,118.3 407.6,118.5 408.1,118.6 408.7,118.5 409.2,118.4 409.8,118.3 410.4,118.4 410.9,118.4 411.5,118.2 412.1,118.1 412.6,117.9 413.2,118 413.8,118 414.3,117.9 414.9,117.9 415.5,117.8 416,117.6 416.6,117.5 417.1,117.2 417.7,117 418.3,116.8 418.8,116.2 419.4,116.1 420,115.7 420.5,115.3 421.1,114.9 421.7,114.6 422.2,114.1 422.8,113.7 423.4,113.2 423.9,112.8 424.5,112.6 425,112.2 425.6,112.1 426.2,111.9 426.7,111.9 427.3,112 427.9,112.1 428.4,112.3 429,112.3 429.6,112.5 430.1,112.6 430.7,112.8 431.3,113 431.8,113.2 432.4,113.3 432.9,113.5 433.5,113.6 434.1,113.7 434.6,113.8 435.2,114 435.8,114.1 436.3,114.1 436.9,114 437.5,114.1 438,114.2 438.6,114.1 439.1,114 439.7,114.1 440.3,114 440.8,113.9 441.4,113.9 442,113.8 442.5,113.9 443.1,113.7 443.7,113.8 444.2,113.7 444.8,113.6 445.4,113.7 445.9,113.6 446.5,113.7 447,113.6 447.6,113.8 448.2,113.6 448.7,113.7 449.3,113.9 449.9,113.7 450.4,113.7 451,113.8 451.6,114.1 452.1,113.9 452.7,113.7 453.3,113.7 453.8,113.7 454.4,113.6 454.9,113.5 455.5,113.7" stroke="#6040ec" stroke-width="1.1" fill="none" stroke-linejoin="round" />
<polyline points="263.7,104.9 264.3,104.8 264.8,104.8 265.4,104.7 265.9,104.6 266.5,104.8 267.1,104.8 267.6,104.8 268.2,104.9 268.8,105 269.3,105 269.9,105 270.5,104.8 271,104.9 271.6,105 272.2,104.8 272.7,104.7 273.3,104.8 273.8,104.7 274.4,104.6 275,104.6 275.5,104.7 276.1,104.7 276.7,104.7 277.2,104.8 277.8,104.9 278.4,105 278.9,105 279.5,105 280.1,104.8 280.6,104.8 281.2,105 281.7,105 282.3,105 282.9,105 283.4,105 284,105 284.6,105 285.1,104.9 285.7,104.8 286.3,104.8 286.8,104.9 287.4,105.3 287.9,105 288.5,105.1 289.1,105.2 289.6,105.2 290.2,105.1 290.8,105 291.3,104.9 291.9,104.7 292.5,104.5 293,104.4 293.6,104.2 294.2,104 294.7,103.8 295.3,103.7 295.8,103.6 296.4,103.3 297,103.1 297.5,102.9 298.1,103 298.7,103 299.2,103.1 299.8,103.4 300.4,103.5 300.9,104 301.5,104.2 302.1,104.7 302.6,105 303.2,105.3 303.7,105.8 304.3,106.2 304.9,106.7 305.4,107.1 306,107.4 306.6,107.7 307.1,108 307.7,108.4 308.3,108.6 308.8,108.6 309.4,108.7 310,108.8 310.5,108.9 311.1,108.8 311.6,108.9 312.2,109 312.8,109 313.3,109.3 313.9,109.4 314.5,109.5 315,109.5 315.6,109.5 316.2,109.6 316.7,109.6 317.3,109.6 317.9,109.6 318.4,109.7 319,109.7 319.5,109.6 320.1,109.6 320.7,109.6 321.2,109.5 321.8,109.6 322.4,109.5 322.9,109.5 323.5,109.6 324.1,109.7 324.6,109.8 325.2,109.8 325.7,109.6 326.3,109.5 326.9,109.2 327.4,109.2 328,109.1 328.6,109.1 329.1,109.1 329.7,109 330.3,108.8 330.8,108.3 331.4,107.6 332,106.8 332.5,104.8 333.1,102.1 333.6,100.9 334.2,102.9 334.8,105.5 335.3,107.1 335.9,107.9 336.5,108.4 337,108.9 337.6,109.1 338.2,109.2 338.7,109.3 339.3,109.4 339.9,109.5 340.4,109.5 341,109.5 341.5,109.4 342.1,109.4 342.7,109.6 343.2,109.6 343.8,109.7 344.4,109.8 344.9,109.6 345.5,109.6 346.1,109.7 346.6,109.5 347.2,109.5 347.8,109.6 348.3,109.5 348.9,109.6 349.4,109.4 350,109.5 350.6,109.6 351.1,109.4 351.7,109.5 352.3,109.2 352.8,109 353.4,108.8 354,108.3 354.5,107.4 355.1,105.8 355.7,104.6 356.2,109.2 356.8,118.7 357.3,124.9 357.9,127.5 358.5,128.4 359,128.9 359.6,129.1 360.2,128.7 360.7,128.2 361.3,127.2 361.9,124.6 362.4,118.4 363,109.1 363.5,104.3 364.1,105.5 364.7,107.2 365.2,108.1 365.8,108.8 366.4,109 366.9,109.2 367.5,109.4 368.1,109.4 368.6,109.6 369.2,109.6 369.8,109.7 370.3,109.6 370.9,109.7 371.4,109.7 372,109.6 372.6,109.5 373.1,109.4 373.7,109.6 374.3,109.5 374.8,109.4 375.4,109.6 376,109.5 376.5,109.6 377.1,109.5 377.7,109.4 378.2,109.4 378.8,109.5 379.3,109.4 379.9,109.1 380.5,109.2 381,109.1 381.6,108.9 382.2,108.6 382.7,108.3 383.3,107.5 383.9,106.3 384.4,104.5 385,101.8 385.6,101 386.1,103.2 386.7,105.7 387.2,107.1 387.8,108.2 388.4,108.6 388.9,108.9 389.5,109 390.1,109.1 390.6,109.2 391.2,109.3 391.8,109.4 392.3,109.6 392.9,109.6 393.5,109.7 394,109.6 394.6,109.6 395.1,109.5 395.7,109.6 396.3,109.6 396.8,109.4 397.4,109.5 398,109.4 398.5,109.6 399.1,109.6 399.7,109.6 400.2,109.6 400.8,109.7 401.3,109.8 401.9,109.8 402.5,109.6 403,109.6 403.6,109.6 404.2,109.5 404.7,109.5 405.3,109.3 405.9,109.4 406.4,109.4 407,109.4 407.6,109.3 408.1,109.2 408.7,109.1 409.2,109 409.8,108.8 410.4,108.7 410.9,108.5 411.5,108.3 412.1,108.1 412.6,107.8 413.2,107.5 413.8,107.2 414.3,106.8 414.9,106.3 415.5,105.8 416,105.5 416.6,105 417.1,104.4 417.7,104 418.3,103.7 418.8,103.6 419.4,103.5 420,103.5 420.5,103.2 421.1,103.1 421.7,103 422.2,103.1 422.8,103.3 423.4,103.6 423.9,103.7 424.5,104 425,104.2 425.6,104.3 426.2,104.2 426.7,104.5 427.3,104.7 427.9,104.6 428.4,104.9 429,104.9 429.6,105 430.1,105.2 430.7,105.2 431.3,105.1 431.8,105.1 432.4,105.2 432.9,105.1 433.5,105.1 434.1,105.1 434.6,105.2 435.2,105.1 435.8,104.9 436.3,104.9 436.9,104.8 437.5,104.8 438,104.8 438.6,104.8 439.1,104.7 439.7,104.9 440.3,104.8 440.8,104.9 441.4,104.9 442,104.8 442.5,104.9 443.1,104.9 443.7,104.9 444.2,104.9 444.8,104.9 445.4,104.7 445.9,104.7 446.5,104.8 447,104.7 447.6,104.5 448.2,104.5 448.7,104.6 449.3,104.7 449.9,104.6 450.4,104.5 451,104.7 451.6,104.7 452.1,104.7 452.7,104.8 453.3,104.8 453.8,104.8 454.4,104.6 454.9,104.8 455.5,104.7" stroke="#3c48f2" stroke-width="1.1" fill="none" stroke-linejoin="round" />
<polyline points="263.7,95.7 264.3,95.6 264.8,95.6 265.4,95.4 265.9,95.4 266.5,95.6 267.1,95.6 267.6,95.6 268.2,95.5 268.8,95.7 269.3,95.7 269.9,95.8 270.5,95.7 271,95.7 271.6,95.6 272.2,95.6 272.7,95.4 273.3,95.5 273.8,95.6 274.4,95.6 275,95.7 275.5,95.7 276.1,95.8 276.7,95.7 277.2,95.6 277.8,95.6 278.4,95.9 278.9,95.6 279.5,95.6 280.1,95.6 280.6,95.7 281.2,95.5 281.7,95.7 282.3,95.5 282.9,95.7 283.4,95.7 284,95.6 284.6,95.7 285.1,95.5 285.7,95.6 286.3,95.5 286.8,95.4 287.4,95.4 287.9,95.5 288.5,95.8 289.1,95.7 289.6,95.9 290.2,95.8 290.8,95.8 291.3,95.9 291.9,95.8 292.5,95.9 293,95.9 293.6,95.9 294.2,95.8 294.7,95.8 295.3,96.1 295.8,95.8 296.4,95.9 297,95.9 297.5,95.9 298.1,96 298.7,96 299.2,95.8 299.8,95.8 300.4,95.6 300.9,95.4 301.5,95.2 302.1,95.2 302.6,95 303.2,94.8 303.7,94.6 304.3,94.6 304.9,94.4 305.4,94.2 306,94.3 306.6,94.1 307.1,94 307.7,94.1 308.3,93.9 308.8,94 309.4,94.3 310,94.6 310.5,94.9 311.1,95.3 311.6,95.7 312.2,96.2 312.8,96.5 313.3,97 313.9,97.5 314.5,97.7 315,97.8 315.6,98.3 316.2,98.8 316.7,99 317.3,99.4 317.9,99.4 318.4,99.6 319,99.8 319.5,99.8 320.1,99.9 320.7,100 321.2,100.1 321.8,100.3 322.4,100.3 322.9,100.2 323.5,100.4 324.1,100.4 324.6,100.5 325.2,100.3 325.7,100.3 326.3,100.2 326.9,100.2 327.4,100.3 328,100.4 328.6,100.5 329.1,100.3 329.7,100.5 330.3,100.4 330.8,100.4 331.4,100.4 332,100.3 332.5,100.2 333.1,99.9 333.6,99.8 334.2,99.5 334.8,99.1 335.3,98.3 335.9,97.1 336.5,95.3 337,92.9 337.6,93 338.2,95.5 338.7,97.3 339.3,98.4 339.9,99.1 340.4,99.5 341,99.8 341.5,100 342.1,100.1 342.7,100.1 343.2,100.2 343.8,100.2 344.4,100.3 344.9,100.4 345.5,100.4 346.1,100.5 346.6,100.4 347.2,100.4 347.8,100.3 348.3,100.2 348.9,100.3 349.4,100.3 350,100.2 350.6,100.3 351.1,100.2 351.7,100.3 352.3,100.1 352.8,99.8 353.4,99.4 354,98.8 354.5,97.9 355.1,96.1 355.7,95.1 356.2,100.2 356.8,110 357.3,116.5 357.9,119.1 358.5,120.3 359,120.8 359.6,121.1 360.2,120.8 360.7,120.3 361.3,119.2 361.9,116.3 362.4,110.1 363,100.3 363.5,95.3 364.1,96.5 364.7,98.2 365.2,99 365.8,99.4 366.4,99.8 366.9,100 367.5,100.1 368.1,100.3 368.6,100.2 369.2,100.5 369.8,100.5 370.3,100.5 370.9,100.6 371.4,100.5 372,100.4 372.6,100.4 373.1,100.3 373.7,100.4 374.3,100.4 374.8,100.3 375.4,100.5 376,100.4 376.5,100.3 377.1,100 377.7,99.8 378.2,99.7 378.8,99.4 379.3,99.1 379.9,98.2 380.5,96.9 381,94.5 381.6,92.7 382.2,94.1 382.7,96.5 383.3,98.1 383.9,99 384.4,99.4 385,99.8 385.6,100.1 386.1,100.1 386.7,100.2 387.2,100.3 387.8,100.4 388.4,100.5 388.9,100.7 389.5,100.6 390.1,100.5 390.6,100.6 391.2,100.3 391.8,100.3 392.3,100.3 392.9,100.4 393.5,100.5 394,100.6 394.6,100.5 395.1,100.4 395.7,100.3 396.3,100.3 396.8,100.3 397.4,100.4 398,100.3 398.5,100.3 399.1,100.2 399.7,99.9 400.2,99.7 400.8,99.6 401.3,99.4 401.9,99.3 402.5,98.9 403,98.6 403.6,98.2 404.2,98.2 404.7,97.7 405.3,97.3 405.9,96.7 406.4,96.4 407,95.9 407.6,95.5 408.1,95.2 408.7,94.8 409.2,94.5 409.8,94.3 410.4,94 410.9,93.9 411.5,93.9 412.1,93.9 412.6,94 413.2,94 413.8,94.1 414.3,94.4 414.9,94.7 415.5,94.7 416,95 416.6,95.3 417.1,95.4 417.7,95.6 418.3,95.7 418.8,95.7 419.4,95.9 420,95.8 420.5,95.8 421.1,96 421.7,96.1 422.2,96.1 422.8,96 423.4,96 423.9,95.9 424.5,96 425,96 425.6,95.9 426.2,95.7 426.7,95.5 427.3,95.3 427.9,95.3 428.4,95.4 429,95.6 429.6,95.7 430.1,95.8 430.7,95.9 431.3,95.7 431.8,95.8 432.4,95.7 432.9,95.7 433.5,95.5 434.1,95.6 434.6,95.8 435.2,95.7 435.8,95.8 436.3,95.8 436.9,95.7 437.5,95.7 438,95.7 438.6,95.7 439.1,95.7 439.7,95.9 440.3,95.7 440.8,95.5 441.4,95.6 442,95.8 442.5,96.1 443.1,95.7 443.7,95.6 444.2,95.6 444.8,95.6 445.4,95.5 445.9,95.5 446.5,95.5 447,95.4 447.6,95.5 448.2,95.5 448.7,95.5 449.3,95.5 449.9,95.6 450.4,95.5 451,95.6 451.6,95.6 452.1,95.7 452.7,95.5 453.3,95.6 453.8,95.6 454.4,95.5 454.9,95.4 455.5,95.3" stroke="#3a64f4" stroke-width="1.1" fill="none" stroke-linejoin="round" />
<polyline points="263.7,85.9 264.3,85.8 264.8,86.1 265.4,86.1 265.9,86.1 266.5,86 267.1,86.1 267.6,85.9 268.2,86 268.8,86.3 269.3,86.1 269.9,86.1 270.5,86 271,85.9 271.6,85.9 272.2,85.9 272.7,85.9 273.3,85.9 273.8,85.9 274.4,86.1 275,86.1 275.5,86.1 276.1,86.1 276.7,86 277.2,86 277.8,86 278.4,86 278.9,86 279.5,86 280.1,86.2 280.6,86 281.2,86 281.7,85.9 282.3,85.9 282.9,85.9 283.4,86 284,86 284.6,86.1 285.1,86.1 285.7,86.1 286.3,86.1 286.8,86.1 287.4,86.1 287.9,86.1 288.5,86.2 289.1,86.3 289.6,86.4 290.2,86.2 290.8,86.3 291.3,86.1 291.9,86 292.5,86.1 293,86 293.6,86 294.2,86 294.7,86 295.3,86 295.8,85.9 296.4,86 297,86 297.5,86 298.1,86 298.7,86.1 299.2,86.2 299.8,86.3 300.4,86.4 300.9,86.4 301.5,86.2 302.1,86.3 302.6,86.2 303.2,86.3 303.7,86.2 304.3,86.3 304.9,86.1 305.4,86.1 306,86.1 306.6,85.9 307.1,85.9 307.7,85.7 308.3,85.4 308.8,85.2 309.4,84.9 310,84.8 310.5,84.6 311.1,84.6 311.6,84.5 312.2,84.3 312.8,84.3 313.3,84.4 313.9,84.5 314.5,84.7 315,85 315.6,85.4 316.2,85.7 316.7,86 317.3,86.5 317.9,86.9 318.4,87.3 319,87.7 319.5,88.2 320.1,88.4 320.7,88.7 321.2,89.1 321.8,89.3 322.4,89.5 322.9,89.6 323.5,89.9 324.1,89.9 324.6,90.1 325.2,90.2 325.7,90.4 326.3,90.6 326.9,90.5 327.4,90.5 328,90.5 328.6,90.6 329.1,90.6 329.7,90.7 330.3,90.7 330.8,90.6 331.4,90.7 332,90.6 332.5,90.5 333.1,90.7 333.6,90.7 334.2,90.6 334.8,90.8 335.3,90.7 335.9,90.5 336.5,90.6 337,90.3 337.6,90.1 338.2,89.7 338.7,89.1 339.3,88.1 339.9,86.3 340.4,83.9 341,82.8 341.5,85.1 342.1,87.2 342.7,88.7 343.2,89.4 343.8,89.9 344.4,90.2 344.9,90.5 345.5,90.6 346.1,90.5 346.6,90.6 347.2,90.7 347.8,90.6 348.3,90.8 348.9,90.8 349.4,90.8 350,90.8 350.6,90.6 351.1,90.5 351.7,90.4 352.3,90.3 352.8,90.1 353.4,89.9 354,89.4 354.5,88.5 355.1,86.8 355.7,85.9 356.2,91.4 356.8,101.5 357.3,108.2 357.9,110.9 358.5,111.8 359,112.4 359.6,112.6 360.2,112.3 360.7,112.2 361.3,111 361.9,108.3 362.4,101.5 363,91.3 363.5,85.8 364.1,86.8 364.7,88.6 365.2,89.3 365.8,89.7 366.4,90.1 366.9,90.4 367.5,90.6 368.1,90.9 368.6,91 369.2,90.7 369.8,90.8 370.3,90.8 370.9,90.8 371.4,90.6 372,90.7 372.6,90.5 373.1,90.5 373.7,90.4 374.3,90.3 374.8,90 375.4,89.6 376,89.2 376.5,88.4 377.1,86.8 377.7,84.3 378.2,82.9 378.8,84.6 379.3,87.1 379.9,88.6 380.5,89.4 381,89.9 381.6,90 382.2,90.1 382.7,90.3 383.3,90.6 383.9,90.6 384.4,90.7 385,90.8 385.6,90.6 386.1,90.7 386.7,90.6 387.2,90.8 387.8,90.9 388.4,90.8 388.9,90.9 389.5,90.7 390.1,90.8 390.6,90.5 391.2,90.4 391.8,90.5 392.3,90.4 392.9,90.4 393.5,90.3 394,90.4 394.6,90.5 395.1,90.3 395.7,90.2 396.3,89.9 396.8,89.6 397.4,89.3 398,89 398.5,88.7 399.1,88.4 399.7,88.1 400.2,87.5 400.8,87.3 401.3,86.9 401.9,86.4 402.5,86.1 403,85.8 403.6,85.5 404.2,85 404.7,84.6 405.3,84.4 405.9,84.3 406.4,84.3 407,84.2 407.6,84.3 408.1,84.6 408.7,84.8 409.2,84.8 409.8,84.9 410.4,85.1 410.9,85.4 411.5,85.6 412.1,85.8 412.6,85.9 413.2,86.2 413.8,86.2 414.3,86.5 414.9,86.6 415.5,86.7 416,86.6 416.6,86.7 417.1,86.6 417.7,86.6 418.3,86.5 418.8,86.6 419.4,86.3 420,86.2 420.5,86.1 421.1,86.2 421.7,86.1 422.2,86.3 422.8,86.2 423.4,86.2 423.9,86.2 424.5,86.2 425,86.3 425.6,86.1 426.2,86.1 426.7,86 427.3,86 427.9,86 428.4,86.1 429,86.3 429.6,86.2 430.1,86.1 430.7,86.1 431.3,86.1 431.8,86.1 432.4,86 432.9,85.7 433.5,86 434.1,86 434.6,85.9 435.2,85.8 435.8,85.8 436.3,85.9 436.9,85.8 437.5,85.8 438,86 438.6,85.9 439.1,86 439.7,86.2 440.3,86.2 440.8,86 441.4,86.1 442,86.1 442.5,86.2 443.1,86.2 443.7,86 444.2,86 444.8,85.9 445.4,85.9 445.9,86 446.5,86.1 447,86.1 447.6,86.2 448.2,85.9 448.7,85.9 449.3,85.8 449.9,85.9 450.4,86 451,86 451.6,85.9 452.1,85.8 452.7,85.7 453.3,86 453.8,86.1 454.4,86 454.9,86.1 455.5,85.9" stroke="#3890f2" stroke-width="1.1" fill="none" stroke-linejoin="round" />
<polyline points="263.7,76 264.3,76.1 264.8,76.2 265.4,76.1 265.9,76 266.5,76 267.1,76.2 267.6,76.4 268.2,76.3 268.8,76.1 269.3,75.9 269.9,75.9 270.5,76 271,75.9 271.6,75.9 272.2,76 272.7,75.8 273.3,75.8 273.8,75.9 274.4,75.9 275,75.9 275.5,76 276.1,76 276.7,76.1 277.2,76.1 277.8,76.1 278.4,76.1 278.9,76.2 279.5,76.1 280.1,76 280.6,75.9 281.2,75.9 281.7,75.9 282.3,76 282.9,76.1 283.4,75.8 284,75.9 284.6,75.7 285.1,75.8 285.7,75.8 286.3,75.9 286.8,76.1 287.4,75.9 287.9,75.8 288.5,76.1 289.1,75.9 289.6,76.1 290.2,76.1 290.8,76 291.3,75.8 291.9,75.7 292.5,75.9 293,76 293.6,75.9 294.2,75.9 294.7,76.1 295.3,76 295.8,75.9 296.4,75.9 297,76 297.5,76 298.1,75.9 298.7,76.2 299.2,76.1 299.8,76.2 300.4,76.2 300.9,76.2 301.5,76 302.1,76 302.6,76.1 303.2,76 303.7,76.2 304.3,76.1 304.9,76 305.4,76.3 306,76.2 306.6,76.3 307.1,76.1 307.7,76.3 308.3,76.1 308.8,76 309.4,76 310,75.7 310.5,75.7 311.1,75.7 311.6,75.5 312.2,75.2 312.8,75 313.3,74.8 313.9,74.6 314.5,74.4 315,74.2 315.6,74 316.2,74 316.7,74 317.3,73.9 317.9,74.2 318.4,74.3 319,74.5 319.5,74.6 320.1,74.8 320.7,75.2 321.2,75.5 321.8,76 322.4,76.6 322.9,77.1 323.5,77.5 324.1,77.6 324.6,78 325.2,78.3 325.7,78.7 326.3,78.9 326.9,79.1 327.4,79.2 328,79.4 328.6,79.7 329.1,79.7 329.7,79.6 330.3,79.8 330.8,79.6 331.4,79.7 332,79.9 332.5,79.9 333.1,79.8 333.6,79.7 334.2,79.7 334.8,79.8 335.3,79.8 335.9,79.9 336.5,80 337,79.8 337.6,79.7 338.2,79.6 338.7,79.6 339.3,79.5 339.9,79.6 340.4,79.6 341,79.1 341.5,78.9 342.1,78.5 342.7,78.1 343.2,76.9 343.8,75.1 344.4,73.1 344.9,73.5 345.5,75.6 346.1,77.2 346.6,78.2 347.2,78.6 347.8,79.1 348.3,79.3 348.9,79.4 349.4,79.4 350,79.4 350.6,79.5 351.1,79.3 351.7,79.6 352.3,79.3 352.8,79.1 353.4,78.7 354,78.2 354.5,77.2 355.1,75.6 355.7,74.8 356.2,80.7 356.8,91.2 357.3,98.2 357.9,101.1 358.5,102.1 359,102.5 359.6,102.8 360.2,102.4 360.7,102 361.3,101.1 361.9,98.2 362.4,91.3 363,80.6 363.5,74.8 364.1,75.5 364.7,77.4 365.2,78.3 365.8,78.7 366.4,78.9 366.9,79.2 367.5,79.4 368.1,79.5 368.6,79.5 369.2,79.5 369.8,79.7 370.3,79.7 370.9,79.4 371.4,79.1 372,78.7 372.6,78.1 373.1,76.9 373.7,75.1 374.3,73.2 374.8,73.7 375.4,75.9 376,77.5 376.5,78.4 377.1,79 377.7,79.2 378.2,79.4 378.8,79.3 379.3,79.5 379.9,79.4 380.5,79.6 381,79.7 381.6,79.9 382.2,79.9 382.7,79.6 383.3,79.7 383.9,79.6 384.4,79.6 385,79.5 385.6,79.5 386.1,79.6 386.7,79.7 387.2,79.6 387.8,79.7 388.4,79.8 388.9,79.8 389.5,79.6 390.1,79.5 390.6,79.1 391.2,79 391.8,79 392.3,78.9 392.9,78.6 393.5,78.5 394,78.2 394.6,77.9 395.1,77.4 395.7,77.1 396.3,76.7 396.8,76.5 397.4,75.8 398,75.5 398.5,75.1 399.1,75 399.7,74.6 400.2,74.3 400.8,74.2 401.3,74.1 401.9,74.1 402.5,74 403,74 403.6,74 404.2,74 404.7,74.3 405.3,74.6 405.9,74.8 406.4,74.9 407,75.1 407.6,75.6 408.1,75.7 408.7,75.8 409.2,75.9 409.8,76 410.4,76 410.9,76.2 411.5,76.4 412.1,76.4 412.6,76.3 413.2,76.4 413.8,76.3 414.3,76.4 414.9,76.3 415.5,76.4 416,76.2 416.6,76.2 417.1,76.4 417.7,76.3 418.3,76.2 418.8,76.4 419.4,76.1 420,76.1 420.5,76.1 421.1,76.1 421.7,76.2 422.2,76.1 422.8,76.2 423.4,76.1 423.9,76 424.5,76.1 425,76.1 425.6,75.9 426.2,76 426.7,75.9 427.3,75.9 427.9,76.1 428.4,76.1 429,76.1 429.6,76 430.1,76.1 430.7,76.1 431.3,76.2 431.8,76.1 432.4,76 432.9,76 433.5,76 434.1,76 434.6,76 435.2,76 435.8,76 436.3,76 436.9,75.9 437.5,76 438,75.9 438.6,76 439.1,76.2 439.7,76.3 440.3,76.2 440.8,76 441.4,76 442,76 442.5,76.2 443.1,76 443.7,76.1 444.2,75.9 444.8,75.8 445.4,75.8 445.9,75.9 446.5,76 447,76 447.6,76.1 448.2,76.1 448.7,76.3 449.3,76.2 449.9,75.9 450.4,76 451,76.1 451.6,76.1 452.1,76.1 452.7,76 453.3,76 453.8,75.8 454.4,75.9 454.9,75.9 455.5,75.8" stroke="#32aaec" stroke-width="1.1" fill="none" stroke-linejoin="round" />
<polyline points="263.7,67.7 264.3,67.8 264.8,67.8 265.4,67.6 265.9,67.6 266.5,67.7 267.1,67.7 267.6,67.7 268.2,67.7 268.8,67.9 269.3,67.8 269.9,67.8 270.5,67.9 271,67.7 271.6,67.7 272.2,67.7 272.7,67.8 273.3,67.7 273.8,67.5 274.4,67.5 275,67.5 275.5,67.5 276.1,67.5 276.7,67.4 277.2,67.4 277.8,67.5 278.4,67.5 278.9,67.2 279.5,67.4 280.1,67.5 280.6,67.5 281.2,67.4 281.7,67.8 282.3,67.7 282.9,67.4 283.4,67.5 284,67.6 284.6,67.6 285.1,67.4 285.7,67.6 286.3,67.6 286.8,67.7 287.4,67.6 287.9,67.5 288.5,67.6 289.1,67.5 289.6,67.5 290.2,67.4 290.8,67.7 291.3,67.7 291.9,67.7 292.5,67.5 293,67.6 293.6,67.7 294.2,67.8 294.7,67.8 295.3,67.6 295.8,67.5 296.4,67.6 297,67.7 297.5,67.9 298.1,67.9 298.7,67.7 299.2,67.7 299.8,67.7 300.4,67.5 300.9,67.5 301.5,67.6 302.1,67.6 302.6,67.6 303.2,67.6 303.7,67.7 304.3,67.7 304.9,67.8 305.4,67.8 306,67.9 306.6,68 307.1,67.9 307.7,67.9 308.3,67.9 308.8,67.9 309.4,67.9 310,67.8 310.5,68 311.1,68 311.6,67.9 312.2,67.9 312.8,67.9 313.3,68 313.9,67.8 314.5,67.8 315,67.8 315.6,67.5 316.2,67.4 316.7,67.3 317.3,67.2 317.9,67.1 318.4,66.9 319,66.8 319.5,66.6 320.1,66.5 320.7,66.5 321.2,66.5 321.8,66.5 322.4,66.7 322.9,66.8 323.5,67.1 324.1,67.3 324.6,67.4 325.2,67.8 325.7,68.1 326.3,68.4 326.9,68.6 327.4,69 328,69.5 328.6,69.8 329.1,70 329.7,70.1 330.3,70.4 330.8,70.6 331.4,70.6 332,70.7 332.5,70.9 333.1,71.1 333.6,71.1 334.2,71.1 334.8,71 335.3,71.1 335.9,71.2 336.5,71.2 337,71.4 337.6,71.4 338.2,71.5 338.7,71.4 339.3,71.4 339.9,71.3 340.4,71.4 341,71.4 341.5,71.3 342.1,71.4 342.7,71.2 343.2,71.1 343.8,70.8 344.4,70.8 344.9,70.5 345.5,69.9 346.1,69 346.6,67.2 347.2,65.2 347.8,64.9 348.3,66.9 348.9,68.6 349.4,69.7 350,69.9 350.6,70.3 351.1,70.5 351.7,70.5 352.3,70.8 352.8,70.6 353.4,70.2 354,69.7 354.5,68.9 355.1,67.2 355.7,66.3 356.2,72.5 356.8,83.6 357.3,91.1 357.9,93.9 358.5,95 359,95.3 359.6,95.6 360.2,95.3 360.7,94.9 361.3,93.8 361.9,90.6 362.4,83.6 363,72.5 363.5,66.6 364.1,67.3 364.7,68.9 365.2,70 365.8,70.3 366.4,70.6 366.9,70.8 367.5,70.7 368.1,70.6 368.6,70.4 369.2,69.8 369.8,69.4 370.3,68.1 370.9,66.1 371.4,64.5 372,65.4 372.6,67.5 373.1,69 373.7,69.8 374.3,70.4 374.8,70.7 375.4,70.8 376,70.9 376.5,71.1 377.1,71.3 377.7,71.3 378.2,71.1 378.8,71.4 379.3,71.3 379.9,71.4 380.5,71.4 381,71.4 381.6,71.3 382.2,71.4 382.7,71.3 383.3,71.2 383.9,71.3 384.4,71.1 385,70.9 385.6,71 386.1,70.9 386.7,70.7 387.2,70.7 387.8,70.6 388.4,70.5 388.9,70.3 389.5,70 390.1,69.9 390.6,69.7 391.2,69.4 391.8,69.1 392.3,68.8 392.9,68.4 393.5,68 394,67.9 394.6,67.6 395.1,67.2 395.7,66.9 396.3,66.7 396.8,66.6 397.4,66.6 398,66.5 398.5,66.5 399.1,66.7 399.7,66.7 400.2,66.7 400.8,66.8 401.3,66.7 401.9,66.9 402.5,67.3 403,67.5 403.6,67.5 404.2,67.6 404.7,67.8 405.3,67.8 405.9,67.9 406.4,67.9 407,68 407.6,68.1 408.1,68.1 408.7,68.2 409.2,67.8 409.8,67.9 410.4,67.8 410.9,67.8 411.5,67.8 412.1,67.9 412.6,67.7 413.2,67.7 413.8,67.6 414.3,67.6 414.9,67.6 415.5,67.6 416,67.6 416.6,67.7 417.1,67.4 417.7,67.5 418.3,67.7 418.8,67.7 419.4,67.6 420,67.4 420.5,67.6 421.1,67.5 421.7,67.6 422.2,67.7 422.8,67.7 423.4,67.7 423.9,67.7 424.5,67.8 425,67.7 425.6,67.8 426.2,67.6 426.7,67.7 427.3,67.6 427.9,67.6 428.4,67.7 429,67.8 429.6,67.9 430.1,67.9 430.7,67.8 431.3,67.7 431.8,67.5 432.4,67.4 432.9,67.6 433.5,67.8 434.1,67.7 434.6,67.7 435.2,67.7 435.8,67.7 436.3,67.6 436.9,67.8 437.5,67.5 438,67.5 438.6,67.5 439.1,67.5 439.7,67.7 440.3,67.7 440.8,67.6 441.4,67.8 442,67.8 442.5,67.7 443.1,67.8 443.7,67.6 444.2,67.7 444.8,67.8 445.4,67.8 445.9,67.6 446.5,67.6 447,67.5 447.6,67.4 448.2,67.5 448.7,67.5 449.3,67.5 449.9,67.6 450.4,67.7 451,67.7 451.6,67.7 452.1,67.8 452.7,67.9 453.3,67.7 453.8,68 454.4,67.8 454.9,67.7 455.5,67.7" stroke="#2cbcd8" stroke-width="1.1" fill="none" stroke-linejoin="round" />
<polyline points="263.7,57.6 264.3,57.7 264.8,57.6 265.4,57.6 265.9,57.3 266.5,57.4 267.1,57.4 267.6,57.4 268.2,57.5 268.8,57.4 269.3,57.5 269.9,57.7 270.5,57.8 271,57.9 271.6,57.9 272.2,57.7 272.7,57.6 273.3,57.6 273.8,57.7 274.4,57.8 275,57.7 275.5,57.5 276.1,57.7 276.7,57.8 277.2,57.9 277.8,57.8 278.4,57.6 278.9,57.5 279.5,57.5 280.1,57.6 280.6,57.8 281.2,57.8 281.7,57.6 282.3,57.7 282.9,57.4 283.4,57.5 284,57.7 284.6,57.6 285.1,57.6 285.7,57.5 286.3,57.4 286.8,57.3 287.4,57.4 287.9,57.5 288.5,57.4 289.1,57.5 289.6,57.4 290.2,57.3 290.8,57.4 291.3,57.4 291.9,57.3 292.5,57.4 293,57.5 293.6,57.5 294.2,57.4 294.7,57.6 295.3,57.4 295.8,57.5 296.4,57.6 297,57.5 297.5,57.5 298.1,57.5 298.7,57.6 299.2,57.5 299.8,57.5 300.4,57.5 300.9,57.6 301.5,57.6 302.1,57.6 302.6,57.8 303.2,57.6 303.7,57.5 304.3,57.6 304.9,57.6 305.4,57.7 306,57.8 306.6,57.6 307.1,57.7 307.7,57.6 308.3,57.7 308.8,57.8 309.4,57.7 310,57.8 310.5,57.6 311.1,57.9 311.6,57.8 312.2,57.8 312.8,57.8 313.3,58 313.9,57.9 314.5,57.7 315,57.7 315.6,57.8 316.2,57.8 316.7,57.8 317.3,57.6 317.9,57.6 318.4,57.6 319,57.5 319.5,57.2 320.1,57.3 320.7,57.3 321.2,57.1 321.8,56.9 322.4,56.5 322.9,56.2 323.5,56.2 324.1,56.1 324.6,56 325.2,56 325.7,56.2 326.3,56.2 326.9,56.4 327.4,56.5 328,56.6 328.6,56.7 329.1,56.8 329.7,57.2 330.3,57.5 330.8,57.8 331.4,58.2 332,58.7 332.5,58.9 333.1,59.3 333.6,59.5 334.2,59.6 334.8,59.7 335.3,59.7 335.9,60 336.5,60 337,60.2 337.6,60.1 338.2,60.2 338.7,60.2 339.3,60.2 339.9,60.3 340.4,60.3 341,60.3 341.5,60.4 342.1,60.4 342.7,60.5 343.2,60.4 343.8,60.2 344.4,60 344.9,59.9 345.5,59.9 346.1,59.8 346.6,59.6 347.2,59.5 347.8,59.2 348.3,58.6 348.9,57.3 349.4,55.5 350,54.3 350.6,55.2 351.1,57 351.7,58.4 352.3,58.9 352.8,59 353.4,59 354,58.5 354.5,57.6 355.1,55.9 355.7,55.5 356.2,62 356.8,73.4 357.3,81.2 357.9,84.1 358.5,85.1 359,85.6 359.6,85.7 360.2,85.4 360.7,84.9 361.3,84 361.9,80.9 362.4,73.3 363,61.8 363.5,55.2 364.1,56 364.7,57.5 365.2,58.4 365.8,58.8 366.4,58.9 366.9,58.7 367.5,58.5 368.1,57.1 368.6,55.4 369.2,54.4 369.8,56.1 370.3,57.8 370.9,58.6 371.4,59.4 372,59.7 372.6,59.9 373.1,60 373.7,60.1 374.3,60.3 374.8,60.5 375.4,60.4 376,60.2 376.5,60.3 377.1,60.2 377.7,60.3 378.2,60.3 378.8,60.2 379.3,60.1 379.9,60.2 380.5,60.1 381,60 381.6,59.9 382.2,59.7 382.7,59.8 383.3,59.7 383.9,59.8 384.4,59.4 385,59.4 385.6,59.3 386.1,58.9 386.7,58.7 387.2,58.3 387.8,58.1 388.4,57.8 388.9,57.6 389.5,57.4 390.1,57.1 390.6,56.8 391.2,56.5 391.8,56.3 392.3,56.3 392.9,56.2 393.5,56.1 394,56 394.6,55.9 395.1,56 395.7,56 396.3,56.2 396.8,56.5 397.4,56.5 398,56.5 398.5,56.7 399.1,57.1 399.7,57.2 400.2,57.4 400.8,57.5 401.3,57.5 401.9,57.5 402.5,57.8 403,57.8 403.6,57.8 404.2,57.8 404.7,57.7 405.3,57.7 405.9,57.7 406.4,57.6 407,57.6 407.6,57.6 408.1,57.7 408.7,57.7 409.2,57.6 409.8,57.7 410.4,57.7 410.9,57.6 411.5,57.7 412.1,57.7 412.6,57.7 413.2,57.7 413.8,57.5 414.3,57.4 414.9,57.5 415.5,57.7 416,57.8 416.6,57.6 417.1,57.6 417.7,57.6 418.3,57.7 418.8,57.6 419.4,57.7 420,57.8 420.5,57.6 421.1,57.6 421.7,57.6 422.2,57.6 422.8,57.6 423.4,57.7 423.9,57.7 424.5,57.7 425,57.5 425.6,57.4 426.2,57.5 426.7,57.6 427.3,57.6 427.9,57.5 428.4,57.5 429,57.6 429.6,57.7 430.1,57.7 430.7,57.6 431.3,57.6 431.8,57.7 432.4,57.6 432.9,57.5 433.5,57.5 434.1,57.6 434.6,57.5 435.2,57.5 435.8,57.6 436.3,57.6 436.9,57.6 437.5,57.7 438,57.8 438.6,57.8 439.1,57.8 439.7,57.7 440.3,57.7 440.8,57.6 441.4,57.7 442,57.7 442.5,57.6 443.1,57.9 443.7,57.6 444.2,57.5 444.8,57.5 445.4,57.7 445.9,57.5 446.5,57.6 447,57.6 447.6,57.5 448.2,57.7 448.7,57.6 449.3,57.6 449.9,57.6 450.4,57.7 451,57.7 451.6,57.6 452.1,57.5 452.7,57.7 453.3,57.7 453.8,57.7 454.4,57.7 454.9,57.7 455.5,57.8" stroke="#2cc4bc" stroke-width="1.1" fill="none" stroke-linejoin="round" />
<polyline points="263.7,47.7 264.3,47.6 264.8,47.6 265.4,47.6 265.9,47.5 266.5,47.5 267.1,47.5 267.6,47.5 268.2,47.5 268.8,47.6 269.3,47.8 269.9,47.7 270.5,47.7 271,47.6 271.6,47.5 272.2,47.5 272.7,47.4 273.3,47.5 273.8,47.5 274.4,47.5 275,47.5 275.5,47.6 276.1,47.8 276.7,47.7 277.2,47.7 277.8,47.5 278.4,47.8 278.9,47.6 279.5,47.6 280.1,47.6 280.6,47.5 281.2,47.6 281.7,47.4 282.3,47.5 282.9,47.5 283.4,47.5 284,47.6 284.6,47.6 285.1,47.7 285.7,47.5 286.3,47.5 286.8,47.5 287.4,47.6 287.9,47.6 288.5,47.6 289.1,47.6 289.6,47.5 290.2,47.5 290.8,47.5 291.3,47.4 291.9,47.5 292.5,47.5 293,47.7 293.6,47.6 294.2,47.7 294.7,47.6 295.3,47.8 295.8,47.9 296.4,47.7 297,47.7 297.5,47.9 298.1,47.7 298.7,47.9 299.2,47.9 299.8,47.8 300.4,47.8 300.9,47.8 301.5,47.9 302.1,47.7 302.6,47.6 303.2,47.6 303.7,47.5 304.3,47.6 304.9,47.6 305.4,47.6 306,47.8 306.6,47.7 307.1,47.7 307.7,47.7 308.3,47.7 308.8,47.7 309.4,47.7 310,47.8 310.5,47.8 311.1,47.8 311.6,47.6 312.2,47.7 312.8,47.7 313.3,47.6 313.9,47.8 314.5,47.6 315,47.7 315.6,47.7 316.2,47.6 316.7,47.6 317.3,47.7 317.9,47.8 318.4,47.8 319,47.9 319.5,47.7 320.1,47.6 320.7,47.4 321.2,47.4 321.8,47.2 322.4,47.2 322.9,47.2 323.5,47.1 324.1,47 324.6,46.9 325.2,46.8 325.7,46.8 326.3,46.7 326.9,46.6 327.4,46.5 328,46.5 328.6,46.4 329.1,46.6 329.7,46.9 330.3,46.8 330.8,46.9 331.4,47.1 332,47.3 332.5,47.6 333.1,47.9 333.6,48.2 334.2,48.5 334.8,48.6 335.3,48.6 335.9,48.8 336.5,48.7 337,48.8 337.6,49.1 338.2,49.1 338.7,49.3 339.3,49.3 339.9,49.2 340.4,49.1 341,49.2 341.5,49.4 342.1,49.2 342.7,49.3 343.2,49.3 343.8,49.1 344.4,49.4 344.9,49.4 345.5,49.2 346.1,49 346.6,48.8 347.2,48.9 347.8,48.8 348.3,48.6 348.9,48.2 349.4,47.5 350,46.4 350.6,44.7 351.1,43.1 351.7,44 352.3,45.6 352.8,46.8 353.4,47.2 354,46.9 354.5,46.3 355.1,44.6 355.7,44 356.2,51 356.8,63.1 357.3,70.6 357.9,74 358.5,74.9 359,75.4 359.6,75.8 360.2,75.4 360.7,75 361.3,74 361.9,70.8 362.4,63.1 363,51.1 363.5,44.3 364.1,44.8 364.7,46.4 365.2,47 365.8,46.8 366.4,46.5 366.9,45.2 367.5,43.6 368.1,43.5 368.6,45.1 369.2,46.8 369.8,47.9 370.3,48.5 370.9,48.9 371.4,49 372,49.1 372.6,49.1 373.1,49.2 373.7,49.2 374.3,49.2 374.8,49.3 375.4,49.3 376,49.4 376.5,49.5 377.1,49.3 377.7,49.2 378.2,49.3 378.8,49.3 379.3,49.3 379.9,49.3 380.5,49.2 381,49.2 381.6,49 382.2,48.9 382.7,49 383.3,48.8 383.9,48.8 384.4,48.7 385,48.3 385.6,48 386.1,47.9 386.7,47.7 387.2,47.6 387.8,47.5 388.4,47.2 388.9,46.8 389.5,46.8 390.1,46.6 390.6,46.6 391.2,46.5 391.8,46.5 392.3,46.5 392.9,46.6 393.5,46.6 394,46.7 394.6,46.9 395.1,47.2 395.7,47.3 396.3,47.4 396.8,47.4 397.4,47.4 398,47.5 398.5,47.5 399.1,47.7 399.7,47.5 400.2,47.5 400.8,47.6 401.3,47.6 401.9,47.7 402.5,47.7 403,47.7 403.6,47.7 404.2,47.8 404.7,47.8 405.3,47.8 405.9,47.7 406.4,47.7 407,47.6 407.6,47.6 408.1,47.6 408.7,47.6 409.2,47.6 409.8,47.5 410.4,47.6 410.9,47.6 411.5,47.7 412.1,47.9 412.6,47.7 413.2,47.7 413.8,47.8 414.3,47.8 414.9,47.8 415.5,47.7 416,47.8 416.6,47.7 417.1,47.8 417.7,47.7 418.3,47.4 418.8,47.4 419.4,47.5 420,47.4 420.5,47.6 421.1,47.7 421.7,47.6 422.2,47.5 422.8,47.5 423.4,47.5 423.9,47.5 424.5,47.5 425,47.7 425.6,47.7 426.2,47.6 426.7,47.6 427.3,47.6 427.9,47.6 428.4,47.4 429,47.3 429.6,47.5 430.1,47.3 430.7,47.3 431.3,47.2 431.8,47.3 432.4,47.5 432.9,47.5 433.5,47.6 434.1,47.6 434.6,47.6 435.2,47.7 435.8,47.8 436.3,47.7 436.9,47.7 437.5,47.8 438,47.8 438.6,47.7 439.1,47.9 439.7,47.8 440.3,47.7 440.8,47.7 441.4,47.6 442,47.7 442.5,47.5 443.1,47.5 443.7,47.5 444.2,47.5 444.8,47.5 445.4,47.7 445.9,47.6 446.5,47.5 447,47.5 447.6,47.6 448.2,47.7 448.7,47.8 449.3,47.9 449.9,47.9 450.4,47.7 451,47.7 451.6,47.8 452.1,47.8 452.7,47.7 453.3,47.7 453.8,47.5 454.4,47.6 454.9,47.7 455.5,47.5" stroke="#2cc490" stroke-width="1.1" fill="none" stroke-linejoin="round" />
<polyline points="263.7,37.2 264.3,37.2 264.8,37.3 265.4,37.2 265.9,37.1 266.5,37.2 267.1,37.2 267.6,37.3 268.2,37.2 268.8,37.2 269.3,37.2 269.9,37.1 270.5,37.1 271,37.2 271.6,37.2 272.2,37.4 272.7,37.4 273.3,37.2 273.8,37.3 274.4,37.2 275,37.2 275.5,37.1 276.1,37.1 276.7,37.1 277.2,37.2 277.8,37.1 278.4,37.2 278.9,37.2 279.5,37.1 280.1,37.2 280.6,37.2 281.2,37.4 281.7,37.4 282.3,37.3 282.9,37.4 283.4,37.3 284,37.5 284.6,37.3 285.1,37.2 285.7,37 286.3,37 286.8,37.1 287.4,37.2 287.9,37.1 288.5,37.1 289.1,37 289.6,37.2 290.2,37.3 290.8,37.4 291.3,37.5 291.9,37.4 292.5,37.2 293,37 293.6,36.9 294.2,37 294.7,37.1 295.3,37.1 295.8,36.9 296.4,37.1 297,37.3 297.5,37.1 298.1,37.3 298.7,37 299.2,37.1 299.8,36.9 300.4,36.9 300.9,37.1 301.5,37.1 302.1,37.3 302.6,37.2 303.2,37.3 303.7,37.4 304.3,37.3 304.9,37.3 305.4,37.3 306,37.3 306.6,37.3 307.1,37.2 307.7,37.1 308.3,37 308.8,37 309.4,37.2 310,37.1 310.5,37.1 311.1,36.8 311.6,37 312.2,37.1 312.8,37.2 313.3,37.3 313.9,37.3 314.5,37.5 315,37.6 315.6,37.6 316.2,37.6 316.7,37.5 317.3,37.3 317.9,37.4 318.4,37.4 319,37.5 319.5,37.3 320.1,37.3 320.7,37.2 321.2,37.3 321.8,37.3 322.4,37.2 322.9,37.1 323.5,37 324.1,36.8 324.6,36.7 325.2,36.6 325.7,36.5 326.3,36.5 326.9,36.3 327.4,36.2 328,36 328.6,35.8 329.1,35.9 329.7,36.1 330.3,36.3 330.8,36.4 331.4,36.3 332,36.4 332.5,36.5 333.1,36.7 333.6,36.9 334.2,37.1 334.8,37.3 335.3,37.6 335.9,37.9 336.5,37.9 337,38.2 337.6,38.2 338.2,38.2 338.7,38.3 339.3,38.5 339.9,38.6 340.4,38.7 341,38.8 341.5,38.9 342.1,38.9 342.7,39 343.2,38.8 343.8,38.9 344.4,38.7 344.9,38.6 345.5,38.7 346.1,38.7 346.6,38.8 347.2,38.7 347.8,38.7 348.3,38.7 348.9,38.5 349.4,38.2 350,37.8 350.6,37.2 351.1,36.3 351.7,34.7 352.3,32.8 352.8,32.6 353.4,34.3 354,35.2 354.5,34.9 355.1,33.9 355.7,33.7 356.2,41.1 356.8,53.7 357.3,61.6 357.9,65 358.5,65.9 359,66.3 359.6,66.6 360.2,66.2 360.7,65.9 361.3,64.7 361.9,61.3 362.4,53.1 363,40.9 363.5,33.5 364.1,33.9 364.7,34.9 365.2,34.9 365.8,34 366.4,32.4 366.9,33 367.5,34.9 368.1,36.7 368.6,37.6 369.2,38.1 369.8,38.3 370.3,38.4 370.9,38.5 371.4,38.7 372,38.6 372.6,38.7 373.1,38.7 373.7,38.8 374.3,38.7 374.8,38.8 375.4,39 376,38.8 376.5,38.8 377.1,38.9 377.7,38.7 378.2,38.8 378.8,38.7 379.3,38.7 379.9,38.5 380.5,38.4 381,38.4 381.6,38.2 382.2,38.1 382.7,37.9 383.3,37.9 383.9,37.6 384.4,37.5 385,37.1 385.6,36.9 386.1,36.8 386.7,36.6 387.2,36.4 387.8,36.4 388.4,36.4 388.9,36.3 389.5,36.3 390.1,36.3 390.6,36.2 391.2,36.1 391.8,36.3 392.3,36.5 392.9,36.5 393.5,36.6 394,36.6 394.6,36.8 395.1,36.9 395.7,37 396.3,37.1 396.8,37.2 397.4,37.1 398,37.2 398.5,37.2 399.1,37.4 399.7,37.2 400.2,37.2 400.8,37.2 401.3,37.3 401.9,37.4 402.5,37.3 403,37.3 403.6,37.3 404.2,37.1 404.7,37.3 405.3,37.1 405.9,37.1 406.4,37.1 407,37.2 407.6,37.2 408.1,37.2 408.7,37.2 409.2,37.3 409.8,37.2 410.4,37.4 410.9,37.3 411.5,37.2 412.1,37.1 412.6,37.2 413.2,37.3 413.8,37.4 414.3,37.4 414.9,37.3 415.5,37.3 416,37.1 416.6,37.1 417.1,37.2 417.7,37.2 418.3,37.3 418.8,37.2 419.4,37.2 420,37.1 420.5,37.3 421.1,37.3 421.7,37.1 422.2,37.1 422.8,37.3 423.4,37.3 423.9,37.3 424.5,37.2 425,37.1 425.6,37.1 426.2,37.1 426.7,37.2 427.3,37.4 427.9,37.5 428.4,37.3 429,37.3 429.6,37.2 430.1,37.2 430.7,37.2 431.3,37.1 431.8,37.1 432.4,37.2 432.9,37.4 433.5,37.4 434.1,37.2 434.6,37.1 435.2,37.2 435.8,37.2 436.3,37.2 436.9,37.1 437.5,37.4 438,37.1 438.6,37 439.1,37.2 439.7,37.2 440.3,37.2 440.8,37.1 441.4,37.2 442,37.1 442.5,37.1 443.1,37.3 443.7,37.3 444.2,37.2 444.8,37.1 445.4,37.2 445.9,37.3 446.5,37.3 447,37.2 447.6,37.1 448.2,37.3 448.7,37 449.3,37 449.9,37.1 450.4,37.1 451,37.1 451.6,37.3 452.1,37.4 452.7,37.2 453.3,37.3 453.8,37.2 454.4,37.2 454.9,37.3 455.5,37.4" stroke="#30c470" stroke-width="1.1" fill="none" stroke-linejoin="round" />
<polyline points="263.7,27.3 264.3,27.3 264.8,27.2 265.4,27.2 265.9,27.4 266.5,27.3 267.1,27.4 267.6,27.4 268.2,27.3 268.8,27.4 269.3,27.5 269.9,27.5 270.5,27.3 271,27.4 271.6,27.4 272.2,27.5 272.7,27.5 273.3,27.5 273.8,27.3 274.4,27.4 275,27.3 275.5,27.3 276.1,27.5 276.7,27.5 277.2,27.4 277.8,27.5 278.4,27.6 278.9,27.4 279.5,27.6 280.1,27.4 280.6,27.5 281.2,27.5 281.7,27.4 282.3,27.3 282.9,27.5 283.4,27.5 284,27.4 284.6,27.3 285.1,27.3 285.7,27.3 286.3,27.3 286.8,27.3 287.4,27.2 287.9,27.1 288.5,27.2 289.1,27.4 289.6,27.2 290.2,27.2 290.8,27.3 291.3,27.4 291.9,27.4 292.5,27.3 293,27.5 293.6,27.5 294.2,27.4 294.7,27.3 295.3,27.3 295.8,27.3 296.4,27.2 297,27.3 297.5,27.3 298.1,27.3 298.7,27.5 299.2,27.5 299.8,27.4 300.4,27.3 300.9,27.4 301.5,27.4 302.1,27.3 302.6,27.4 303.2,27.3 303.7,27.3 304.3,27.4 304.9,27.3 305.4,27.2 306,27.2 306.6,27.3 307.1,27.2 307.7,27.4 308.3,27.4 308.8,27.3 309.4,27.2 310,27.3 310.5,27.4 311.1,27.4 311.6,27.4 312.2,27.5 312.8,27.5 313.3,27.2 313.9,27.4 314.5,27.4 315,27.3 315.6,27.6 316.2,27.4 316.7,27.3 317.3,27.3 317.9,27.5 318.4,27.3 319,27.3 319.5,27.3 320.1,27.5 320.7,27.3 321.2,27.5 321.8,27.4 322.4,27.3 322.9,27.1 323.5,27.1 324.1,27.2 324.6,27.2 325.2,27 325.7,27.2 326.3,27.2 326.9,27 327.4,26.8 328,26.7 328.6,26.6 329.1,26.6 329.7,26.4 330.3,26.4 330.8,26.5 331.4,26.3 332,26.4 332.5,26.5 333.1,26.5 333.6,26.4 334.2,26.6 334.8,26.6 335.3,26.7 335.9,26.9 336.5,27 337,26.9 337.6,27.1 338.2,27.3 338.7,27.2 339.3,27.5 339.9,27.7 340.4,27.8 341,27.8 341.5,27.7 342.1,28 342.7,28.2 343.2,28.3 343.8,28.3 344.4,28.3 344.9,28.2 345.5,28 346.1,28 346.6,28 347.2,28 347.8,28.1 348.3,28 348.9,27.9 349.4,28 350,27.9 350.6,27.6 351.1,27.1 351.7,26.3 352.3,25.2 352.8,23.3 353.4,21.3 354,21.4 354.5,22.3 355.1,22 355.7,22.4 356.2,30.4 356.8,43 357.3,51.4 357.9,54.9 358.5,56.2 359,56.7 359.6,57.2 360.2,56.8 360.7,56.3 361.3,55.1 361.9,51.9 362.4,43.5 363,30.4 363.5,22.2 364.1,22 364.7,22.1 365.2,21.5 365.8,21.6 366.4,23.3 366.9,25.1 367.5,26.2 368.1,27 368.6,27.5 369.2,27.8 369.8,27.7 370.3,27.7 370.9,27.7 371.4,27.8 372,27.9 372.6,28 373.1,28.1 373.7,28.1 374.3,28.3 374.8,28.2 375.4,28.1 376,27.8 376.5,27.9 377.1,27.9 377.7,27.9 378.2,28 378.8,27.8 379.3,27.8 379.9,27.7 380.5,27.4 381,27.2 381.6,27.2 382.2,27 382.7,26.9 383.3,26.7 383.9,26.6 384.4,26.6 385,26.5 385.6,26.5 386.1,26.4 386.7,26.3 387.2,26.2 387.8,26.4 388.4,26.4 388.9,26.6 389.5,26.5 390.1,26.5 390.6,26.7 391.2,26.7 391.8,26.8 392.3,26.9 392.9,27 393.5,27.3 394,27 394.6,27.2 395.1,27.2 395.7,27.4 396.3,27.4 396.8,27.2 397.4,27.5 398,27.3 398.5,27.4 399.1,27.5 399.7,27.5 400.2,27.5 400.8,27.3 401.3,27.4 401.9,27.4 402.5,27.3 403,27.3 403.6,27.4 404.2,27.3 404.7,27.4 405.3,27.3 405.9,27.3 406.4,27.3 407,27.3 407.6,27.3 408.1,27.3 408.7,27.4 409.2,27.3 409.8,27.4 410.4,27.4 410.9,27.2 411.5,27.2 412.1,27.4 412.6,27.4 413.2,27.3 413.8,27.5 414.3,27.6 414.9,27.5 415.5,27.5 416,27.5 416.6,27.2 417.1,27.3 417.7,27.2 418.3,27.2 418.8,27.5 419.4,27.3 420,27.4 420.5,27.4 421.1,27.3 421.7,27.4 422.2,27.4 422.8,27.4 423.4,27.3 423.9,27.4 424.5,27.5 425,27.5 425.6,27.6 426.2,27.6 426.7,27.6 427.3,27.7 427.9,27.4 428.4,27.6 429,27.4 429.6,27.4 430.1,27.5 430.7,27.5 431.3,27.3 431.8,27.5 432.4,27.4 432.9,27.3 433.5,27.4 434.1,27.5 434.6,27.4 435.2,27.2 435.8,27.3 436.3,27.3 436.9,27.2 437.5,27.3 438,27.4 438.6,27.6 439.1,27.4 439.7,27.6 440.3,27.4 440.8,27.3 441.4,27.3 442,27.4 442.5,27.4 443.1,27.4 443.7,27.4 444.2,27.4 444.8,27.3 445.4,27.3 445.9,27.4 446.5,27.3 447,27.3 447.6,27.4 448.2,27.3 448.7,27.4 449.3,27.2 449.9,27.4 450.4,27.3 451,27.4 451.6,27.4 452.1,27.2 452.7,27.4 453.3,27.3 453.8,27.3 454.4,27.3 454.9,27.4 455.5,27.5" stroke="#30c038" stroke-width="1.1" fill="none" stroke-linejoin="round" />
<polyline points="263.7,14.6 264.3,14.6 264.8,14.5 265.4,14.4 265.9,14.3 266.5,14.3 267.1,14.5 267.6,14.3 268.2,14.3 268.8,14.5 269.3,14.4 269.9,14.4 270.5,14.3 271,14.4 271.6,14.1 272.2,14.3 272.7,14.3 273.3,14.3 273.8,14.2 274.4,14.5 275,14.5 275.5,14.3 276.1,14.2 276.7,14.2 277.2,14.3 277.8,14.4 278.4,14.4 278.9,14.5 279.5,14.4 280.1,14.4 280.6,14.5 281.2,14.6 281.7,14.6 282.3,14.5 282.9,14.5 283.4,14.3 284,14.5 284.6,14.6 285.1,14.6 285.7,14.6 286.3,14.6 286.8,14.5 287.4,14.4 287.9,14.2 288.5,14.4 289.1,14.4 289.6,14.3 290.2,14.3 290.8,14.4 291.3,14.5 291.9,14.7 292.5,14.7 293,14.5 293.6,14.3 294.2,14.4 294.7,14.4 295.3,14.4 295.8,14.6 296.4,14.7 297,14.4 297.5,14.5 298.1,14.3 298.7,14.2 299.2,14.4 299.8,14.3 300.4,14.2 300.9,14.3 301.5,14.2 302.1,14.3 302.6,14.3 303.2,14.3 303.7,14.5 304.3,14.5 304.9,14.4 305.4,14.5 306,14.6 306.6,14.4 307.1,14.4 307.7,14.3 308.3,14.5 308.8,14.4 309.4,14.5 310,14.6 310.5,14.6 311.1,14.5 311.6,14.5 312.2,14.7 312.8,14.5 313.3,14.5 313.9,14.7 314.5,14.7 315,14.9 315.6,14.7 316.2,14.7 316.7,14.8 317.3,14.7 317.9,14.5 318.4,14.5 319,14.5 319.5,14.7 320.1,14.7 320.7,14.6 321.2,14.7 321.8,14.6 322.4,14.7 322.9,14.6 323.5,14.7 324.1,14.6 324.6,14.6 325.2,14.8 325.7,14.6 326.3,14.8 326.9,14.8 327.4,14.9 328,15.1 328.6,15.3 329.1,15.4 329.7,15.4 330.3,15.6 330.8,15.8 331.4,15.9 332,15.9 332.5,16 333.1,16.3 333.6,16.5 334.2,16.6 334.8,16.7 335.3,16.7 335.9,16.8 336.5,16.9 337,16.8 337.6,16.8 338.2,16.9 338.7,16.9 339.3,17.1 339.9,17.1 340.4,16.9 341,17 341.5,17.2 342.1,17.1 342.7,17 343.2,17.1 343.8,17.1 344.4,17 344.9,17.1 345.5,17.1 346.1,17 346.6,17.1 347.2,17 347.8,17 348.3,17.2 348.9,17.1 349.4,17 350,16.9 350.6,16.7 351.1,16.4 351.7,16.4 352.3,15.9 352.8,15.5 353.4,14.8 354,13.6 354.5,11.4 355.1,8.4 355.7,7.8 356.2,17 356.8,31.4 357.3,40.6 357.9,44.5 358.5,46.1 359,46.7 359.6,46.8 360.2,46.4 360.7,45.9 361.3,44.6 361.9,40.9 362.4,31.6 363,17 363.5,7.7 364.1,8.4 364.7,11.5 365.2,13.4 365.8,14.7 366.4,15.6 366.9,16.1 367.5,16.3 368.1,16.5 368.6,16.7 369.2,16.9 369.8,17.1 370.3,17.1 370.9,17 371.4,17 372,16.9 372.6,17 373.1,16.9 373.7,17 374.3,16.9 374.8,17 375.4,17 376,16.9 376.5,16.9 377.1,17 377.7,16.8 378.2,17.1 378.8,16.9 379.3,16.7 379.9,16.9 380.5,16.8 381,16.7 381.6,16.7 382.2,16.7 382.7,16.6 383.3,16.5 383.9,16.5 384.4,16.4 385,16.4 385.6,16.2 386.1,16.1 386.7,15.9 387.2,15.8 387.8,15.7 388.4,15.7 388.9,15.7 389.5,15.6 390.1,15.4 390.6,15.4 391.2,15.3 391.8,15.2 392.3,15 392.9,14.9 393.5,14.9 394,14.6 394.6,14.7 395.1,14.5 395.7,14.8 396.3,14.5 396.8,14.6 397.4,14.6 398,14.7 398.5,14.7 399.1,14.6 399.7,14.6 400.2,14.8 400.8,14.7 401.3,14.8 401.9,14.7 402.5,14.8 403,14.8 403.6,14.7 404.2,14.6 404.7,14.7 405.3,14.6 405.9,14.9 406.4,14.6 407,14.6 407.6,14.4 408.1,14.4 408.7,14.4 409.2,14.6 409.8,14.5 410.4,14.5 410.9,14.4 411.5,14.4 412.1,14.4 412.6,14.6 413.2,14.6 413.8,14.4 414.3,14.5 414.9,14.5 415.5,14.5 416,14.7 416.6,14.6 417.1,14.5 417.7,14.6 418.3,14.3 418.8,14.4 419.4,14.2 420,14.2 420.5,14.3 421.1,14.4 421.7,14.3 422.2,14.3 422.8,14.3 423.4,14.2 423.9,14.4 424.5,14.3 425,14.4 425.6,14.6 426.2,14.7 426.7,14.5 427.3,14.4 427.9,14.3 428.4,14.3 429,14.2 429.6,14.2 430.1,14.2 430.7,14.2 431.3,14.3 431.8,14.3 432.4,14.5 432.9,14.3 433.5,14.2 434.1,14.1 434.6,14.3 435.2,14.5 435.8,14.3 436.3,14.3 436.9,14.2 437.5,14.3 438,14.4 438.6,14.3 439.1,14.4 439.7,14.5 440.3,14.5 440.8,14.5 441.4,14.5 442,14.4 442.5,14.5 443.1,14.5 443.7,14.5 444.2,14.5 444.8,14.4 445.4,14.3 445.9,14.3 446.5,14.4 447,14.5 447.6,14.5 448.2,14.5 448.7,14.5 449.3,14.5 449.9,14.4 450.4,14.2 451,14.3 451.6,14.4 452.1,14.4 452.7,14.5 453.3,14.5 453.8,14.6 454.4,14.6 454.9,14.6 455.5,14.6" stroke="#40c840" stroke-width="1.1" fill="none" stroke-linejoin="round" />
</g>
<rect x="271.2" y="141.2" width="30.6" height="11" stroke="none" stroke-width="0" fill="#fff" />
<text x="272.4" y="150.35" font-size="10.2" text-anchor="start" fill="#b630d8" stroke="#b630d8" stroke-width="0.15">0.00 T</text>
<rect x="271.2" y="119.5" width="30.6" height="11" stroke="none" stroke-width="0" fill="#fff" />
<text x="272.4" y="128.65" font-size="10.2" text-anchor="start" fill="#8830e4" stroke="#8830e4" stroke-width="0.15">0.50 T</text>
<rect x="271.2" y="99.25" width="30.6" height="11" stroke="none" stroke-width="0" fill="#fff" />
<text x="272.4" y="108.4" font-size="10.2" text-anchor="start" fill="#3c48f2" stroke="#3c48f2" stroke-width="0.15">1.00 T</text>
<rect x="271.2" y="80.5" width="30.6" height="11" stroke="none" stroke-width="0" fill="#fff" />
<text x="272.4" y="89.65" font-size="10.2" text-anchor="start" fill="#3890f2" stroke="#3890f2" stroke-width="0.15">1.50 T</text>
<rect x="271.2" y="62.1" width="30.6" height="11" stroke="none" stroke-width="0" fill="#fff" />
<text x="272.4" y="71.25" font-size="10.2" text-anchor="start" fill="#2cbcd8" stroke="#2cbcd8" stroke-width="0.15">2.00 T</text>
<rect x="271.2" y="42.1" width="30.6" height="11" stroke="none" stroke-width="0" fill="#fff" />
<text x="272.4" y="51.25" font-size="10.2" text-anchor="start" fill="#2cc490" stroke="#2cc490" stroke-width="0.15">2.50 T</text>
<rect x="271.2" y="21.9" width="30.6" height="11" stroke="none" stroke-width="0" fill="#fff" />
<text x="272.4" y="31.05" font-size="10.2" text-anchor="start" fill="#30c038" stroke="#30c038" stroke-width="0.15">3.00 T</text>
<line x1="300" y1="105" x2="344.37" y2="26.87" stroke="#222" stroke-width="0.9" stroke-dasharray="1.8,1.6" />
<polygon points="346,24 345.11,29.82 343.96,27.59 341.46,27.75" fill="#222" stroke="none" stroke-width="1"/>
<line x1="322.5" y1="149" x2="353.19" y2="27.2" stroke="#222" stroke-width="0.9" stroke-dasharray="1.8,1.6" />
<polygon points="354,24 354.69,29.85 352.99,28 350.62,28.82" fill="#222" stroke="none" stroke-width="1"/>
<line x1="359.5" y1="0.5" x2="359.5" y2="165.5" stroke="#333" stroke-width="1" />
<rect x="265.5" y="0.5" width="187.5" height="165" stroke="#2b2b2b" stroke-width="1" fill="none" />
<line x1="276.2" y1="165.5" x2="276.2" y2="161.3" stroke="#2b2b2b" stroke-width="0.9" />
<line x1="276.2" y1="0.5" x2="276.2" y2="4.7" stroke="#2b2b2b" stroke-width="0.9" />
<line x1="317.9" y1="165.5" x2="317.9" y2="161.3" stroke="#2b2b2b" stroke-width="0.9" />
<line x1="317.9" y1="0.5" x2="317.9" y2="4.7" stroke="#2b2b2b" stroke-width="0.9" />
<line x1="359.6" y1="165.5" x2="359.6" y2="161.3" stroke="#2b2b2b" stroke-width="0.9" />
<line x1="359.6" y1="0.5" x2="359.6" y2="4.7" stroke="#2b2b2b" stroke-width="0.9" />
<line x1="401.3" y1="165.5" x2="401.3" y2="161.3" stroke="#2b2b2b" stroke-width="0.9" />
<line x1="401.3" y1="0.5" x2="401.3" y2="4.7" stroke="#2b2b2b" stroke-width="0.9" />
<line x1="443" y1="165.5" x2="443" y2="161.3" stroke="#2b2b2b" stroke-width="0.9" />
<line x1="443" y1="0.5" x2="443" y2="4.7" stroke="#2b2b2b" stroke-width="0.9" />
<line x1="297.05" y1="165.5" x2="297.05" y2="163.5" stroke="#2b2b2b" stroke-width="0.9" />
<line x1="297.05" y1="0.5" x2="297.05" y2="2.5" stroke="#2b2b2b" stroke-width="0.9" />
<line x1="338.75" y1="165.5" x2="338.75" y2="163.5" stroke="#2b2b2b" stroke-width="0.9" />
<line x1="338.75" y1="0.5" x2="338.75" y2="2.5" stroke="#2b2b2b" stroke-width="0.9" />
<line x1="380.45" y1="165.5" x2="380.45" y2="163.5" stroke="#2b2b2b" stroke-width="0.9" />
<line x1="380.45" y1="0.5" x2="380.45" y2="2.5" stroke="#2b2b2b" stroke-width="0.9" />
<line x1="422.15" y1="165.5" x2="422.15" y2="163.5" stroke="#2b2b2b" stroke-width="0.9" />
<line x1="422.15" y1="0.5" x2="422.15" y2="2.5" stroke="#2b2b2b" stroke-width="0.9" />
<line x1="265.5" y1="164.4" x2="269.7" y2="164.4" stroke="#2b2b2b" stroke-width="0.9" />
<line x1="453" y1="164.4" x2="448.8" y2="164.4" stroke="#2b2b2b" stroke-width="0.9" />
<line x1="265.5" y1="117.8" x2="269.7" y2="117.8" stroke="#2b2b2b" stroke-width="0.9" />
<line x1="453" y1="117.8" x2="448.8" y2="117.8" stroke="#2b2b2b" stroke-width="0.9" />
<line x1="265.5" y1="71.2" x2="269.7" y2="71.2" stroke="#2b2b2b" stroke-width="0.9" />
<line x1="453" y1="71.2" x2="448.8" y2="71.2" stroke="#2b2b2b" stroke-width="0.9" />
<line x1="265.5" y1="24.6" x2="269.7" y2="24.6" stroke="#2b2b2b" stroke-width="0.9" />
<line x1="453" y1="24.6" x2="448.8" y2="24.6" stroke="#2b2b2b" stroke-width="0.9" />
<line x1="265.5" y1="141.1" x2="267.5" y2="141.1" stroke="#2b2b2b" stroke-width="0.9" />
<line x1="453" y1="141.1" x2="451" y2="141.1" stroke="#2b2b2b" stroke-width="0.9" />
<line x1="265.5" y1="94.5" x2="267.5" y2="94.5" stroke="#2b2b2b" stroke-width="0.9" />
<line x1="453" y1="94.5" x2="451" y2="94.5" stroke="#2b2b2b" stroke-width="0.9" />
<line x1="265.5" y1="47.9" x2="267.5" y2="47.9" stroke="#2b2b2b" stroke-width="0.9" />
<line x1="453" y1="47.9" x2="451" y2="47.9" stroke="#2b2b2b" stroke-width="0.9" />
<text x="276.2" y="179.24" font-size="11" text-anchor="middle" fill="#1a1a1a"  stroke="#1a1a1a" stroke-width="0.15">-4</text>
<text x="317.9" y="179.24" font-size="11" text-anchor="middle" fill="#1a1a1a"  stroke="#1a1a1a" stroke-width="0.15">-2</text>
<text x="359.6" y="179.24" font-size="11" text-anchor="middle" fill="#1a1a1a"  stroke="#1a1a1a" stroke-width="0.15">0</text>
<text x="401.3" y="179.24" font-size="11" text-anchor="middle" fill="#1a1a1a"  stroke="#1a1a1a" stroke-width="0.15">2</text>
<text x="443" y="179.24" font-size="11" text-anchor="middle" fill="#1a1a1a"  stroke="#1a1a1a" stroke-width="0.15">4</text>
<text x="261.6" y="168.54" font-size="11" text-anchor="end" fill="#1a1a1a"  stroke="#1a1a1a" stroke-width="0.15">0.0</text>
<text x="261.6" y="121.94" font-size="11" text-anchor="end" fill="#1a1a1a"  stroke="#1a1a1a" stroke-width="0.15">0.5</text>
<text x="261.6" y="75.34" font-size="11" text-anchor="end" fill="#1a1a1a"  stroke="#1a1a1a" stroke-width="0.15">1.0</text>
<text x="261.6" y="28.74" font-size="11" text-anchor="end" fill="#1a1a1a"  stroke="#1a1a1a" stroke-width="0.15">1.5</text>
<text transform="translate(242.84,80) rotate(-90)" font-size="11" text-anchor="middle" fill="#1a1a1a"  stroke="#1a1a1a" stroke-width="0.15"><tspan font-style="italic">dV</tspan>/<tspan font-style="italic">dI</tspan> (kΩ)</text>
<text x="361.6" y="191.6" font-size="10.6" text-anchor="middle" fill="#1a1a1a" stroke="#1a1a1a" stroke-width="0.15"><tspan font-style="italic">I</tspan><tspan font-size="7.8" dy="2.5">bias</tspan><tspan dy="-2.5"> (µA)</tspan></text>
<text x="242.6" y="10.05" font-size="13" text-anchor="middle" fill="#1a1a1a" font-weight="bold"  stroke="#1a1a1a" stroke-width="0.15">b</text>
<clipPath id="ce"><rect x="265.5" y="203.5" width="188" height="165"/></clipPath>
<g clip-path="url(#ce)" fill="none">
<polyline points="264.6,355.2 265.3,355.2 265.9,355.3 266.5,355.3 267.2,355.3 267.8,355.2 268.4,355.2 269.1,355.2 269.7,355.2 270.3,355.2 271,355.3 271.6,355.3 272.3,355.4 272.9,355.5 273.5,355.3 274.2,355.3 274.8,355.3 275.4,355.2 276.1,355.1 276.7,355.4 277.3,355.1 278,355.1 278.6,355.2 279.2,355.3 279.9,355.4 280.5,355.4 281.1,355.2 281.8,355.1 282.4,355 283,355.2 283.7,355.2 284.3,355.1 284.9,355.3 285.6,355.3 286.2,355.4 286.8,355.3 287.5,355.1 288.1,355.2 288.7,355.2 289.4,355.2 290,355.3 290.7,355.2 291.3,355.2 291.9,355.1 292.6,355 293.2,355.1 293.8,355.2 294.5,355.2 295.1,355.1 295.7,355.1 296.4,355.1 297,354.9 297.6,354.8 298.3,354.9 298.9,354.9 299.5,354.8 300.2,354.8 300.8,354.7 301.4,354.5 302.1,354.4 302.7,354.3 303.3,354 304,353.6 304.6,353 305.2,352.2 305.9,350.8 306.5,349 307.1,346.9 307.8,345.5 308.4,345.9 309,348 309.7,350 310.3,351.4 311,352.4 311.6,353.2 312.2,353.8 312.9,354 313.5,354.2 314.1,354.6 314.8,354.6 315.4,354.7 316,354.8 316.7,354.9 317.3,355 317.9,355 318.6,355 319.2,355 319.8,355 320.5,355 321.1,355.1 321.7,355 322.4,355.1 323,355 323.6,355 324.3,355.1 324.9,355.2 325.5,355.2 326.2,355.2 326.8,355.2 327.4,355.2 328.1,355.2 328.7,355.3 329.3,355.2 330,355.1 330.6,355.1 331.3,355.1 331.9,355.2 332.5,355.2 333.2,355.2 333.8,355.1 334.4,355.2 335.1,355.3 335.7,355.3 336.3,355.2 337,355.1 337.6,355.1 338.2,355 338.9,355 339.5,355 340.1,355.1 340.8,355.1 341.4,355.2 342,355.1 342.7,355.1 343.3,354.9 343.9,354.9 344.6,354.7 345.2,354.7 345.8,354.7 346.5,354.6 347.1,354.4 347.7,354 348.4,353.8 349,353.5 349.6,352.9 350.3,352 350.9,350.6 351.6,348.3 352.2,345.7 352.8,345.1 353.5,348.7 354.1,354.6 354.7,359.3 355.4,362.4 356,364.3 356.6,365.3 357.3,365.8 357.9,366.1 358.5,366.3 359.2,366.5 359.8,366.6 360.4,366.5 361.1,366.3 361.7,366.1 362.3,365.9 363,365.3 363.6,364.2 364.2,362.6 364.9,359.4 365.5,354.6 366.1,348.7 366.8,345.2 367.4,345.8 368,348.1 368.7,350.4 369.3,352 370,353 370.6,353.6 371.2,354 371.9,354.2 372.5,354.5 373.1,354.7 373.8,354.7 374.4,354.9 375,354.7 375.7,354.9 376.3,355 376.9,355.1 377.6,355.1 378.2,355.2 378.8,355.1 379.5,355.1 380.1,355.2 380.7,355.1 381.4,355 382,354.9 382.6,355 383.3,355 383.9,355.1 384.5,355.1 385.2,355.3 385.8,355.3 386.4,355.2 387.1,355 387.7,355.1 388.3,355.1 389,355.3 389.6,355.2 390.3,355.3 390.9,355.2 391.5,355.1 392.2,355.2 392.8,355.3 393.4,355.4 394.1,355.3 394.7,355.2 395.3,355.1 396,355.1 396.6,355 397.2,355.1 397.9,355 398.5,355.1 399.1,355.2 399.8,355 400.4,355 401,354.8 401.7,354.8 402.3,354.9 402.9,354.6 403.6,354.4 404.2,354.5 404.8,354.4 405.5,354.1 406.1,353.7 406.7,353.3 407.4,352.7 408,351.9 408.6,350.5 409.3,348.7 409.9,346.5 410.6,345.3 411.2,346 411.8,348.1 412.5,350.1 413.1,351.6 413.7,352.5 414.4,353.4 415,353.8 415.6,354.1 416.3,354.4 416.9,354.5 417.5,354.6 418.2,354.7 418.8,354.8 419.4,354.9 420.1,354.9 420.7,355.1 421.3,355 422,355 422.6,355.1 423.2,355.1 423.9,355.1 424.5,355.1 425.1,355.2 425.8,355.2 426.4,355.2 427,355.1 427.7,355.1 428.3,355 428.9,355.1 429.6,355.1 430.2,355.1 430.9,355.2 431.5,355.1 432.1,355.1 432.8,355.2 433.4,355.1 434,355.3 434.7,355.4 435.3,355.3 435.9,355.2 436.6,355.3 437.2,355.3 437.8,355.2 438.5,355.1 439.1,355.1 439.7,355.3 440.4,355.2 441,355.3 441.6,355.2 442.3,355.1 442.9,355.2 443.5,355.2 444.2,355.2 444.8,355.2 445.4,355.2 446.1,355.1 446.7,355.2 447.3,355.3 448,355.3 448.6,355.2 449.3,355 449.9,355.2 450.5,355.3 451.2,355.2 451.8,355.2 452.4,355.3 453.1,355.4 453.7,355.3 454.3,355.2 455,355.2" stroke="#b630d8" stroke-width="1.1" fill="none" stroke-linejoin="round" />
<polyline points="264.6,347.4 265.3,347.6 265.9,347.5 266.5,347.5 267.2,347.5 267.8,347.6 268.4,347.5 269.1,347.6 269.7,347.5 270.3,347.6 271,347.4 271.6,347.2 272.3,346.7 272.9,346.5 273.5,346.2 274.2,345.8 274.8,345.9 275.4,345.9 276.1,346.1 276.7,346.4 277.3,346.5 278,346.4 278.6,346.5 279.2,346.7 279.9,346.6 280.5,346.7 281.1,346.8 281.8,346.9 282.4,347.1 283,347 283.7,347 284.3,347.3 284.9,347.4 285.6,347.5 286.2,347.4 286.8,347.4 287.5,347.4 288.1,347.3 288.7,347.4 289.4,347.5 290,347.6 290.7,347.6 291.3,347.5 291.9,347.7 292.6,347.7 293.2,347.7 293.8,347.8 294.5,347.7 295.1,347.9 295.7,347.9 296.4,347.8 297,347.7 297.6,347.6 298.3,347.6 298.9,347.7 299.5,347.6 300.2,347.7 300.8,347.8 301.4,347.8 302.1,347.6 302.7,347.5 303.3,347.5 304,347.4 304.6,347.3 305.2,347.1 305.9,346.8 306.5,346.5 307.1,346.2 307.8,345.6 308.4,344.5 309,343 309.7,341.5 310.3,340.2 311,340.6 311.6,342.1 312.2,343.8 312.9,345.1 313.5,345.9 314.1,346.5 314.8,346.9 315.4,347.2 316,347.4 316.7,347.5 317.3,347.6 317.9,347.8 318.6,347.7 319.2,347.9 319.8,347.8 320.5,348 321.1,348.1 321.7,348.1 322.4,348.1 323,348.1 323.6,348 324.3,348.1 324.9,348.1 325.5,348.1 326.2,348 326.8,348 327.4,348.1 328.1,348.1 328.7,348.1 329.3,348.1 330,348.1 330.6,348.2 331.3,348.1 331.9,348 332.5,348.1 333.2,348.1 333.8,348.1 334.4,348 335.1,348 335.7,348.1 336.3,348.1 337,348.1 337.6,348.2 338.2,348.1 338.9,348.1 339.5,348 340.1,348.2 340.8,348.1 341.4,348.1 342,348.1 342.7,348.2 343.3,348.1 343.9,348.1 344.6,348 345.2,348 345.8,347.9 346.5,347.8 347.1,347.6 347.7,347.5 348.4,347.3 349,347.1 349.6,346.8 350.3,346.1 350.9,344.8 351.6,343.2 352.2,341.4 352.8,341.3 353.5,344.7 354.1,349.6 354.7,353.5 355.4,356.1 356,357.5 356.6,358.4 357.3,358.6 357.9,358.8 358.5,359.1 359.2,359.2 359.8,359.4 360.4,359.3 361.1,359.1 361.7,358.8 362.3,358.5 363,358.1 363.6,357.4 364.2,356 364.9,353.4 365.5,349.5 366.1,344.7 366.8,341.4 367.4,341.4 368,343.2 368.7,344.7 369.3,345.8 370,346.4 370.6,346.8 371.2,347.1 371.9,347.5 372.5,347.7 373.1,347.6 373.8,347.7 374.4,347.7 375,347.9 375.7,348 376.3,348.2 376.9,348.2 377.6,348.3 378.2,348.3 378.8,348.3 379.5,348.3 380.1,348.2 380.7,348.2 381.4,348.1 382,348 382.6,347.9 383.3,348.1 383.9,348.1 384.5,348.1 385.2,348.2 385.8,348.2 386.4,348 387.1,348.1 387.7,348.1 388.3,348.1 389,348.2 389.6,348 390.3,348.1 390.9,348 391.5,348 392.2,347.9 392.8,348 393.4,347.8 394.1,347.7 394.7,347.7 395.3,347.5 396,347.4 396.6,347.1 397.2,347 397.9,346.7 398.5,346.4 399.1,345.8 399.8,344.8 400.4,343.4 401,341.6 401.7,340.3 402.3,340.4 402.9,341.9 403.6,343.6 404.2,345 404.8,345.9 405.5,346.5 406.1,347 406.7,347.2 407.4,347.4 408,347.5 408.6,347.6 409.3,347.7 409.9,347.9 410.6,347.8 411.2,347.7 411.8,347.7 412.5,347.8 413.1,347.8 413.7,347.8 414.4,347.8 415,347.9 415.6,347.9 416.3,347.9 416.9,347.9 417.5,347.8 418.2,347.8 418.8,347.9 419.4,347.9 420.1,347.8 420.7,347.7 421.3,347.8 422,347.8 422.6,347.7 423.2,347.8 423.9,347.8 424.5,347.8 425.1,347.7 425.8,347.6 426.4,347.7 427,347.7 427.7,347.6 428.3,347.7 428.9,347.5 429.6,347.5 430.2,347.5 430.9,347.4 431.5,347.5 432.1,347.3 432.8,347 433.4,347.2 434,347.2 434.7,347.2 435.3,347.1 435.9,347 436.6,347.2 437.2,346.9 437.8,346.8 438.5,346.8 439.1,346.9 439.7,346.8 440.4,346.7 441,346.7 441.6,346.6 442.3,346.5 442.9,346.2 443.5,346.1 444.2,345.9 444.8,345.9 445.4,345.9 446.1,346.3 446.7,346.5 447.3,346.7 448,346.9 448.6,347.1 449.3,347.4 449.9,347.6 450.5,347.5 451.2,347.4 451.8,347.5 452.4,347.5 453.1,347.5 453.7,347.7 454.3,347.4 455,347.4" stroke="#a030dc" stroke-width="1.1" fill="none" stroke-linejoin="round" />
<polyline points="264.6,340.5 265.3,340.5 265.9,340.4 266.5,340.4 267.2,340.4 267.8,340.4 268.4,340.3 269.1,340.4 269.7,340.4 270.3,340.3 271,340.3 271.6,340.3 272.3,340.2 272.9,340.2 273.5,340.1 274.2,340 274.8,340 275.4,339.7 276.1,339.3 276.7,338.9 277.3,338.6 278,338 278.6,338 279.2,338.1 279.9,338.3 280.5,338.3 281.1,338.4 281.8,338.7 282.4,338.8 283,338.9 283.7,339 284.3,339.1 284.9,339.2 285.6,339.4 286.2,339.4 286.8,339.7 287.5,339.6 288.1,339.8 288.7,339.9 289.4,339.9 290,340.1 290.7,340.1 291.3,340.2 291.9,340.2 292.6,340.2 293.2,340.2 293.8,340.3 294.5,340.4 295.1,340.5 295.7,340.5 296.4,340.6 297,340.5 297.6,340.6 298.3,340.7 298.9,340.6 299.5,340.6 300.2,340.6 300.8,340.7 301.4,340.7 302.1,341 302.7,341.1 303.3,341.1 304,341.2 304.6,341.1 305.2,341 305.9,341 306.5,340.9 307.1,340.8 307.8,340.8 308.4,340.9 309,340.9 309.7,340.9 310.3,340.8 311,341 311.6,340.8 312.2,340.9 312.9,340.8 313.5,340.8 314.1,340.8 314.8,340.7 315.4,340.6 316,340.7 316.7,340.5 317.3,340.4 317.9,340.2 318.6,339.9 319.2,339.6 319.8,339.3 320.5,338.6 321.1,337.4 321.7,335.8 322.4,333.8 323,332.4 323.6,332.8 324.3,334.5 324.9,336.3 325.5,337.7 326.2,338.7 326.8,339.4 327.4,339.9 328.1,340.1 328.7,340.3 329.3,340.7 330,340.7 330.6,340.6 331.3,340.7 331.9,341 332.5,341.1 333.2,341 333.8,341.1 334.4,341.1 335.1,341.1 335.7,341 336.3,341.1 337,341.1 337.6,341 338.2,341 338.9,341.1 339.5,341 340.1,341.1 340.8,341.1 341.4,341.3 342,341.2 342.7,341.1 343.3,341.3 343.9,341.2 344.6,341.1 345.2,341.3 345.8,341.3 346.5,341.1 347.1,340.8 347.7,340.6 348.4,340.6 349,340.2 349.6,339.9 350.3,339.2 350.9,338.4 351.6,337 352.2,335.8 352.8,336.2 353.5,339.7 354.1,344.4 354.7,348 355.4,350.4 356,351.9 356.6,352.8 357.3,353.2 357.9,353.3 358.5,353.4 359.2,353.3 359.8,353.6 360.4,353.5 361.1,353.4 361.7,353.3 362.3,353 363,352.7 363.6,351.8 364.2,350.5 364.9,348.1 365.5,344.3 366.1,339.6 366.8,336.2 367.4,335.9 368,337.2 368.7,338.5 369.3,339.4 370,339.9 370.6,340.2 371.2,340.4 371.9,340.8 372.5,340.8 373.1,341 373.8,341 374.4,341.1 375,341.2 375.7,341.2 376.3,341.2 376.9,341.1 377.6,341.2 378.2,341.3 378.8,341.2 379.5,341.2 380.1,341.2 380.7,341.3 381.4,341.3 382,341.1 382.6,341.1 383.3,341.2 383.9,341.1 384.5,341.1 385.2,341 385.8,341.1 386.4,341.1 387.1,341 387.7,340.9 388.3,340.8 389,340.7 389.6,340.5 390.3,340.3 390.9,340.2 391.5,339.9 392.2,339.3 392.8,338.6 393.4,337.7 394.1,336.2 394.7,334.3 395.3,332.7 396,332.7 396.6,334.2 397.2,336 397.9,337.6 398.5,338.6 399.1,339.2 399.8,339.6 400.4,340 401,340.3 401.7,340.5 402.3,340.6 402.9,340.7 403.6,340.7 404.2,340.9 404.8,340.9 405.5,340.9 406.1,340.8 406.7,340.7 407.4,340.9 408,340.9 408.6,340.9 409.3,341 409.9,341 410.6,341.1 411.2,341 411.8,340.9 412.5,340.9 413.1,340.8 413.7,340.8 414.4,340.7 415,340.7 415.6,340.7 416.3,340.9 416.9,340.9 417.5,340.8 418.2,340.8 418.8,340.8 419.4,340.7 420.1,340.6 420.7,340.6 421.3,340.6 422,340.7 422.6,340.5 423.2,340.4 423.9,340.3 424.5,340.4 425.1,340.3 425.8,340.5 426.4,340.2 427,340.3 427.7,340.3 428.3,340 428.9,340 429.6,340 430.2,340 430.9,339.8 431.5,339.7 432.1,339.6 432.8,339.6 433.4,339.3 434,339.2 434.7,339.1 435.3,339.1 435.9,339 436.6,338.8 437.2,338.9 437.8,338.7 438.5,338.6 439.1,338.6 439.7,338.4 440.4,338.1 441,337.9 441.6,337.9 442.3,338.5 442.9,339 443.5,339.3 444.2,339.7 444.8,339.9 445.4,340.1 446.1,340.2 446.7,340.3 447.3,340.3 448,340.4 448.6,340.4 449.3,340.2 449.9,340.3 450.5,340.6 451.2,340.5 451.8,340.4 452.4,340.5 453.1,340.5 453.7,340.4 454.3,340.5 455,340.4" stroke="#8830e4" stroke-width="1.1" fill="none" stroke-linejoin="round" />
<polyline points="264.6,334.5 265.3,334.4 265.9,334.4 266.5,334.6 267.2,334.5 267.8,334.4 268.4,334.2 269.1,334.2 269.7,334.1 270.3,334.2 271,334.2 271.6,334.1 272.3,334 272.9,333.9 273.5,333.9 274.2,333.8 274.8,333.6 275.4,333.6 276.1,333.5 276.7,333.1 277.3,332.6 278,332 278.6,331.4 279.2,331.4 279.9,331.6 280.5,331.8 281.1,331.8 281.8,332 282.4,332.1 283,332.2 283.7,332.4 284.3,332.5 284.9,332.7 285.6,333 286.2,333.2 286.8,333.2 287.5,333.5 288.1,333.5 288.7,333.6 289.4,333.5 290,333.7 290.7,333.6 291.3,333.8 291.9,334 292.6,333.9 293.2,334.1 293.8,334.2 294.5,334.1 295.1,334.2 295.7,334.3 296.4,334.4 297,334.3 297.6,334.5 298.3,334.5 298.9,334.5 299.5,334.5 300.2,334.6 300.8,334.8 301.4,334.9 302.1,334.9 302.7,334.8 303.3,334.7 304,334.8 304.6,334.9 305.2,335 305.9,334.9 306.5,334.9 307.1,334.9 307.8,334.9 308.4,335 309,335.1 309.7,335.1 310.3,335 311,334.9 311.6,334.9 312.2,334.9 312.9,334.9 313.5,335 314.1,335 314.8,334.9 315.4,335.1 316,335 316.7,334.9 317.3,334.9 317.9,334.7 318.6,334.6 319.2,334.4 319.8,334.3 320.5,333.9 321.1,333.6 321.7,333 322.4,332.3 323,331 323.6,329.5 324.3,327.8 324.9,327.3 325.5,328.4 326.2,330.2 326.8,331.7 327.4,332.8 328.1,333.4 328.7,333.9 329.3,334.2 330,334.5 330.6,334.5 331.3,334.7 331.9,334.8 332.5,335.1 333.2,335.2 333.8,335.3 334.4,335.2 335.1,335.2 335.7,335.1 336.3,335.3 337,335.2 337.6,335 338.2,335.2 338.9,335.2 339.5,335.2 340.1,335.2 340.8,335.2 341.4,335.2 342,335.1 342.7,335.3 343.3,335.1 343.9,335.1 344.6,335.1 345.2,335.2 345.8,335.1 346.5,335 347.1,335.1 347.7,334.9 348.4,334.8 349,334.6 349.6,334.2 350.3,333.7 350.9,332.7 351.6,331.8 352.2,330.9 352.8,331.6 353.5,335.3 354.1,339.8 354.7,343.5 355.4,345.8 356,347.2 356.6,348 357.3,348.3 357.9,348.4 358.5,348.6 359.2,348.9 359.8,348.9 360.4,348.7 361.1,348.5 361.7,348.5 362.3,348.1 363,347.8 363.6,347.1 364.2,345.8 364.9,343.5 365.5,339.7 366.1,335.2 366.8,331.6 367.4,330.8 368,331.8 368.7,332.8 369.3,333.6 370,334.1 370.6,334.4 371.2,334.6 371.9,334.8 372.5,334.9 373.1,334.9 373.8,335 374.4,335 375,335.1 375.7,335.1 376.3,335.2 376.9,335.1 377.6,335.3 378.2,335.3 378.8,335.3 379.5,335.2 380.1,335.3 380.7,335.4 381.4,335.2 382,335.2 382.6,335.2 383.3,335.2 383.9,335.2 384.5,335.1 385.2,335.1 385.8,335.1 386.4,334.9 387.1,334.9 387.7,334.9 388.3,334.7 389,334.5 389.6,334.3 390.3,333.9 390.9,333.4 391.5,332.7 392.2,331.5 392.8,330 393.4,328.3 394.1,327.4 394.7,328.1 395.3,329.6 396,331 396.6,332.3 397.2,333.1 397.9,333.7 398.5,334 399.1,334.2 399.8,334.3 400.4,334.6 401,334.7 401.7,334.8 402.3,334.8 402.9,334.9 403.6,334.8 404.2,334.9 404.8,334.8 405.5,334.9 406.1,335 406.7,334.9 407.4,334.9 408,334.9 408.6,335 409.3,334.8 409.9,334.9 410.6,335 411.2,334.9 411.8,334.8 412.5,334.6 413.1,334.8 413.7,334.7 414.4,334.8 415,334.8 415.6,334.7 416.3,334.8 416.9,334.7 417.5,334.7 418.2,334.6 418.8,334.5 419.4,334.3 420.1,334.4 420.7,334.4 421.3,334.3 422,334.2 422.6,334.2 423.2,334.2 423.9,334.3 424.5,334.2 425.1,334 425.8,333.9 426.4,333.8 427,333.7 427.7,333.6 428.3,333.6 428.9,333.6 429.6,333.4 430.2,333.3 430.9,333.3 431.5,333.3 432.1,333.1 432.8,333.2 433.4,333 434,332.9 434.7,332.7 435.3,332.6 435.9,332.5 436.6,332.5 437.2,332.2 437.8,332.1 438.5,331.9 439.1,332 439.7,331.8 440.4,331.6 441,331.4 441.6,332.2 442.3,332.7 442.9,333.3 443.5,333.5 444.2,333.8 444.8,333.8 445.4,333.8 446.1,334 446.7,334 447.3,334.2 448,334.2 448.6,334.2 449.3,334.2 449.9,334.3 450.5,334.3 451.2,334.4 451.8,334.2 452.4,334.2 453.1,334.3 453.7,334.4 454.3,334.3 455,334.1" stroke="#6040ec" stroke-width="1.1" fill="none" stroke-linejoin="round" />
<polyline points="264.6,326.5 265.3,326.6 265.9,326.6 266.5,326.5 267.2,326.5 267.8,326.6 268.4,326.5 269.1,326.6 269.7,326.6 270.3,326.6 271,326.6 271.6,326.5 272.3,326.5 272.9,326.4 273.5,326.3 274.2,326.3 274.8,326.1 275.4,326.1 276.1,326.2 276.7,325.9 277.3,325.6 278,325.4 278.6,324.9 279.2,324.4 279.9,323.6 280.5,323.2 281.1,323.2 281.8,323.6 282.4,323.8 283,323.9 283.7,324.1 284.3,324.2 284.9,324.4 285.6,324.7 286.2,324.9 286.8,325.1 287.5,325.1 288.1,325.2 288.7,325.3 289.4,325.5 290,325.6 290.7,325.7 291.3,325.8 291.9,326 292.6,326.1 293.2,325.9 293.8,326 294.5,326.2 295.1,326.3 295.7,326.3 296.4,326.4 297,326.4 297.6,326.5 298.3,326.5 298.9,326.6 299.5,326.6 300.2,326.7 300.8,326.7 301.4,326.9 302.1,326.9 302.7,326.8 303.3,326.8 304,326.9 304.6,327 305.2,327 305.9,327.1 306.5,327 307.1,327 307.8,327.1 308.4,327.2 309,327.3 309.7,327.3 310.3,327.3 311,327.3 311.6,327.3 312.2,327.3 312.9,327.2 313.5,327.3 314.1,327.3 314.8,327.2 315.4,327.3 316,327.4 316.7,327.2 317.3,327.3 317.9,327.2 318.6,327 319.2,327 319.8,326.9 320.5,326.8 321.1,326.8 321.7,326.5 322.4,326.4 323,325.8 323.6,325.2 324.3,324.2 324.9,322.7 325.5,321.1 326.2,319.9 326.8,320.1 327.4,321.7 328.1,323.3 328.7,324.5 329.3,325.3 330,325.9 330.6,326.3 331.3,326.8 331.9,326.9 332.5,326.9 333.2,327 333.8,327.1 334.4,327.3 335.1,327.4 335.7,327.4 336.3,327.6 337,327.7 337.6,327.6 338.2,327.6 338.9,327.8 339.5,327.8 340.1,327.9 340.8,328 341.4,327.9 342,327.9 342.7,327.9 343.3,327.8 343.9,327.8 344.6,327.9 345.2,328 345.8,328 346.5,328 347.1,327.9 347.7,327.9 348.4,328 349,327.9 349.6,327.9 350.3,327.7 350.9,327.5 351.6,327.1 352.2,326.3 352.8,325.6 353.5,325.7 354.1,327.8 354.7,330.8 355.4,333.2 356,334.7 356.6,335.8 357.3,336.5 357.9,337.3 358.5,338 359.2,338.8 359.8,339.5 360.4,338.6 361.1,337.8 361.7,337.1 362.3,336.5 363,335.7 363.6,334.6 364.2,333 364.9,330.8 365.5,327.9 366.1,325.7 366.8,325.5 367.4,326.2 368,326.9 368.7,327.4 369.3,327.4 370,327.8 370.6,328 371.2,328 371.9,328.1 372.5,328.1 373.1,327.9 373.8,327.9 374.4,327.9 375,327.8 375.7,327.9 376.3,327.7 376.9,327.8 377.6,327.7 378.2,327.7 378.8,327.7 379.5,327.8 380.1,327.7 380.7,327.7 381.4,327.4 382,327.4 382.6,327.5 383.3,327.3 383.9,327.3 384.5,327.4 385.2,327.3 385.8,327.2 386.4,327.2 387.1,326.9 387.7,326.6 388.3,326.5 389,326.1 389.6,325.4 390.3,324.6 390.9,323.2 391.5,321.6 392.2,320.1 392.8,319.9 393.4,321.2 394.1,323 394.7,324.3 395.3,325.3 396,325.9 396.6,326.4 397.2,326.6 397.9,326.7 398.5,326.9 399.1,327 399.8,327.1 400.4,327.2 401,327.3 401.7,327.5 402.3,327.3 402.9,327.3 403.6,327.3 404.2,327.2 404.8,327.2 405.5,327.4 406.1,327.4 406.7,327.3 407.4,327.4 408,327.4 408.6,327.4 409.3,327.3 409.9,327.3 410.6,327.3 411.2,327.3 411.8,327.1 412.5,327.1 413.1,327.2 413.7,327 414.4,327.1 415,327.1 415.6,327 416.3,326.8 416.9,326.8 417.5,326.9 418.2,326.7 418.8,326.7 419.4,326.8 420.1,326.8 420.7,326.7 421.3,326.7 422,326.7 422.6,326.4 423.2,326.4 423.9,326.2 424.5,326.2 425.1,326.1 425.8,326 426.4,326 427,326.1 427.7,326 428.3,325.7 428.9,325.5 429.6,325.5 430.2,325.4 430.9,325.1 431.5,325.2 432.1,325 432.8,324.9 433.4,324.7 434,324.5 434.7,324.4 435.3,324.4 435.9,324.1 436.6,323.9 437.2,323.7 437.8,323.4 438.5,323.4 439.1,323.1 439.7,323.6 440.4,324.3 441,324.9 441.6,325.4 442.3,325.7 442.9,325.9 443.5,326 444.2,326.3 444.8,326.3 445.4,326.3 446.1,326.4 446.7,326.5 447.3,326.5 448,326.5 448.6,326.4 449.3,326.4 449.9,326.5 450.5,326.4 451.2,326.5 451.8,326.5 452.4,326.5 453.1,326.4 453.7,326.3 454.3,326.3 455,326.5" stroke="#3c50f2" stroke-width="1.1" fill="none" stroke-linejoin="round" />
<polyline points="264.6,319.4 265.3,319.5 265.9,319.4 266.5,319.4 267.2,319.4 267.8,319.5 268.4,319.4 269.1,319.4 269.7,319.3 270.3,319.3 271,319.3 271.6,319.2 272.3,319.4 272.9,319.3 273.5,319.4 274.2,319.4 274.8,319.3 275.4,319.5 276.1,319.4 276.7,319.4 277.3,319.4 278,319.3 278.6,319.3 279.2,319.1 279.9,319.1 280.5,318.8 281.1,318.5 281.8,318.3 282.4,317.7 283,317.1 283.7,316.4 284.3,316 284.9,316.2 285.6,316.4 286.2,316.5 286.8,316.8 287.5,317.1 288.1,317.3 288.7,317.4 289.4,317.5 290,317.6 290.7,317.7 291.3,317.9 291.9,318 292.6,318.2 293.2,318.2 293.8,318.4 294.5,318.5 295.1,318.7 295.7,318.8 296.4,318.7 297,318.8 297.6,318.9 298.3,319.1 298.9,319.2 299.5,319.2 300.2,319 300.8,319.3 301.4,319.4 302.1,319.4 302.7,319.5 303.3,319.5 304,319.4 304.6,319.5 305.2,319.6 305.9,319.6 306.5,319.6 307.1,319.9 307.8,319.8 308.4,319.8 309,320 309.7,319.9 310.3,319.8 311,319.9 311.6,320 312.2,320.1 312.9,320.2 313.5,320.1 314.1,320.3 314.8,320.3 315.4,320.2 316,320.2 316.7,320.3 317.3,320.2 317.9,320.1 318.6,320.1 319.2,320.1 319.8,320.2 320.5,320.1 321.1,320 321.7,319.9 322.4,320 323,320.1 323.6,320 324.3,319.7 324.9,319.3 325.5,318.9 326.2,318.1 326.8,317.3 327.4,316.1 328.1,314.7 328.7,313.6 329.3,313.9 330,315.2 330.6,316.6 331.3,317.8 331.9,318.4 332.5,319.1 333.2,319.4 333.8,319.7 334.4,319.9 335.1,320 335.7,320.2 336.3,320.4 337,320.4 337.6,320.4 338.2,320.5 338.9,320.6 339.5,320.6 340.1,320.6 340.8,320.6 341.4,320.6 342,320.6 342.7,320.7 343.3,320.7 343.9,320.8 344.6,320.9 345.2,321 345.8,321 346.5,320.8 347.1,321 347.7,321.2 348.4,321.1 349,320.9 349.6,320.8 350.3,320.8 350.9,320.9 351.6,320.6 352.2,320.1 352.8,319.5 353.5,319.8 354.1,321.8 354.7,324.1 355.4,326 356,327.3 356.6,328.3 357.3,329.2 357.9,330 358.5,330.7 359.2,331.6 359.8,332.6 360.4,331.7 361.1,330.7 361.7,329.9 362.3,329.2 363,328.4 363.6,327.3 364.2,325.9 364.9,323.9 365.5,321.5 366.1,319.8 366.8,319.4 367.4,319.8 368,320.4 368.7,320.7 369.3,320.9 370,321 370.6,320.9 371.2,320.9 371.9,321 372.5,320.9 373.1,320.8 373.8,320.9 374.4,320.8 375,320.7 375.7,320.7 376.3,320.8 376.9,320.7 377.6,320.6 378.2,320.4 378.8,320.5 379.5,320.5 380.1,320.5 380.7,320.4 381.4,320.5 382,320.5 382.6,320.3 383.3,320 383.9,320 384.5,320 385.2,319.8 385.8,319.6 386.4,319.3 387.1,318.8 387.7,318.1 388.3,316.8 389,315.3 389.6,314.1 390.3,313.8 390.9,314.9 391.5,316.3 392.2,317.4 392.8,318.3 393.4,318.9 394.1,319.2 394.7,319.6 395.3,319.8 396,319.9 396.6,320 397.2,320 397.9,320.1 398.5,320 399.1,320.1 399.8,320.3 400.4,320.4 401,320.3 401.7,320.2 402.3,320 402.9,320 403.6,320.1 404.2,320.1 404.8,320.1 405.5,320 406.1,320.2 406.7,320.2 407.4,320.2 408,320.1 408.6,320 409.3,320.1 409.9,320.1 410.6,319.9 411.2,319.8 411.8,319.8 412.5,319.9 413.1,319.6 413.7,319.7 414.4,319.8 415,319.5 415.6,319.5 416.3,319.5 416.9,319.3 417.5,319.3 418.2,319.2 418.8,319.3 419.4,319.3 420.1,319.1 420.7,319.2 421.3,319.2 422,319.1 422.6,319 423.2,318.9 423.9,318.9 424.5,318.7 425.1,318.4 425.8,318.5 426.4,318.4 427,318.2 427.7,318 428.3,317.8 428.9,317.8 429.6,317.8 430.2,317.5 430.9,317.2 431.5,317.1 432.1,317 432.8,316.9 433.4,316.6 434,316.5 434.7,316.3 435.3,316.1 435.9,316.5 436.6,317.1 437.2,317.8 437.8,318.1 438.5,318.5 439.1,318.7 439.7,319 440.4,319 441,319.1 441.6,319.3 442.3,319.2 442.9,319.2 443.5,319.3 444.2,319.3 444.8,319.4 445.4,319.6 446.1,319.6 446.7,319.5 447.3,319.4 448,319.5 448.6,319.4 449.3,319.3 449.9,319.4 450.5,319.5 451.2,319.5 451.8,319.3 452.4,319.3 453.1,319.4 453.7,319.4 454.3,319.4 455,319.5" stroke="#3a64f4" stroke-width="1.1" fill="none" stroke-linejoin="round" />
<polyline points="264.6,312 265.3,312.1 265.9,312.2 266.5,312.3 267.2,312.2 267.8,312.3 268.4,312.1 269.1,312.2 269.7,312.2 270.3,312.1 271,312.2 271.6,312.1 272.3,312.1 272.9,312.1 273.5,312.2 274.2,312.1 274.8,312 275.4,312 276.1,312.1 276.7,312.1 277.3,312.1 278,312.1 278.6,312 279.2,312.1 279.9,311.9 280.5,311.8 281.1,311.8 281.8,311.7 282.4,311.6 283,311.6 283.7,311.5 284.3,311.4 284.9,311.1 285.6,310.5 286.2,309.9 286.8,309.2 287.5,308.4 288.1,308.5 288.7,308.8 289.4,309.1 290,309.3 290.7,309.4 291.3,309.5 291.9,309.7 292.6,310 293.2,310.1 293.8,310.1 294.5,310.3 295.1,310.5 295.7,310.7 296.4,310.8 297,310.9 297.6,311.1 298.3,311.2 298.9,311.3 299.5,311.4 300.2,311.4 300.8,311.5 301.4,311.7 302.1,311.9 302.7,311.9 303.3,311.9 304,311.9 304.6,312 305.2,312 305.9,312.1 306.5,312.2 307.1,312.3 307.8,312.4 308.4,312.5 309,312.5 309.7,312.4 310.3,312.5 311,312.5 311.6,312.7 312.2,312.7 312.9,312.6 313.5,312.8 314.1,312.8 314.8,313 315.4,313 316,313 316.7,312.8 317.3,312.8 317.9,312.8 318.6,312.8 319.2,313 319.8,312.9 320.5,313.1 321.1,313 321.7,313 322.4,313 323,313.1 323.6,313 324.3,312.8 324.9,312.8 325.5,312.7 326.2,312.8 326.8,312.5 327.4,312.4 328.1,312 328.7,311.7 329.3,311.2 330,310.3 330.6,309.1 331.3,307.8 331.9,306.7 332.5,307 333.2,308.3 333.8,309.7 334.4,310.7 335.1,311.6 335.7,312.1 336.3,312.4 337,312.6 337.6,312.8 338.2,313 338.9,313.2 339.5,313.2 340.1,313.3 340.8,313.2 341.4,313.3 342,313.3 342.7,313.4 343.3,313.4 343.9,313.4 344.6,313.4 345.2,313.6 345.8,313.7 346.5,313.7 347.1,313.8 347.7,313.8 348.4,313.7 349,313.7 349.6,313.7 350.3,313.7 350.9,313.7 351.6,313.5 352.2,313.1 352.8,312.9 353.5,313.2 354.1,314.8 354.7,316.7 355.4,318.2 356,319.5 356.6,320.5 357.3,321.2 357.9,322.1 358.5,322.8 359.2,323.6 359.8,324.5 360.4,323.5 361.1,322.6 361.7,322.1 362.3,321.1 363,320.5 363.6,319.5 364.2,318.5 364.9,316.7 365.5,314.7 366.1,313.1 366.8,312.9 367.4,313.3 368,313.7 368.7,313.9 369.3,314 370,314 370.6,314 371.2,314 371.9,313.9 372.5,313.8 373.1,313.8 373.8,313.8 374.4,313.7 375,313.7 375.7,313.7 376.3,313.8 376.9,313.6 377.6,313.5 378.2,313.4 378.8,313.4 379.5,313.4 380.1,313.2 380.7,313.1 381.4,312.9 382,312.6 382.6,312.3 383.3,312 383.9,311.5 384.5,310.9 385.2,309.9 385.8,308.5 386.4,307 387.1,306.6 387.7,307.7 388.3,308.9 389,310 389.6,311 390.3,311.7 390.9,312.1 391.5,312.4 392.2,312.6 392.8,312.8 393.4,312.8 394.1,312.9 394.7,312.9 395.3,312.9 396,313 396.6,312.9 397.2,312.8 397.9,312.9 398.5,312.7 399.1,312.8 399.8,312.8 400.4,312.9 401,313 401.7,313 402.3,312.9 402.9,312.9 403.6,312.9 404.2,312.8 404.8,312.7 405.5,312.7 406.1,312.7 406.7,312.6 407.4,312.7 408,312.7 408.6,312.6 409.3,312.6 409.9,312.4 410.6,312.3 411.2,312.4 411.8,312.4 412.5,312.3 413.1,312.3 413.7,312.3 414.4,312.3 415,312.3 415.6,312.2 416.3,311.9 416.9,311.9 417.5,311.8 418.2,311.9 418.8,311.7 419.4,311.5 420.1,311.5 420.7,311.4 421.3,311.2 422,311.1 422.6,310.8 423.2,310.8 423.9,310.7 424.5,310.6 425.1,310.5 425.8,310.3 426.4,310.2 427,310 427.7,309.8 428.3,309.7 428.9,309.4 429.6,309.2 430.2,309 430.9,308.7 431.5,308.5 432.1,308.3 432.8,309.2 433.4,309.8 434,310.3 434.7,310.9 435.3,311.3 435.9,311.4 436.6,311.5 437.2,311.7 437.8,311.7 438.5,311.8 439.1,312.1 439.7,312 440.4,312 441,312.1 441.6,312.2 442.3,312 442.9,312.2 443.5,312 444.2,312 444.8,311.9 445.4,312 446.1,312 446.7,312.1 447.3,312 448,312.2 448.6,312.1 449.3,312.1 449.9,312 450.5,312 451.2,312 451.8,312.1 452.4,312 453.1,312 453.7,312 454.3,312.1 455,312" stroke="#3a78f4" stroke-width="1.1" fill="none" stroke-linejoin="round" />
<polyline points="264.6,304.4 265.3,304.3 265.9,304.3 266.5,304.3 267.2,304.3 267.8,304.4 268.4,304.3 269.1,304.4 269.7,304.4 270.3,304.5 271,304.5 271.6,304.6 272.3,304.5 272.9,304.3 273.5,304.5 274.2,304.4 274.8,304.4 275.4,304.4 276.1,304.4 276.7,304.4 277.3,304.4 278,304.5 278.6,304.3 279.2,304.3 279.9,304.3 280.5,304.4 281.1,304.4 281.8,304.4 282.4,304.4 283,304.4 283.7,304.4 284.3,304.2 284.9,304.2 285.6,304.1 286.2,304.1 286.8,304 287.5,304 288.1,303.5 288.7,303.4 289.4,303.2 290,302.8 290.7,302.4 291.3,301.9 291.9,300.9 292.6,300.7 293.2,301 293.8,301.3 294.5,301.5 295.1,301.7 295.7,302 296.4,302 297,302.1 297.6,302.3 298.3,302.5 298.9,302.7 299.5,302.9 300.2,303.2 300.8,303.2 301.4,303.5 302.1,303.6 302.7,303.6 303.3,303.5 304,303.7 304.6,303.8 305.2,303.9 305.9,304 306.5,304.1 307.1,304.1 307.8,304.1 308.4,304.2 309,304.3 309.7,304.3 310.3,304.3 311,304.6 311.6,304.7 312.2,304.7 312.9,304.7 313.5,304.8 314.1,304.9 314.8,305 315.4,305 316,304.9 316.7,304.9 317.3,305 317.9,305.1 318.6,305 319.2,305.1 319.8,305 320.5,305.1 321.1,305 321.7,305.2 322.4,305.3 323,305.2 323.6,305.2 324.3,305.1 324.9,305.3 325.5,305.3 326.2,305.2 326.8,305.2 327.4,305.3 328.1,305 328.7,304.8 329.3,304.7 330,304.4 330.6,304.1 331.3,303.6 331.9,302.6 332.5,301.6 333.2,300.1 333.8,299.7 334.4,300.4 335.1,301.7 335.7,302.8 336.3,303.6 337,304.2 337.6,304.8 338.2,305.1 338.9,305.2 339.5,305.4 340.1,305.5 340.8,305.6 341.4,305.6 342,305.6 342.7,305.6 343.3,305.7 343.9,305.8 344.6,305.8 345.2,305.7 345.8,305.9 346.5,305.8 347.1,306 347.7,306.1 348.4,306 349,306.1 349.6,306.2 350.3,306.2 350.9,306.1 351.6,306 352.2,305.7 352.8,305.5 353.5,305.8 354.1,307 354.7,308.7 355.4,309.9 356,310.8 356.6,311.8 357.3,312.6 357.9,313.3 358.5,314.1 359.2,314.8 359.8,315.8 360.4,314.8 361.1,314 361.7,313.1 362.3,312.4 363,311.8 363.6,311.1 364.2,310.1 364.9,308.9 365.5,307 366.1,305.8 366.8,305.6 367.4,305.8 368,306.2 368.7,306.2 369.3,306.3 370,306.3 370.6,306.2 371.2,306 371.9,306.1 372.5,305.9 373.1,305.9 373.8,305.8 374.4,306 375,306 375.7,305.8 376.3,305.8 376.9,305.7 377.6,305.6 378.2,305.5 378.8,305.5 379.5,305.4 380.1,305.1 380.7,304.9 381.4,304.8 382,304.5 382.6,303.9 383.3,303.1 383.9,302.1 384.5,300.7 385.2,299.7 385.8,300 386.4,301.1 387.1,302.3 387.7,303.4 388.3,303.8 389,304.4 389.6,304.6 390.3,304.8 390.9,304.9 391.5,305.1 392.2,305.1 392.8,305.1 393.4,305.2 394.1,305.3 394.7,305.4 395.3,305.3 396,305.2 396.6,305.1 397.2,305.2 397.9,305.2 398.5,305.2 399.1,305.2 399.8,305.1 400.4,305 401,304.9 401.7,305.1 402.3,305.2 402.9,305.1 403.6,305 404.2,304.9 404.8,305 405.5,304.9 406.1,304.9 406.7,304.7 407.4,304.7 408,304.7 408.6,304.6 409.3,304.5 409.9,304.3 410.6,304.4 411.2,304.5 411.8,304.3 412.5,304.2 413.1,304 413.7,303.9 414.4,303.9 415,303.8 415.6,303.8 416.3,303.6 416.9,303.5 417.5,303.4 418.2,303.2 418.8,303 419.4,302.9 420.1,302.8 420.7,302.6 421.3,302.7 422,302.4 422.6,302.2 423.2,302.1 423.9,301.9 424.5,301.8 425.1,301.6 425.8,301.3 426.4,301.2 427,300.9 427.7,300.7 428.3,301.8 428.9,302.5 429.6,303 430.2,303.3 430.9,303.4 431.5,303.6 432.1,303.8 432.8,304 433.4,304.1 434,304.3 434.7,304.4 435.3,304.4 435.9,304.4 436.6,304.4 437.2,304.3 437.8,304.2 438.5,304.4 439.1,304.2 439.7,304.3 440.4,304.3 441,304.2 441.6,304.3 442.3,304.2 442.9,304.4 443.5,304.5 444.2,304.5 444.8,304.3 445.4,304.3 446.1,304.4 446.7,304.3 447.3,304.4 448,304.6 448.6,304.5 449.3,304.5 449.9,304.4 450.5,304.6 451.2,304.5 451.8,304.4 452.4,304.3 453.1,304.4 453.7,304.4 454.3,304.5 455,304.5" stroke="#3890f4" stroke-width="1.1" fill="none" stroke-linejoin="round" />
<polyline points="264.6,297.2 265.3,297.4 265.9,297.2 266.5,297.3 267.2,297.2 267.8,297.3 268.4,297.3 269.1,297.1 269.7,297.2 270.3,297.1 271,297.2 271.6,297.2 272.3,297.2 272.9,297.2 273.5,297.2 274.2,297.3 274.8,297.2 275.4,297.1 276.1,297 276.7,297 277.3,297.1 278,297.1 278.6,297 279.2,297 279.9,297 280.5,297.1 281.1,297 281.8,297.1 282.4,297.2 283,297.3 283.7,297.2 284.3,297.2 284.9,297 285.6,297 286.2,297 286.8,297 287.5,297 288.1,297 288.7,296.9 289.4,296.8 290,296.8 290.7,296.7 291.3,296.7 291.9,296.6 292.6,296.4 293.2,296 293.8,295.6 294.5,295.1 295.1,294.4 295.7,293.4 296.4,293.6 297,293.9 297.6,293.9 298.3,293.9 298.9,294.2 299.5,294.6 300.2,294.7 300.8,294.8 301.4,294.9 302.1,295.1 302.7,295.4 303.3,295.6 304,295.6 304.6,295.9 305.2,296 305.9,295.9 306.5,296.1 307.1,296.2 307.8,296.4 308.4,296.4 309,296.5 309.7,296.5 310.3,296.7 311,296.7 311.6,296.9 312.2,297 312.9,297 313.5,297.3 314.1,297.3 314.8,297.3 315.4,297.4 316,297.5 316.7,297.5 317.3,297.5 317.9,297.5 318.6,297.5 319.2,297.4 319.8,297.5 320.5,297.6 321.1,297.6 321.7,297.6 322.4,297.7 323,297.7 323.6,297.8 324.3,297.9 324.9,297.7 325.5,297.8 326.2,297.8 326.8,297.9 327.4,297.7 328.1,297.7 328.7,297.6 329.3,297.5 330,297.3 330.6,297.3 331.3,297.1 331.9,296.6 332.5,296 333.2,295.3 333.8,294.2 334.4,292.9 335.1,292.5 335.7,293.2 336.3,294.5 337,295.7 337.6,296.5 338.2,296.9 338.9,297.3 339.5,297.8 340.1,298.1 340.8,298.1 341.4,298.3 342,298.2 342.7,298.3 343.3,298.4 343.9,298.4 344.6,298.6 345.2,298.7 345.8,298.7 346.5,298.7 347.1,298.8 347.7,298.9 348.4,298.9 349,298.8 349.6,298.9 350.3,299 350.9,299 351.6,298.9 352.2,298.8 352.8,298.6 353.5,298.8 354.1,299.8 354.7,300.9 355.4,302 356,303 356.6,303.8 357.3,304.3 357.9,305 358.5,305.8 359.2,306.6 359.8,307.5 360.4,306.5 361.1,305.8 361.7,305 362.3,304.3 363,303.7 363.6,303 364.2,302 364.9,300.9 365.5,299.8 366.1,298.9 366.8,298.8 367.4,299 368,299.1 368.7,299.1 369.3,299.1 370,299 370.6,298.9 371.2,298.8 371.9,298.7 372.5,298.8 373.1,298.7 373.8,298.5 374.4,298.5 375,298.3 375.7,298.3 376.3,298.3 376.9,298.4 377.6,298.2 378.2,298.1 378.8,298.1 379.5,297.7 380.1,297.5 380.7,297 381.4,296.5 382,295.8 382.6,294.8 383.3,293.4 383.9,292.5 384.5,292.7 385.2,293.8 385.8,295 386.4,296 387.1,296.5 387.7,296.9 388.3,297.3 389,297.4 389.6,297.6 390.3,297.6 390.9,297.8 391.5,298 392.2,298.1 392.8,298 393.4,297.9 394.1,297.9 394.7,297.7 395.3,297.7 396,297.7 396.6,297.6 397.2,297.8 397.9,297.9 398.5,297.8 399.1,297.9 399.8,297.7 400.4,297.6 401,297.6 401.7,297.5 402.3,297.5 402.9,297.3 403.6,297.4 404.2,297.4 404.8,297.4 405.5,297.3 406.1,297.2 406.7,297.2 407.4,297.1 408,296.9 408.6,296.9 409.3,296.8 409.9,296.7 410.6,296.5 411.2,296.6 411.8,296.4 412.5,296.4 413.1,296.2 413.7,296.1 414.4,296 415,295.8 415.6,295.6 416.3,295.5 416.9,295.5 417.5,295.3 418.2,295.2 418.8,295 419.4,294.9 420.1,294.8 420.7,294.5 421.3,294.2 422,293.8 422.6,293.6 423.2,293.5 423.9,293.6 424.5,294.5 425.1,295.1 425.8,295.7 426.4,296.1 427,296.3 427.7,296.5 428.3,296.7 428.9,296.7 429.6,296.9 430.2,296.8 430.9,297.1 431.5,297.2 432.1,297.1 432.8,297 433.4,296.9 434,297.2 434.7,297.1 435.3,297.2 435.9,297 436.6,297 437.2,297 437.8,296.9 438.5,297.1 439.1,297 439.7,296.9 440.4,297 441,297 441.6,296.9 442.3,297 442.9,297.1 443.5,297 444.2,297.2 444.8,297.2 445.4,297.2 446.1,297.3 446.7,297.3 447.3,297.3 448,297.4 448.6,297.4 449.3,296.9 449.9,297 450.5,297.2 451.2,297.2 451.8,297.1 452.4,297 453.1,297.1 453.7,297.2 454.3,297.3 455,297.3" stroke="#38a4f0" stroke-width="1.1" fill="none" stroke-linejoin="round" />
<polyline points="264.6,290.3 265.3,290.3 265.9,290.4 266.5,290.5 267.2,290.5 267.8,290.5 268.4,290.5 269.1,290.3 269.7,290.4 270.3,290.5 271,290.5 271.6,290.4 272.3,290.3 272.9,290.3 273.5,290.3 274.2,290.2 274.8,290.4 275.4,290.4 276.1,290.3 276.7,290.3 277.3,290.3 278,290.3 278.6,290.5 279.2,290.3 279.9,290.4 280.5,290.3 281.1,290.3 281.8,290.3 282.4,290.2 283,290.3 283.7,290.3 284.3,290.3 284.9,290.2 285.6,290.3 286.2,290.3 286.8,290.3 287.5,290.2 288.1,290.3 288.7,290.3 289.4,290.2 290,290.2 290.7,290.1 291.3,290 291.9,290.1 292.6,290.1 293.2,290.1 293.8,290.1 294.5,290 295.1,289.8 295.7,289.7 296.4,289.5 297,289.3 297.6,289.1 298.3,288.5 298.9,287.9 299.5,287.1 300.2,286.6 300.8,286.8 301.4,287 302.1,287.2 302.7,287.6 303.3,287.7 304,287.9 304.6,288.1 305.2,288.3 305.9,288.4 306.5,288.5 307.1,288.8 307.8,288.9 308.4,289 309,289.1 309.7,289.2 310.3,289.2 311,289.5 311.6,289.5 312.2,289.7 312.9,289.9 313.5,289.9 314.1,290 314.8,290 315.4,290.1 316,290.2 316.7,290.2 317.3,290.4 317.9,290.3 318.6,290.4 319.2,290.5 319.8,290.5 320.5,290.6 321.1,290.6 321.7,290.7 322.4,290.6 323,290.6 323.6,290.7 324.3,290.7 324.9,290.8 325.5,290.9 326.2,290.9 326.8,291 327.4,291.1 328.1,291.1 328.7,291 329.3,290.8 330,290.8 330.6,291 331.3,290.9 331.9,290.8 332.5,290.6 333.2,290.2 333.8,290 334.4,289.5 335.1,288.6 335.7,287.6 336.3,287 337,287.1 337.6,288.2 338.2,289.2 338.9,289.9 339.5,290.5 340.1,291.1 340.8,291.4 341.4,291.5 342,291.9 342.7,291.8 343.3,291.9 343.9,292 344.6,292.3 345.2,292.4 345.8,292.6 346.5,292.6 347.1,292.6 347.7,292.8 348.4,293 349,293 349.6,293.3 350.3,293.5 350.9,293.7 351.6,293.6 352.2,293.4 352.8,293.4 353.5,293.5 354.1,294 354.7,294.8 355.4,295.4 356,296 356.6,296.8 357.3,297.2 357.9,297.7 358.5,298.2 359.2,298.8 359.8,299.7 360.4,298.9 361.1,298.2 361.7,297.7 362.3,297 363,296.2 363.6,295.5 364.2,295 364.9,294.3 365.5,293.8 366.1,293.3 366.8,293.1 367.4,293.2 368,293.2 368.7,293.2 369.3,293.2 370,292.9 370.6,292.9 371.2,292.6 371.9,292.6 372.5,292.5 373.1,292.4 373.8,292.1 374.4,292 375,291.9 375.7,291.8 376.3,291.6 376.9,291.6 377.6,291.6 378.2,291.4 378.8,290.8 379.5,290.5 380.1,290 380.7,289.2 381.4,288.2 382,287.1 382.6,286.7 383.3,287.4 383.9,288.3 384.5,289.3 385.2,289.8 385.8,290 386.4,290.3 387.1,290.5 387.7,290.8 388.3,290.9 389,291.1 389.6,291 390.3,291.1 390.9,291.1 391.5,291.1 392.2,291 392.8,291 393.4,290.9 394.1,291 394.7,290.9 395.3,290.9 396,290.8 396.6,290.9 397.2,290.7 397.9,290.6 398.5,290.6 399.1,290.6 399.8,290.5 400.4,290.4 401,290.4 401.7,290.4 402.3,290.5 402.9,290.3 403.6,290.3 404.2,290.1 404.8,290.1 405.5,290 406.1,289.8 406.7,289.8 407.4,289.6 408,289.5 408.6,289.4 409.3,289.3 409.9,289.1 410.6,289 411.2,289 411.8,288.7 412.5,288.5 413.1,288.5 413.7,288.4 414.4,288.2 415,288.1 415.6,288.1 416.3,287.9 416.9,287.6 417.5,287.4 418.2,287.2 418.8,286.9 419.4,286.6 420.1,287.2 420.7,287.8 421.3,288.5 422,288.9 422.6,289.3 423.2,289.5 423.9,289.7 424.5,289.9 425.1,290 425.8,290 426.4,290.1 427,290.2 427.7,290.3 428.3,290.4 428.9,290.4 429.6,290.4 430.2,290.4 430.9,290.4 431.5,290.2 432.1,290.3 432.8,290.2 433.4,290.2 434,290.3 434.7,290.2 435.3,290.2 435.9,290.2 436.6,290.2 437.2,290.4 437.8,290.3 438.5,290.2 439.1,290.4 439.7,290.4 440.4,290.3 441,290.1 441.6,290.1 442.3,290.1 442.9,290.2 443.5,290.2 444.2,290.2 444.8,290.3 445.4,290.3 446.1,290.1 446.7,290.4 447.3,290.4 448,290.2 448.6,290.2 449.3,290.3 449.9,290.2 450.5,290.2 451.2,290.3 451.8,290.1 452.4,290.2 453.1,290.2 453.7,290.2 454.3,290.4 455,290.4" stroke="#30b8dc" stroke-width="1.1" fill="none" stroke-linejoin="round" />
<polyline points="264.6,283.5 265.3,283.5 265.9,283.5 266.5,283.6 267.2,283.4 267.8,283.4 268.4,283.3 269.1,283.4 269.7,283.4 270.3,283.5 271,283.5 271.6,283.4 272.3,283.5 272.9,283.5 273.5,283.6 274.2,283.6 274.8,283.5 275.4,283.5 276.1,283.5 276.7,283.3 277.3,283.5 278,283.5 278.6,283.4 279.2,283.4 279.9,283.4 280.5,283.4 281.1,283.4 281.8,283.6 282.4,283.6 283,283.6 283.7,283.7 284.3,283.7 284.9,283.7 285.6,283.6 286.2,283.6 286.8,283.4 287.5,283.3 288.1,283.5 288.7,283.5 289.4,283.6 290,283.5 290.7,283.5 291.3,283.4 291.9,283.5 292.6,283.4 293.2,283.4 293.8,283.5 294.5,283.4 295.1,283.5 295.7,283.6 296.4,283.3 297,283.3 297.6,283.3 298.3,283.2 298.9,283.2 299.5,283 300.2,282.9 300.8,282.7 301.4,282.5 302.1,282 302.7,281.6 303.3,281 304,280.1 304.6,279.9 305.2,280 305.9,280.2 306.5,280.4 307.1,280.6 307.8,280.7 308.4,280.9 309,281.1 309.7,281.2 310.3,281.5 311,281.8 311.6,281.9 312.2,282 312.9,282.2 313.5,282.4 314.1,282.5 314.8,282.5 315.4,282.7 316,282.9 316.7,282.9 317.3,283 317.9,283.2 318.6,283.3 319.2,283.4 319.8,283.3 320.5,283.4 321.1,283.6 321.7,283.6 322.4,283.5 323,283.6 323.6,283.8 324.3,283.7 324.9,283.9 325.5,283.9 326.2,284 326.8,283.9 327.4,284 328.1,284 328.7,284 329.3,284.1 330,284.1 330.6,284.1 331.3,284.1 331.9,284.1 332.5,284.1 333.2,284.1 333.8,284.1 334.4,284 335.1,283.8 335.7,283.5 336.3,283.2 337,282.8 337.6,281.9 338.2,280.9 338.9,280.1 339.5,280.4 340.1,281.4 340.8,282.4 341.4,283.1 342,283.6 342.7,284.2 343.3,284.6 343.9,285.1 344.6,285.2 345.2,285.4 345.8,285.5 346.5,285.6 347.1,285.6 347.7,285.8 348.4,286.1 349,286.3 349.6,286.4 350.3,286.6 350.9,286.7 351.6,286.9 352.2,287 352.8,287 353.5,287.1 354.1,287.4 354.7,288 355.4,288.5 356,289.1 356.6,289.7 357.3,290.3 357.9,290.9 358.5,291.5 359.2,292.2 359.8,292.7 360.4,292 361.1,291.4 361.7,290.7 362.3,290 363,289.3 363.6,288.9 364.2,288.4 364.9,287.7 365.5,287.3 366.1,286.8 366.8,286.8 367.4,286.7 368,286.6 368.7,286.5 369.3,286.4 370,286.2 370.6,286.2 371.2,285.9 371.9,285.7 372.5,285.4 373.1,285.4 373.8,285.1 374.4,285 375,284.8 375.7,284.4 376.3,284.1 376.9,283.8 377.6,283.3 378.2,282.6 378.8,281.5 379.5,280.3 380.1,279.8 380.7,280.2 381.4,281.2 382,282.2 382.6,282.8 383.3,283.3 383.9,283.7 384.5,284 385.2,284.1 385.8,284.2 386.4,284.2 387.1,284.2 387.7,284.1 388.3,284.2 389,284.3 389.6,284.2 390.3,284.2 390.9,284.1 391.5,284.2 392.2,284.1 392.8,284.1 393.4,283.9 394.1,283.8 394.7,283.8 395.3,283.7 396,283.7 396.6,283.5 397.2,283.6 397.9,283.5 398.5,283.5 399.1,283.2 399.8,283.2 400.4,283.2 401,283 401.7,283.1 402.3,283.1 402.9,283 403.6,282.8 404.2,282.7 404.8,282.5 405.5,282.4 406.1,282.2 406.7,282.1 407.4,282 408,281.8 408.6,281.8 409.3,281.5 409.9,281.4 410.6,281.3 411.2,281.2 411.8,281 412.5,280.7 413.1,280.6 413.7,280.3 414.4,280.2 415,279.8 415.6,280.2 416.3,281 416.9,281.6 417.5,282.1 418.2,282.4 418.8,282.7 419.4,282.9 420.1,283.1 420.7,283.1 421.3,283.2 422,283.2 422.6,283.2 423.2,283.4 423.9,283.5 424.5,283.5 425.1,283.5 425.8,283.4 426.4,283.5 427,283.5 427.7,283.4 428.3,283.5 428.9,283.4 429.6,283.5 430.2,283.5 430.9,283.5 431.5,283.4 432.1,283.4 432.8,283.4 433.4,283.5 434,283.5 434.7,283.4 435.3,283.7 435.9,283.5 436.6,283.5 437.2,283.5 437.8,283.5 438.5,283.5 439.1,283.5 439.7,283.5 440.4,283.5 441,283.6 441.6,283.6 442.3,283.5 442.9,283.5 443.5,283.4 444.2,283.4 444.8,283.4 445.4,283.4 446.1,283.5 446.7,283.4 447.3,283.5 448,283.3 448.6,283.3 449.3,283.4 449.9,283.5 450.5,283.5 451.2,283.5 451.8,283.6 452.4,283.5 453.1,283.6 453.7,283.6 454.3,283.7 455,283.6" stroke="#30c4c4" stroke-width="1.1" fill="none" stroke-linejoin="round" />
<polyline points="264.6,276.5 265.3,276.5 265.9,276.6 266.5,276.6 267.2,276.6 267.8,276.6 268.4,276.5 269.1,276.4 269.7,276.5 270.3,276.6 271,276.5 271.6,276.6 272.3,276.5 272.9,276.4 273.5,276.4 274.2,276.4 274.8,276.5 275.4,276.4 276.1,276.4 276.7,276.4 277.3,276.4 278,276.6 278.6,276.6 279.2,276.4 279.9,276.4 280.5,276.5 281.1,276.7 281.8,276.5 282.4,276.5 283,276.4 283.7,276.4 284.3,276.4 284.9,276.5 285.6,276.6 286.2,276.6 286.8,276.6 287.5,276.5 288.1,276.4 288.7,276.5 289.4,276.5 290,276.4 290.7,276.4 291.3,276.4 291.9,276.3 292.6,276.3 293.2,276.3 293.8,276.2 294.5,276.4 295.1,276.5 295.7,276.3 296.4,276.2 297,276.3 297.6,276.3 298.3,276.1 298.9,275.9 299.5,275.8 300.2,275.9 300.8,275.9 301.4,275.9 302.1,275.9 302.7,275.7 303.3,275.6 304,275.3 304.6,275.1 305.2,275.1 305.9,274.8 306.5,274.5 307.1,274.2 307.8,274.1 308.4,273.6 309,273.2 309.7,272.7 310.3,272.7 311,272.9 311.6,273.3 312.2,273.4 312.9,273.7 313.5,274 314.1,274.1 314.8,274.3 315.4,274.4 316,274.7 316.7,274.8 317.3,275 317.9,275.1 318.6,275.3 319.2,275.5 319.8,275.5 320.5,275.5 321.1,275.7 321.7,275.8 322.4,275.8 323,276 323.6,276.1 324.3,276.1 324.9,276.2 325.5,276.3 326.2,276.4 326.8,276.5 327.4,276.7 328.1,276.8 328.7,276.8 329.3,276.9 330,277 330.6,276.9 331.3,277 331.9,276.8 332.5,276.9 333.2,277.1 333.8,277 334.4,277.1 335.1,277.3 335.7,277.2 336.3,277.1 337,277.1 337.6,276.9 338.2,276.8 338.9,276.3 339.5,275.7 340.1,275 340.8,274.3 341.4,274.1 342,274.7 342.7,275.7 343.3,276.4 343.9,277 344.6,277.3 345.2,277.7 345.8,277.9 346.5,278.2 347.1,278.6 347.7,278.8 348.4,278.8 349,279.1 349.6,279.2 350.3,279.3 350.9,279.4 351.6,279.6 352.2,279.6 352.8,279.8 353.5,280 354.1,280.5 354.7,281.1 355.4,281.6 356,282.2 356.6,282.8 357.3,283.3 357.9,283.9 358.5,284.5 359.2,285.1 359.8,285.8 360.4,285 361.1,284.4 361.7,283.8 362.3,283 363,282.2 363.6,282 364.2,281.4 364.9,280.8 365.5,280.1 366.1,279.7 366.8,279.5 367.4,279.5 368,279.4 368.7,279.3 369.3,279.1 370,279 370.6,278.9 371.2,278.5 371.9,278.4 372.5,278.3 373.1,278 373.8,277.6 374.4,277.4 375,277 375.7,276.4 376.3,275.7 376.9,274.9 377.6,274 378.2,274 378.8,274.8 379.5,275.7 380.1,276.1 380.7,276.6 381.4,276.8 382,276.9 382.6,276.9 383.3,276.9 383.9,277 384.5,277.1 385.2,277.1 385.8,277.2 386.4,277.2 387.1,277.1 387.7,277 388.3,276.8 389,276.8 389.6,276.7 390.3,276.7 390.9,276.7 391.5,276.6 392.2,276.5 392.8,276.4 393.4,276.3 394.1,276.2 394.7,276.3 395.3,276.2 396,275.9 396.6,275.9 397.2,275.8 397.9,275.6 398.5,275.4 399.1,275.4 399.8,275.3 400.4,275.2 401,275.1 401.7,275.1 402.3,275 402.9,274.8 403.6,274.7 404.2,274.5 404.8,274.2 405.5,274.3 406.1,274.1 406.7,273.7 407.4,273.4 408,273.1 408.6,273 409.3,272.9 409.9,272.8 410.6,273.3 411.2,273.6 411.8,274.1 412.5,274.3 413.1,274.7 413.7,274.8 414.4,275 415,275.2 415.6,275.2 416.3,275.5 416.9,275.5 417.5,275.7 418.2,275.9 418.8,276 419.4,276.2 420.1,276.2 420.7,276.2 421.3,276.1 422,276.2 422.6,276.2 423.2,276.3 423.9,276.3 424.5,276.3 425.1,276.3 425.8,276.4 426.4,276.3 427,276.5 427.7,276.3 428.3,276.3 428.9,276.3 429.6,276.4 430.2,276.5 430.9,276.4 431.5,276.6 432.1,276.6 432.8,276.6 433.4,276.5 434,276.3 434.7,276.4 435.3,276.6 435.9,276.5 436.6,276.5 437.2,276.7 437.8,276.6 438.5,276.7 439.1,276.8 439.7,276.7 440.4,276.5 441,276.4 441.6,276.5 442.3,276.4 442.9,276.4 443.5,276.2 444.2,276.3 444.8,276.4 445.4,276.4 446.1,276.4 446.7,276.4 447.3,276.4 448,276.5 448.6,276.5 449.3,276.7 449.9,276.7 450.5,276.6 451.2,276.5 451.8,276.7 452.4,276.4 453.1,276.3 453.7,276.4 454.3,276.3 455,276.5" stroke="#30c8a8" stroke-width="1.1" fill="none" stroke-linejoin="round" />
<polyline points="264.6,269.5 265.3,269.4 265.9,269.5 266.5,269.5 267.2,269.6 267.8,269.5 268.4,269.5 269.1,269.4 269.7,269.6 270.3,269.5 271,269.5 271.6,269.6 272.3,269.5 272.9,269.6 273.5,269.7 274.2,269.6 274.8,269.7 275.4,269.7 276.1,269.6 276.7,269.7 277.3,269.6 278,269.6 278.6,269.7 279.2,269.8 279.9,269.7 280.5,269.7 281.1,269.6 281.8,269.6 282.4,269.5 283,269.5 283.7,269.4 284.3,269.2 284.9,269.4 285.6,269.3 286.2,269.5 286.8,269.6 287.5,269.5 288.1,269.5 288.7,269.5 289.4,269.5 290,269.5 290.7,269.4 291.3,269.3 291.9,269.2 292.6,269.3 293.2,269.5 293.8,269.4 294.5,269.3 295.1,269.3 295.7,269.3 296.4,269.3 297,269.5 297.6,269.4 298.3,269.4 298.9,269.5 299.5,269.4 300.2,269.5 300.8,269.5 301.4,269.5 302.1,269.3 302.7,269.2 303.3,269.3 304,269.2 304.6,269 305.2,269 305.9,268.9 306.5,268.8 307.1,268.6 307.8,268.7 308.4,268.7 309,268.6 309.7,268.5 310.3,268.4 311,268.1 311.6,268 312.2,267.7 312.9,267.5 313.5,267.2 314.1,266.8 314.8,266.5 315.4,266.3 316,265.8 316.7,266.1 317.3,266.4 317.9,266.8 318.6,266.9 319.2,267.2 319.8,267.6 320.5,267.8 321.1,268.1 321.7,268.1 322.4,268.3 323,268.4 323.6,268.6 324.3,268.6 324.9,268.8 325.5,268.9 326.2,269 326.8,269.2 327.4,269.5 328.1,269.5 328.7,269.7 329.3,269.9 330,269.9 330.6,270 331.3,270 331.9,270.1 332.5,270.1 333.2,270.1 333.8,270.3 334.4,270.4 335.1,270.4 335.7,270.4 336.3,270.5 337,270.5 337.6,270.4 338.2,270.5 338.9,270.5 339.5,270.4 340.1,270.4 340.8,270.2 341.4,269.8 342,269.5 342.7,268.7 343.3,268 343.9,267.7 344.6,268.2 345.2,269 345.8,269.9 346.5,270.7 347.1,271 347.7,271.5 348.4,271.8 349,272 349.6,272.1 350.3,272.3 350.9,272.5 351.6,272.7 352.2,272.9 352.8,273 353.5,273 354.1,273.4 354.7,274 355.4,274.6 356,275.2 356.6,275.8 357.3,276.3 357.9,277 358.5,277.5 359.2,278.1 359.8,278.9 360.4,278.1 361.1,277.4 361.7,276.7 362.3,276.2 363,275.7 363.6,275 364.2,274.3 364.9,273.8 365.5,273.1 366.1,272.8 366.8,272.5 367.4,272.4 368,272.4 368.7,272.2 369.3,272.1 370,271.9 370.6,271.8 371.2,271.5 371.9,271.3 372.5,270.7 373.1,270.2 373.8,269.5 374.4,268.5 375,267.6 375.7,267.5 376.3,267.9 376.9,268.7 377.6,269.3 378.2,269.9 378.8,270.2 379.5,270.3 380.1,270.5 380.7,270.5 381.4,270.5 382,270.4 382.6,270.4 383.3,270.4 383.9,270.2 384.5,270.3 385.2,270.2 385.8,270.2 386.4,270.2 387.1,270.1 387.7,269.9 388.3,269.8 389,269.7 389.6,269.7 390.3,269.7 390.9,269.7 391.5,269.5 392.2,269.3 392.8,269.2 393.4,269.2 394.1,269 394.7,269 395.3,269 396,268.8 396.6,268.6 397.2,268.4 397.9,268.2 398.5,267.9 399.1,267.6 399.8,267.4 400.4,267.2 401,267 401.7,266.6 402.3,266.2 402.9,265.9 403.6,265.8 404.2,266.3 404.8,266.7 405.5,267.2 406.1,267.4 406.7,267.8 407.4,267.9 408,268.1 408.6,268.3 409.3,268.5 409.9,268.6 410.6,268.9 411.2,268.8 411.8,269 412.5,268.9 413.1,269 413.7,269 414.4,268.9 415,269.2 415.6,269.4 416.3,269.3 416.9,269.3 417.5,269.4 418.2,269.3 418.8,269.2 419.4,269.1 420.1,269.2 420.7,269.5 421.3,269.5 422,269.4 422.6,269.4 423.2,269.4 423.9,269.4 424.5,269.2 425.1,269.4 425.8,269.4 426.4,269.6 427,269.7 427.7,269.6 428.3,269.6 428.9,269.5 429.6,269.5 430.2,269.4 430.9,269.4 431.5,269.5 432.1,269.5 432.8,269.4 433.4,269.5 434,269.4 434.7,269.6 435.3,269.6 435.9,269.6 436.6,269.5 437.2,269.5 437.8,269.5 438.5,269.5 439.1,269.4 439.7,269.6 440.4,269.6 441,269.5 441.6,269.5 442.3,269.5 442.9,269.5 443.5,269.3 444.2,269.3 444.8,269.3 445.4,269.4 446.1,269.5 446.7,269.4 447.3,269.4 448,269.5 448.6,269.5 449.3,269.5 449.9,269.5 450.5,269.5 451.2,269.4 451.8,269.4 452.4,269.4 453.1,269.4 453.7,269.4 454.3,269.4 455,269.6" stroke="#30c890" stroke-width="1.1" fill="none" stroke-linejoin="round" />
<polyline points="264.6,262.7 265.3,262.7 265.9,262.7 266.5,262.8 267.2,262.9 267.8,262.9 268.4,262.9 269.1,262.9 269.7,262.9 270.3,262.9 271,262.8 271.6,262.7 272.3,262.9 272.9,262.9 273.5,262.8 274.2,262.9 274.8,262.9 275.4,263 276.1,263 276.7,263 277.3,263 278,263 278.6,262.9 279.2,262.9 279.9,262.9 280.5,262.7 281.1,262.8 281.8,262.9 282.4,262.8 283,262.9 283.7,263 284.3,263 284.9,263.1 285.6,263 286.2,263 286.8,262.9 287.5,263 288.1,262.9 288.7,263 289.4,263 290,263.1 290.7,263.1 291.3,262.9 291.9,262.9 292.6,263 293.2,263 293.8,262.8 294.5,262.9 295.1,262.9 295.7,263 296.4,262.8 297,262.9 297.6,262.9 298.3,262.9 298.9,262.9 299.5,263 300.2,263 300.8,262.9 301.4,262.8 302.1,262.7 302.7,262.7 303.3,262.6 304,262.7 304.6,262.5 305.2,262.5 305.9,262.6 306.5,262.5 307.1,262.5 307.8,262.7 308.4,262.8 309,262.6 309.7,262.5 310.3,262.6 311,262.4 311.6,262.3 312.2,262.3 312.9,262.2 313.5,262.2 314.1,262 314.8,261.9 315.4,261.6 316,261.5 316.7,261.3 317.3,261.3 317.9,261 318.6,260.7 319.2,260.3 319.8,260.2 320.5,259.8 321.1,259.2 321.7,259.7 322.4,259.8 323,260.1 323.6,260.4 324.3,260.6 324.9,261 325.5,261.1 326.2,261.5 326.8,261.8 327.4,262.1 328.1,262.2 328.7,262.2 329.3,262.4 330,262.5 330.6,262.6 331.3,262.7 331.9,262.8 332.5,262.9 333.2,263.2 333.8,263.3 334.4,263.3 335.1,263.5 335.7,263.6 336.3,263.6 337,263.8 337.6,263.9 338.2,264.1 338.9,264 339.5,264.2 340.1,264.1 340.8,264.1 341.4,264.1 342,264.1 342.7,264.1 343.3,263.7 343.9,263.6 344.6,263.3 345.2,262.8 345.8,262.3 346.5,262.3 347.1,262.7 347.7,263.7 348.4,264.3 349,264.7 349.6,265.1 350.3,265.4 350.9,265.6 351.6,265.8 352.2,265.9 352.8,266 353.5,266.1 354.1,266.7 354.7,267.3 355.4,268 356,268.6 356.6,269.2 357.3,269.7 357.9,270.1 358.5,270.7 359.2,271.5 359.8,272.4 360.4,271.5 361.1,270.7 361.7,270.1 362.3,269.4 363,268.8 363.6,268.2 364.2,267.7 364.9,266.9 365.5,266.4 366.1,266 366.8,265.9 367.4,265.7 368,265.5 368.7,265.3 369.3,265.1 370,264.8 370.6,264.3 371.2,263.8 371.9,262.8 372.5,262.2 373.1,261.9 373.8,262.4 374.4,263 375,263.6 375.7,263.8 376.3,263.9 376.9,264 377.6,264.1 378.2,264.1 378.8,264.1 379.5,264 380.1,264 380.7,263.8 381.4,263.8 382,263.7 382.6,263.6 383.3,263.6 383.9,263.4 384.5,263.4 385.2,263.4 385.8,263.2 386.4,263 387.1,263 387.7,262.9 388.3,262.9 389,262.7 389.6,262.5 390.3,262.4 390.9,262.1 391.5,262 392.2,261.9 392.8,261.6 393.4,261.5 394.1,261.3 394.7,261 395.3,260.9 396,260.4 396.6,260.2 397.2,259.8 397.9,259.5 398.5,259.2 399.1,259.7 399.8,260 400.4,260.3 401,260.6 401.7,260.9 402.3,261 402.9,261.2 403.6,261.5 404.2,261.8 404.8,261.9 405.5,262 406.1,262.2 406.7,262.3 407.4,262.3 408,262.4 408.6,262.5 409.3,262.7 409.9,262.7 410.6,262.8 411.2,262.8 411.8,262.7 412.5,262.6 413.1,262.7 413.7,262.7 414.4,262.7 415,262.7 415.6,262.8 416.3,262.9 416.9,262.8 417.5,262.7 418.2,262.7 418.8,262.9 419.4,262.9 420.1,262.8 420.7,262.9 421.3,262.8 422,262.9 422.6,262.8 423.2,262.7 423.9,262.8 424.5,262.7 425.1,262.7 425.8,262.8 426.4,262.9 427,262.9 427.7,263 428.3,263 428.9,263 429.6,262.9 430.2,262.9 430.9,262.9 431.5,262.8 432.1,262.8 432.8,262.9 433.4,262.8 434,262.8 434.7,262.9 435.3,263 435.9,262.8 436.6,262.9 437.2,263 437.8,262.9 438.5,262.9 439.1,262.9 439.7,262.9 440.4,263.1 441,263.2 441.6,263.3 442.3,263.2 442.9,263 443.5,263 444.2,263.1 444.8,263.1 445.4,263 446.1,263 446.7,262.9 447.3,262.9 448,262.9 448.6,262.9 449.3,262.9 449.9,262.9 450.5,262.9 451.2,262.8 451.8,262.8 452.4,262.9 453.1,263 453.7,263 454.3,263 455,262.9" stroke="#30c870" stroke-width="1.1" fill="none" stroke-linejoin="round" />
<polyline points="264.6,254.3 265.3,254.4 265.9,254.5 266.5,254.4 267.2,254.4 267.8,254.4 268.4,254.3 269.1,254.3 269.7,254.3 270.3,254.2 271,254.3 271.6,254.4 272.3,254.4 272.9,254.4 273.5,254.4 274.2,254.4 274.8,254.3 275.4,254.4 276.1,254.3 276.7,254.3 277.3,254.3 278,254.4 278.6,254.2 279.2,254.4 279.9,254.3 280.5,254.3 281.1,254.4 281.8,254.4 282.4,254.3 283,254.2 283.7,254.4 284.3,254.3 284.9,254.4 285.6,254.4 286.2,254.2 286.8,254.3 287.5,254.3 288.1,254.3 288.7,254.4 289.4,254.4 290,254.3 290.7,254.2 291.3,254.2 291.9,254.3 292.6,254.4 293.2,254.3 293.8,254.4 294.5,254.4 295.1,254.3 295.7,254.3 296.4,254.3 297,254.3 297.6,254.3 298.3,254.3 298.9,254.5 299.5,254.5 300.2,254.4 300.8,254.3 301.4,254.2 302.1,254.3 302.7,254.3 303.3,254.4 304,254.3 304.6,254.4 305.2,254.3 305.9,254.3 306.5,254.2 307.1,254.3 307.8,254.4 308.4,254.1 309,254.1 309.7,254.1 310.3,254.2 311,254.2 311.6,254.1 312.2,254 312.9,253.9 313.5,253.9 314.1,254 314.8,253.9 315.4,253.8 316,253.7 316.7,253.6 317.3,253.6 317.9,253.5 318.6,253.5 319.2,253.3 319.8,253.1 320.5,253.1 321.1,253 321.7,252.7 322.4,252.3 323,252 323.6,251.6 324.3,251.3 324.9,250.9 325.5,250.6 326.2,250.8 326.8,251.2 327.4,251.5 328.1,251.8 328.7,252.1 329.3,252.3 330,252.5 330.6,252.6 331.3,252.8 331.9,253.2 332.5,253.3 333.2,253.6 333.8,253.7 334.4,253.8 335.1,253.8 335.7,254 336.3,254.2 337,254.4 337.6,254.7 338.2,254.9 338.9,254.9 339.5,254.9 340.1,255.1 340.8,255.2 341.4,255.2 342,255.4 342.7,255.5 343.3,255.4 343.9,255.5 344.6,255.5 345.2,255.4 345.8,255.3 346.5,255.2 347.1,254.9 347.7,254.4 348.4,254.1 349,254.3 349.6,254.8 350.3,255.6 350.9,256.4 351.6,257.1 352.2,257.4 352.8,257.6 353.5,258 354.1,258.3 354.7,258.9 355.4,259.5 356,260 356.6,260.6 357.3,261.2 357.9,261.7 358.5,262.3 359.2,262.8 359.8,263.6 360.4,262.9 361.1,262 361.7,261.4 362.3,260.8 363,260.2 363.6,259.8 364.2,259.2 364.9,258.5 365.5,258.1 366.1,257.7 366.8,257.4 367.4,257 368,256.8 368.7,256.2 369.3,255.3 370,254.4 370.6,253.7 371.2,253.8 371.9,254.2 372.5,254.8 373.1,255 373.8,255.2 374.4,255.4 375,255.4 375.7,255.4 376.3,255.3 376.9,255.1 377.6,255.1 378.2,255.1 378.8,255.1 379.5,255 380.1,254.9 380.7,254.7 381.4,254.6 382,254.6 382.6,254.4 383.3,254.3 383.9,254.2 384.5,254.1 385.2,253.9 385.8,253.8 386.4,253.7 387.1,253.5 387.7,253.3 388.3,253.1 389,253 389.6,252.6 390.3,252.4 390.9,252.3 391.5,252 392.2,251.7 392.8,251.4 393.4,250.9 394.1,250.5 394.7,250.8 395.3,251.4 396,251.8 396.6,252.1 397.2,252.3 397.9,252.5 398.5,252.7 399.1,252.7 399.8,253.1 400.4,253.2 401,253.4 401.7,253.6 402.3,253.7 402.9,253.7 403.6,253.8 404.2,254 404.8,253.9 405.5,254 406.1,254 406.7,254 407.4,254.1 408,254.1 408.6,254 409.3,254 409.9,254.1 410.6,254.1 411.2,254.1 411.8,254.1 412.5,254 413.1,254.2 413.7,254.3 414.4,254.3 415,254.2 415.6,254.3 416.3,254.2 416.9,254.3 417.5,254.4 418.2,254.4 418.8,254.3 419.4,254.3 420.1,254.3 420.7,254.2 421.3,254.3 422,254.4 422.6,254.4 423.2,254.4 423.9,254.5 424.5,254.5 425.1,254.4 425.8,254.3 426.4,254.3 427,254.3 427.7,254.3 428.3,254.4 428.9,254.4 429.6,254.7 430.2,254.6 430.9,254.5 431.5,254.5 432.1,254.4 432.8,254.3 433.4,254.3 434,254.3 434.7,254.3 435.3,254.5 435.9,254.3 436.6,254.1 437.2,254.2 437.8,254.3 438.5,254.3 439.1,254.3 439.7,254.3 440.4,254.3 441,254.4 441.6,254.4 442.3,254.4 442.9,254.2 443.5,254.3 444.2,254.3 444.8,254.4 445.4,254.3 446.1,254.4 446.7,254.3 447.3,254.2 448,254.3 448.6,254.3 449.3,254.4 449.9,254.4 450.5,254.5 451.2,254.4 451.8,254.4 452.4,254.4 453.1,254.4 453.7,254.4 454.3,254.2 455,254.3" stroke="#30c850" stroke-width="1.1" fill="none" stroke-linejoin="round" />
<polyline points="264.6,248.1 265.3,248.1 265.9,248.2 266.5,248.2 267.2,248.2 267.8,248.2 268.4,248.2 269.1,248.3 269.7,248.2 270.3,248.2 271,248.2 271.6,248.2 272.3,248 272.9,248 273.5,248.2 274.2,248.2 274.8,248.2 275.4,248.1 276.1,248.1 276.7,248.1 277.3,248 278,248.1 278.6,248.1 279.2,248.1 279.9,248.2 280.5,248.1 281.1,248.1 281.8,248.2 282.4,248.2 283,248.2 283.7,248.2 284.3,248.2 284.9,248.2 285.6,248.1 286.2,248 286.8,248.2 287.5,248.2 288.1,248.1 288.7,248.3 289.4,248.2 290,248.2 290.7,248.1 291.3,248.1 291.9,248 292.6,248.1 293.2,248 293.8,248.2 294.5,248.2 295.1,248.3 295.7,248.2 296.4,248.2 297,248.2 297.6,248.1 298.3,248 298.9,248 299.5,248.1 300.2,248.1 300.8,248.1 301.4,248 302.1,248.1 302.7,248 303.3,247.9 304,248 304.6,248.1 305.2,248.2 305.9,248.1 306.5,248.2 307.1,248.2 307.8,248.1 308.4,248.2 309,248.1 309.7,248 310.3,248.1 311,248.1 311.6,248.2 312.2,248.2 312.9,248.1 313.5,247.9 314.1,247.9 314.8,248.1 315.4,248 316,248 316.7,247.9 317.3,247.9 317.9,248 318.6,247.9 319.2,247.8 319.8,247.7 320.5,247.7 321.1,247.5 321.7,247.4 322.4,247.4 323,247.4 323.6,247.3 324.3,247.1 324.9,247 325.5,246.9 326.2,246.6 326.8,246.3 327.4,246.2 328.1,245.7 328.7,245.3 329.3,245 330,244.8 330.6,244.6 331.3,245 331.9,245.3 332.5,245.5 333.2,245.9 333.8,246.1 334.4,246.2 335.1,246.5 335.7,246.8 336.3,247.1 337,247.4 337.6,247.5 338.2,247.6 338.9,247.8 339.5,248 340.1,248.2 340.8,248.2 341.4,248.5 342,248.7 342.7,248.8 343.3,248.9 343.9,249.1 344.6,249.1 345.2,249.4 345.8,249.5 346.5,249.6 347.1,249.8 347.7,249.7 348.4,249.7 349,249.6 349.6,249.4 350.3,249.1 350.9,249.1 351.6,249.6 352.2,250.2 352.8,250.9 353.5,251.5 354.1,251.9 354.7,252.4 355.4,253 356,253.6 356.6,254.1 357.3,254.8 357.9,255.5 358.5,256 359.2,256.7 359.8,257.4 360.4,256.6 361.1,255.9 361.7,255.1 362.3,254.6 363,254 363.6,253.4 364.2,252.7 364.9,252.1 365.5,251.5 366.1,250.9 366.8,250.4 367.4,249.8 368,249.3 368.7,249.1 369.3,249.2 370,249.4 370.6,249.5 371.2,249.5 371.9,249.5 372.5,249.4 373.1,249.3 373.8,249.3 374.4,249.2 375,249.1 375.7,249.1 376.3,248.8 376.9,248.7 377.6,248.5 378.2,248.4 378.8,248.2 379.5,248 380.1,247.9 380.7,247.8 381.4,247.7 382,247.4 382.6,247.1 383.3,246.9 383.9,246.6 384.5,246.4 385.2,246.2 385.8,246.1 386.4,245.6 387.1,245.3 387.7,245.2 388.3,245 389,244.5 389.6,244.7 390.3,245.1 390.9,245.5 391.5,245.9 392.2,246 392.8,246.2 393.4,246.6 394.1,246.8 394.7,246.9 395.3,247 396,247 396.6,247.1 397.2,247.2 397.9,247.4 398.5,247.5 399.1,247.7 399.8,247.7 400.4,247.9 401,247.8 401.7,247.8 402.3,247.8 402.9,247.8 403.6,247.9 404.2,248 404.8,247.8 405.5,247.9 406.1,247.9 406.7,247.9 407.4,248 408,248.1 408.6,248 409.3,248.1 409.9,248.1 410.6,248.1 411.2,248.1 411.8,248 412.5,248.2 413.1,248 413.7,248.1 414.4,248 415,248 415.6,248 416.3,248.1 416.9,248.1 417.5,248 418.2,248 418.8,248.1 419.4,247.9 420.1,248 420.7,248 421.3,248 422,248 422.6,248 423.2,248.2 423.9,248.2 424.5,248.2 425.1,248 425.8,248.1 426.4,248.2 427,248.1 427.7,248.1 428.3,248.3 428.9,248.2 429.6,248.2 430.2,248.2 430.9,248.1 431.5,248 432.1,247.9 432.8,247.9 433.4,248.1 434,248.1 434.7,248.1 435.3,248.1 435.9,248.2 436.6,248.1 437.2,248 437.8,248 438.5,248 439.1,248 439.7,248 440.4,248.3 441,248 441.6,248.1 442.3,248 442.9,248.2 443.5,248.2 444.2,248.1 444.8,248 445.4,248 446.1,248.1 446.7,248 447.3,248 448,248 448.6,247.9 449.3,248 449.9,248 450.5,248.1 451.2,248.1 451.8,248.2 452.4,248.2 453.1,248.1 453.7,248.1 454.3,248.3 455,248.2" stroke="#30c840" stroke-width="1.1" fill="none" stroke-linejoin="round" />
<polyline points="264.6,241.5 265.3,241.5 265.9,241.5 266.5,241.4 267.2,241.4 267.8,241.3 268.4,241.3 269.1,241.4 269.7,241.5 270.3,241.4 271,241.2 271.6,241.3 272.3,241.3 272.9,241.2 273.5,241.3 274.2,241.3 274.8,241.2 275.4,241.4 276.1,241.3 276.7,241.3 277.3,241.2 278,241.2 278.6,241.1 279.2,241.3 279.9,241.3 280.5,241.3 281.1,241.3 281.8,241.3 282.4,241.2 283,241.4 283.7,241.4 284.3,241.3 284.9,241.2 285.6,241.2 286.2,241.4 286.8,241.3 287.5,241.2 288.1,241.3 288.7,241.2 289.4,241.2 290,241.3 290.7,241.3 291.3,241.4 291.9,241.3 292.6,241.3 293.2,241.3 293.8,241.4 294.5,241.5 295.1,241.5 295.7,241.4 296.4,241.4 297,241.4 297.6,241.3 298.3,241.3 298.9,241.3 299.5,241.5 300.2,241.4 300.8,241.4 301.4,241.2 302.1,241.3 302.7,241.3 303.3,241.3 304,241.2 304.6,241.3 305.2,241.3 305.9,241.3 306.5,241.2 307.1,241.3 307.8,241.3 308.4,241.4 309,241.5 309.7,241.3 310.3,241.3 311,241.2 311.6,241.2 312.2,241.3 312.9,241.3 313.5,241.4 314.1,241.5 314.8,241.5 315.4,241.4 316,241.3 316.7,241.2 317.3,241.2 317.9,241.2 318.6,241.2 319.2,241.2 319.8,241.2 320.5,241.2 321.1,240.9 321.7,241.2 322.4,240.9 323,240.9 323.6,240.8 324.3,240.7 324.9,240.8 325.5,240.7 326.2,240.6 326.8,240.6 327.4,240.7 328.1,240.5 328.7,240.5 329.3,240.3 330,240.1 330.6,239.8 331.3,239.8 331.9,239.7 332.5,239.5 333.2,239.2 333.8,239 334.4,238.6 335.1,238.2 335.7,237.7 336.3,237.8 337,238.2 337.6,238.6 338.2,238.9 338.9,239.3 339.5,239.5 340.1,239.8 340.8,240.1 341.4,240.3 342,240.5 342.7,240.8 343.3,241 343.9,241.4 344.6,241.6 345.2,242 345.8,242.3 346.5,242.4 347.1,242.5 347.7,242.7 348.4,242.8 349,243.1 349.6,243.3 350.3,243.5 350.9,243.6 351.6,243.6 352.2,243.7 352.8,243.6 353.5,243.7 354.1,244.3 354.7,245.1 355.4,245.9 356,246.4 356.6,247 357.3,247.7 357.9,248.4 358.5,249.1 359.2,249.7 359.8,250.3 360.4,249.6 361.1,248.7 361.7,248.1 362.3,247.6 363,247 363.6,246.3 364.2,245.5 364.9,244.7 365.5,243.9 366.1,243.6 366.8,243.4 367.4,243.5 368,243.3 368.7,243.3 369.3,243.2 370,242.9 370.6,242.9 371.2,242.7 371.9,242.4 372.5,242.3 373.1,242.1 373.8,241.7 374.4,241.6 375,241.3 375.7,241.1 376.3,240.9 376.9,240.7 377.6,240.5 378.2,240.2 378.8,239.9 379.5,239.7 380.1,239.5 380.7,239.2 381.4,239.1 382,238.9 382.6,238.4 383.3,238 383.9,237.8 384.5,238.3 385.2,238.7 385.8,239 386.4,239.1 387.1,239.3 387.7,239.5 388.3,239.8 389,239.8 389.6,240.1 390.3,240.2 390.9,240.5 391.5,240.6 392.2,240.5 392.8,240.6 393.4,240.7 394.1,240.6 394.7,240.7 395.3,240.7 396,240.6 396.6,240.9 397.2,241 397.9,241 398.5,241.1 399.1,241.1 399.8,241.2 400.4,241.2 401,241.3 401.7,241.5 402.3,241.4 402.9,241.3 403.6,241.3 404.2,241.2 404.8,241.3 405.5,241.2 406.1,241.1 406.7,241.3 407.4,241.4 408,241.5 408.6,241.3 409.3,241.3 409.9,241.2 410.6,241.4 411.2,241.3 411.8,241.3 412.5,241.2 413.1,241.3 413.7,241.3 414.4,241.4 415,241.3 415.6,241.1 416.3,241.2 416.9,241.3 417.5,241.4 418.2,241.5 418.8,241.4 419.4,241.5 420.1,241.3 420.7,241.3 421.3,241.2 422,241.3 422.6,241.3 423.2,241.4 423.9,241.3 424.5,241.4 425.1,241.4 425.8,241.3 426.4,241.3 427,241.3 427.7,241.2 428.3,241.3 428.9,241.3 429.6,241.2 430.2,241.4 430.9,241.4 431.5,241.4 432.1,241.5 432.8,241.5 433.4,241.5 434,241.4 434.7,241.4 435.3,241.2 435.9,241.4 436.6,241.3 437.2,241.3 437.8,241.4 438.5,241.3 439.1,241.3 439.7,241.2 440.4,241.1 441,241.2 441.6,241.3 442.3,241.4 442.9,241.3 443.5,241.3 444.2,241.3 444.8,241.2 445.4,241.4 446.1,241.4 446.7,241.3 447.3,241.5 448,241.6 448.6,241.6 449.3,241.5 449.9,241.4 450.5,241.3 451.2,241.3 451.8,241.2 452.4,241.3 453.1,241.5 453.7,241.3 454.3,241.3 455,241.4" stroke="#38c838" stroke-width="1.1" fill="none" stroke-linejoin="round" />
<polyline points="264.6,233.7 265.3,233.8 265.9,233.7 266.5,233.8 267.2,233.7 267.8,233.7 268.4,233.7 269.1,233.7 269.7,233.7 270.3,233.8 271,233.7 271.6,233.7 272.3,233.9 272.9,233.8 273.5,233.9 274.2,233.9 274.8,233.8 275.4,233.7 276.1,233.8 276.7,233.8 277.3,234 278,234 278.6,233.9 279.2,233.7 279.9,233.8 280.5,233.6 281.1,233.7 281.8,233.8 282.4,233.8 283,233.9 283.7,233.7 284.3,233.7 284.9,233.7 285.6,233.8 286.2,233.8 286.8,233.8 287.5,233.8 288.1,233.8 288.7,233.8 289.4,233.8 290,233.9 290.7,233.8 291.3,233.9 291.9,233.8 292.6,233.9 293.2,233.7 293.8,233.9 294.5,233.8 295.1,233.8 295.7,233.8 296.4,233.8 297,233.8 297.6,234.1 298.3,233.9 298.9,233.8 299.5,233.9 300.2,233.9 300.8,233.8 301.4,233.8 302.1,234 302.7,233.8 303.3,233.9 304,233.9 304.6,234.1 305.2,234 305.9,234 306.5,233.8 307.1,233.8 307.8,233.8 308.4,234.1 309,234 309.7,233.9 310.3,233.8 311,233.8 311.6,233.9 312.2,233.9 312.9,234 313.5,233.9 314.1,233.9 314.8,233.9 315.4,234 316,233.8 316.7,233.7 317.3,233.8 317.9,233.9 318.6,234 319.2,233.9 319.8,234 320.5,233.7 321.1,233.9 321.7,233.9 322.4,233.9 323,233.9 323.6,233.8 324.3,233.8 324.9,233.9 325.5,233.9 326.2,233.9 326.8,233.9 327.4,233.8 328.1,233.8 328.7,233.8 329.3,233.7 330,233.7 330.6,233.8 331.3,233.8 331.9,233.5 332.5,233.4 333.2,233.6 333.8,233.5 334.4,233.5 335.1,233.5 335.7,233.4 336.3,233.4 337,233.3 337.6,233.3 338.2,233.3 338.9,233.2 339.5,233 340.1,232.8 340.8,232.7 341.4,233 342,233.2 342.7,233.4 343.3,233.5 343.9,233.8 344.6,233.9 345.2,234 345.8,234.2 346.5,234.2 347.1,234.5 347.7,234.7 348.4,235 349,235.1 349.6,235.2 350.3,235.4 350.9,235.8 351.6,235.9 352.2,236 352.8,236.3 353.5,236.7 354.1,237.1 354.7,237.5 355.4,237.7 356,238.1 356.6,238.4 357.3,238.8 357.9,239.3 358.5,239.8 359.2,240.3 359.8,240.9 360.4,240.1 361.1,239.4 361.7,238.7 362.3,238.3 363,237.8 363.6,237.5 364.2,237.2 364.9,237 365.5,236.7 366.1,236.5 366.8,236.1 367.4,235.8 368,235.5 368.7,235.2 369.3,235 370,234.8 370.6,234.7 371.2,234.6 371.9,234.3 372.5,234.1 373.1,233.9 373.8,233.8 374.4,233.4 375,233.3 375.7,233.1 376.3,233.1 376.9,232.9 377.6,232.7 378.2,232.7 378.8,232.5 379.5,232.6 380.1,232.7 380.7,232.9 381.4,233 382,233.1 382.6,233.3 383.3,233.3 383.9,233.2 384.5,233.3 385.2,233.4 385.8,233.5 386.4,233.5 387.1,233.4 387.7,233.4 388.3,233.5 389,233.5 389.6,233.5 390.3,233.5 390.9,233.5 391.5,233.5 392.2,233.5 392.8,233.5 393.4,233.6 394.1,233.6 394.7,233.6 395.3,233.7 396,233.7 396.6,233.7 397.2,233.8 397.9,233.8 398.5,233.7 399.1,233.6 399.8,233.8 400.4,233.7 401,233.7 401.7,233.7 402.3,233.5 402.9,233.7 403.6,233.6 404.2,233.7 404.8,233.7 405.5,233.7 406.1,233.8 406.7,233.7 407.4,233.8 408,233.8 408.6,233.8 409.3,233.7 409.9,233.7 410.6,233.7 411.2,233.8 411.8,233.7 412.5,233.7 413.1,233.7 413.7,233.8 414.4,233.8 415,233.8 415.6,233.9 416.3,233.9 416.9,233.8 417.5,233.9 418.2,233.9 418.8,234 419.4,234 420.1,234 420.7,233.8 421.3,233.7 422,233.7 422.6,233.7 423.2,233.6 423.9,233.8 424.5,233.7 425.1,233.7 425.8,233.8 426.4,233.9 427,233.8 427.7,233.8 428.3,233.9 428.9,233.9 429.6,233.9 430.2,233.9 430.9,233.8 431.5,233.8 432.1,233.9 432.8,233.8 433.4,233.8 434,233.9 434.7,234 435.3,234 435.9,234 436.6,233.8 437.2,233.6 437.8,233.6 438.5,233.6 439.1,233.6 439.7,233.7 440.4,233.8 441,233.7 441.6,233.6 442.3,233.7 442.9,233.8 443.5,233.8 444.2,233.7 444.8,233.8 445.4,233.8 446.1,233.8 446.7,233.9 447.3,233.8 448,233.7 448.6,233.7 449.3,233.9 449.9,233.9 450.5,233.9 451.2,233.8 451.8,233.7 452.4,233.9 453.1,233.9 453.7,233.8 454.3,233.7 455,233.8" stroke="#70d040" stroke-width="1.1" fill="none" stroke-linejoin="round" />
<polyline points="264.6,225.9 265.3,225.9 265.9,225.8 266.5,225.9 267.2,225.8 267.8,225.8 268.4,225.7 269.1,225.8 269.7,225.8 270.3,225.9 271,225.9 271.6,226 272.3,226.1 272.9,226.2 273.5,226.1 274.2,226 274.8,225.9 275.4,225.8 276.1,225.9 276.7,225.9 277.3,225.7 278,225.9 278.6,226 279.2,226 279.9,225.9 280.5,226 281.1,225.9 281.8,225.8 282.4,225.8 283,226 283.7,226 284.3,225.9 284.9,226 285.6,226 286.2,226 286.8,225.9 287.5,225.9 288.1,225.8 288.7,225.8 289.4,225.8 290,225.9 290.7,226 291.3,226 291.9,225.8 292.6,226 293.2,225.9 293.8,225.9 294.5,225.8 295.1,226 295.7,226 296.4,226 297,226 297.6,225.9 298.3,225.9 298.9,225.9 299.5,225.9 300.2,225.9 300.8,225.9 301.4,225.8 302.1,225.9 302.7,225.8 303.3,225.9 304,226 304.6,226.1 305.2,226 305.9,226.1 306.5,226.2 307.1,226 307.8,226 308.4,225.9 309,226 309.7,226.1 310.3,226.2 311,226.1 311.6,225.9 312.2,225.9 312.9,225.9 313.5,225.9 314.1,226 314.8,225.9 315.4,225.9 316,225.8 316.7,225.9 317.3,225.9 317.9,226 318.6,225.9 319.2,226 319.8,225.9 320.5,226 321.1,225.9 321.7,226 322.4,226 323,225.9 323.6,226 324.3,225.9 324.9,225.9 325.5,226 326.2,226.1 326.8,226.1 327.4,226 328.1,226 328.7,226.1 329.3,226 330,226.2 330.6,226.4 331.3,226.4 331.9,226.3 332.5,226.3 333.2,226.3 333.8,226.4 334.4,226.3 335.1,226.4 335.7,226.2 336.3,226.2 337,226.2 337.6,226.4 338.2,226.4 338.9,226.6 339.5,226.5 340.1,226.6 340.8,226.6 341.4,226.6 342,226.7 342.7,226.8 343.3,226.8 343.9,226.9 344.6,227 345.2,227 345.8,227.1 346.5,227.1 347.1,227.2 347.7,227.5 348.4,227.7 349,227.8 349.6,228.1 350.3,228.1 350.9,228.4 351.6,228.5 352.2,228.6 352.8,228.7 353.5,228.9 354.1,229.2 354.7,229.3 355.4,229.5 356,229.6 356.6,230 357.3,230.5 357.9,230.7 358.5,231 359.2,231.4 359.8,231.8 360.4,231.3 361.1,230.7 361.7,230.3 362.3,229.9 363,229.4 363.6,229.1 364.2,228.8 364.9,228.4 365.5,228.1 366.1,227.7 366.8,227.6 367.4,227.3 368,227.1 368.7,227 369.3,226.8 370,226.8 370.6,226.7 371.2,226.5 371.9,226.4 372.5,226.3 373.1,226.2 373.8,226 374.4,225.9 375,225.8 375.7,225.7 376.3,225.6 376.9,225.5 377.6,225.5 378.2,225.4 378.8,225.6 379.5,225.5 380.1,225.5 380.7,225.4 381.4,225.3 382,225.4 382.6,225.3 383.3,225.2 383.9,224.9 384.5,225.1 385.2,225 385.8,225.1 386.4,225 387.1,224.9 387.7,224.8 388.3,224.7 389,224.8 389.6,224.9 390.3,224.8 390.9,224.8 391.5,224.7 392.2,224.6 392.8,224.6 393.4,224.6 394.1,224.7 394.7,224.5 395.3,224.6 396,224.4 396.6,224.5 397.2,224.4 397.9,224.2 398.5,224.4 399.1,224.3 399.8,224.2 400.4,224.2 401,224.2 401.7,224.3 402.3,224.2 402.9,224.3 403.6,224.4 404.2,224.3 404.8,224.3 405.5,224.2 406.1,224.1 406.7,224.1 407.4,224.1 408,224.1 408.6,224.1 409.3,224.1 409.9,224 410.6,224 411.2,224 411.8,224.1 412.5,224 413.1,223.9 413.7,223.9 414.4,223.9 415,223.7 415.6,223.8 416.3,223.9 416.9,223.8 417.5,223.8 418.2,223.7 418.8,223.7 419.4,223.7 420.1,223.6 420.7,223.7 421.3,223.6 422,223.7 422.6,223.6 423.2,223.6 423.9,223.5 424.5,223.5 425.1,223.4 425.8,223.4 426.4,223.2 427,223.2 427.7,223.1 428.3,223 428.9,222.9 429.6,223.1 430.2,223 430.9,223.2 431.5,223.2 432.1,223.2 432.8,223.2 433.4,223 434,223.1 434.7,223.1 435.3,223 435.9,223.1 436.6,223 437.2,222.9 437.8,222.8 438.5,222.7 439.1,222.8 439.7,222.7 440.4,222.6 441,222.6 441.6,222.5 442.3,222.5 442.9,222.5 443.5,222.5 444.2,222.4 444.8,222.5 445.4,222.5 446.1,222.6 446.7,222.7 447.3,222.5 448,222.4 448.6,222.4 449.3,222.5 449.9,222.4 450.5,222.4 451.2,222.5 451.8,222.4 452.4,222.4 453.1,222.4 453.7,222.3 454.3,222.3 455,222.2" stroke="#a8d848" stroke-width="1.1" fill="none" stroke-linejoin="round" />
<polyline points="264.6,216.5 265.3,216.6 265.9,216.6 266.5,216.4 267.2,216.3 267.8,216.3 268.4,216.3 269.1,216.3 269.7,216.4 270.3,216.4 271,216.3 271.6,216.2 272.3,216.4 272.9,216.4 273.5,216.4 274.2,216.4 274.8,216.4 275.4,216.4 276.1,216.5 276.7,216.4 277.3,216.4 278,216.4 278.6,216.3 279.2,216.4 279.9,216.3 280.5,216.4 281.1,216.3 281.8,216.5 282.4,216.5 283,216.5 283.7,216.6 284.3,216.5 284.9,216.5 285.6,216.6 286.2,216.6 286.8,216.6 287.5,216.6 288.1,216.5 288.7,216.5 289.4,216.6 290,216.7 290.7,216.5 291.3,216.4 291.9,216.3 292.6,216.3 293.2,216.5 293.8,216.5 294.5,216.4 295.1,216.4 295.7,216.5 296.4,216.6 297,216.5 297.6,216.6 298.3,216.6 298.9,216.7 299.5,216.5 300.2,216.7 300.8,216.7 301.4,216.7 302.1,216.5 302.7,216.6 303.3,216.7 304,216.7 304.6,216.6 305.2,216.6 305.9,216.7 306.5,216.7 307.1,216.7 307.8,216.6 308.4,216.8 309,216.7 309.7,216.8 310.3,216.9 311,216.7 311.6,216.7 312.2,216.7 312.9,216.6 313.5,216.7 314.1,216.8 314.8,216.9 315.4,217 316,217 316.7,217 317.3,217 317.9,217 318.6,217.1 319.2,217.1 319.8,217 320.5,217.1 321.1,217.2 321.7,217.1 322.4,217.3 323,217.5 323.6,217.5 324.3,217.5 324.9,217.5 325.5,217.6 326.2,217.6 326.8,217.6 327.4,217.7 328.1,217.7 328.7,217.7 329.3,217.7 330,217.6 330.6,217.6 331.3,217.8 331.9,217.8 332.5,217.9 333.2,218.1 333.8,218.1 334.4,218.1 335.1,218.1 335.7,218.2 336.3,218.4 337,218.4 337.6,218.5 338.2,218.8 338.9,218.8 339.5,218.9 340.1,218.9 340.8,219 341.4,219.2 342,219.3 342.7,219.5 343.3,219.6 343.9,219.6 344.6,219.8 345.2,219.9 345.8,220.2 346.5,220.2 347.1,220.4 347.7,220.6 348.4,220.8 349,221 349.6,221 350.3,221.3 350.9,221.5 351.6,221.7 352.2,221.9 352.8,222 353.5,222.4 354.1,222.6 354.7,222.8 355.4,223 356,223.4 356.6,223.7 357.3,224.1 357.9,224.3 358.5,224.7 359.2,225 359.8,225.5 360.4,224.6 361.1,223.8 361.7,223.1 362.3,222.4 363,221.9 363.6,221.6 364.2,221.1 364.9,220.6 365.5,220.2 366.1,219.7 366.8,219.5 367.4,219.2 368,219 368.7,218.6 369.3,218.2 370,218.1 370.6,218 371.2,217.8 371.9,217.7 372.5,217.5 373.1,217.4 373.8,217.4 374.4,217.2 375,217.1 375.7,217.1 376.3,217 376.9,217.1 377.6,216.9 378.2,216.7 378.8,216.7 379.5,216.7 380.1,216.7 380.7,216.6 381.4,216.6 382,216.5 382.6,216.4 383.3,216.5 383.9,216.6 384.5,216.6 385.2,216.5 385.8,216.5 386.4,216.6 387.1,216.6 387.7,216.5 388.3,216.5 389,216.5 389.6,216.6 390.3,216.7 390.9,216.6 391.5,216.7 392.2,216.7 392.8,216.7 393.4,216.7 394.1,216.4 394.7,216.5 395.3,216.5 396,216.5 396.6,216.6 397.2,216.6 397.9,216.5 398.5,216.6 399.1,216.6 399.8,216.6 400.4,216.5 401,216.5 401.7,216.4 402.3,216.3 402.9,216.2 403.6,216.4 404.2,216.3 404.8,216.4 405.5,216.4 406.1,216.4 406.7,216.4 407.4,216.4 408,216.4 408.6,216.4 409.3,216.4 409.9,216.3 410.6,216.3 411.2,216.3 411.8,216.3 412.5,216.4 413.1,216.3 413.7,216.3 414.4,216.3 415,216.4 415.6,216.4 416.3,216.4 416.9,216.5 417.5,216.6 418.2,216.7 418.8,216.7 419.4,216.6 420.1,216.5 420.7,216.4 421.3,216.4 422,216.3 422.6,216.3 423.2,216.4 423.9,216.5 424.5,216.5 425.1,216.5 425.8,216.4 426.4,216.5 427,216.4 427.7,216.4 428.3,216.2 428.9,216.3 429.6,216.5 430.2,216.5 430.9,216.5 431.5,216.5 432.1,216.3 432.8,216.3 433.4,216.3 434,216.4 434.7,216.3 435.3,216.3 435.9,216.3 436.6,216.4 437.2,216.5 437.8,216.5 438.5,216.4 439.1,216.4 439.7,216.2 440.4,216.4 441,216.4 441.6,216.4 442.3,216.4 442.9,216.4 443.5,216.4 444.2,216.4 444.8,216.5 445.4,216.5 446.1,216.3 446.7,216.4 447.3,216.5 448,216.4 448.6,216.5 449.3,216.3 449.9,216.4 450.5,216.3 451.2,216.4 451.8,216.4 452.4,216.5 453.1,216.5 453.7,216.5 454.3,216.5 455,216.4" stroke="#c8d048" stroke-width="1.1" fill="none" stroke-linejoin="round" />
<polyline points="264.6,213.6 265.3,213.7 265.9,213.6 266.5,213.7 267.2,213.7 267.8,213.7 268.4,213.6 269.1,213.6 269.7,213.6 270.3,213.7 271,213.6 271.6,213.6 272.3,213.7 272.9,213.8 273.5,213.7 274.2,213.7 274.8,213.8 275.4,213.7 276.1,213.6 276.7,213.6 277.3,213.5 278,213.5 278.6,213.4 279.2,213.6 279.9,213.7 280.5,213.6 281.1,213.6 281.8,213.7 282.4,213.6 283,213.6 283.7,213.6 284.3,213.6 284.9,213.6 285.6,213.7 286.2,213.8 286.8,213.7 287.5,213.8 288.1,213.7 288.7,213.7 289.4,213.7 290,213.7 290.7,213.7 291.3,213.7 291.9,213.8 292.6,213.8 293.2,213.7 293.8,213.6 294.5,213.6 295.1,213.8 295.7,213.7 296.4,213.6 297,213.5 297.6,213.6 298.3,213.8 298.9,213.7 299.5,213.8 300.2,213.7 300.8,213.7 301.4,213.7 302.1,213.6 302.7,213.7 303.3,213.7 304,213.7 304.6,213.7 305.2,213.7 305.9,213.6 306.5,213.7 307.1,213.6 307.8,213.6 308.4,213.5 309,213.6 309.7,213.7 310.3,213.7 311,213.7 311.6,213.6 312.2,213.6 312.9,213.7 313.5,213.7 314.1,213.7 314.8,213.6 315.4,213.7 316,213.8 316.7,213.8 317.3,213.8 317.9,213.8 318.6,213.8 319.2,213.6 319.8,213.6 320.5,213.8 321.1,213.8 321.7,213.7 322.4,213.7 323,213.6 323.6,213.7 324.3,213.7 324.9,213.8 325.5,213.9 326.2,213.8 326.8,213.7 327.4,213.7 328.1,213.7 328.7,213.7 329.3,213.6 330,213.7 330.6,213.8 331.3,213.5 331.9,213.6 332.5,213.6 333.2,213.7 333.8,213.7 334.4,213.7 335.1,213.8 335.7,213.7 336.3,213.7 337,213.8 337.6,213.7 338.2,213.7 338.9,213.6 339.5,213.7 340.1,213.6 340.8,213.8 341.4,213.7 342,213.8 342.7,213.8 343.3,213.8 343.9,213.7 344.6,213.8 345.2,213.8 345.8,213.9 346.5,213.9 347.1,213.9 347.7,213.8 348.4,213.8 349,213.8 349.6,213.8 350.3,213.9 350.9,213.9 351.6,213.9 352.2,214 352.8,214 353.5,214.2 354.1,214.3 354.7,214.4 355.4,214.4 356,214.6 356.6,214.9 357.3,215.2 357.9,215.3 358.5,215.5 359.2,215.9 359.8,216.3 360.4,215.9 361.1,215.3 361.7,215 362.3,214.8 363,214.7 363.6,214.5 364.2,214.4 364.9,214.2 365.5,214.3 366.1,214.1 366.8,214.1 367.4,214 368,213.9 368.7,213.8 369.3,213.8 370,213.9 370.6,213.8 371.2,213.8 371.9,214 372.5,213.8 373.1,213.7 373.8,213.8 374.4,213.7 375,213.8 375.7,213.7 376.3,213.7 376.9,213.7 377.6,213.8 378.2,213.9 378.8,213.8 379.5,213.6 380.1,213.9 380.7,213.8 381.4,213.7 382,213.6 382.6,213.5 383.3,213.6 383.9,213.7 384.5,213.7 385.2,213.6 385.8,213.7 386.4,213.8 387.1,213.7 387.7,213.6 388.3,213.5 389,213.4 389.6,213.6 390.3,213.7 390.9,213.7 391.5,213.8 392.2,213.7 392.8,213.7 393.4,213.8 394.1,213.8 394.7,213.7 395.3,213.6 396,213.6 396.6,213.8 397.2,213.6 397.9,213.7 398.5,213.6 399.1,213.7 399.8,213.7 400.4,213.6 401,213.6 401.7,213.7 402.3,213.6 402.9,213.6 403.6,213.7 404.2,213.6 404.8,213.6 405.5,213.7 406.1,213.7 406.7,213.7 407.4,213.6 408,213.8 408.6,213.8 409.3,213.8 409.9,213.8 410.6,213.7 411.2,213.7 411.8,213.6 412.5,213.7 413.1,213.8 413.7,213.8 414.4,213.8 415,213.7 415.6,213.8 416.3,213.8 416.9,213.7 417.5,213.8 418.2,213.7 418.8,213.7 419.4,213.7 420.1,213.7 420.7,213.6 421.3,213.8 422,213.7 422.6,213.7 423.2,213.6 423.9,213.6 424.5,213.7 425.1,213.8 425.8,213.7 426.4,213.6 427,213.7 427.7,213.8 428.3,213.8 428.9,213.8 429.6,213.8 430.2,213.7 430.9,213.7 431.5,213.6 432.1,213.7 432.8,213.7 433.4,213.8 434,213.7 434.7,213.7 435.3,213.7 435.9,213.6 436.6,213.6 437.2,213.7 437.8,213.6 438.5,213.8 439.1,213.7 439.7,213.7 440.4,213.6 441,213.8 441.6,213.7 442.3,213.7 442.9,213.8 443.5,213.7 444.2,213.8 444.8,213.9 445.4,213.8 446.1,213.7 446.7,213.7 447.3,213.7 448,213.7 448.6,213.7 449.3,213.7 449.9,213.7 450.5,213.7 451.2,213.6 451.8,213.6 452.4,213.8 453.1,213.7 453.7,213.7 454.3,213.6 455,213.7" stroke="#e6c848" stroke-width="1.1" fill="none" stroke-linejoin="round" />
</g>
<rect x="269.6" y="206" width="25.6" height="158" stroke="none" stroke-width="0" fill="#fff" />
<text x="270.8" y="358.65" font-size="10.2" text-anchor="start" fill="#b630d8" stroke="#b630d8" stroke-width="0.15">0.0 T</text>
<text x="270.8" y="343.65" font-size="10.2" text-anchor="start" fill="#8830e4" stroke="#8830e4" stroke-width="0.15">0.5 T</text>
<text x="270.8" y="330.05" font-size="10.2" text-anchor="start" fill="#3c50f2" stroke="#3c50f2" stroke-width="0.15">1.0 T</text>
<text x="270.8" y="315.85" font-size="10.2" text-anchor="start" fill="#3a78f4" stroke="#3a78f4" stroke-width="0.15">1.5 T</text>
<text x="270.8" y="300.85" font-size="10.2" text-anchor="start" fill="#38a4f0" stroke="#38a4f0" stroke-width="0.15">2.0 T</text>
<text x="270.8" y="287.25" font-size="10.2" text-anchor="start" fill="#30c4c4" stroke="#30c4c4" stroke-width="0.15">2.5 T</text>
<text x="270.8" y="273.25" font-size="10.2" text-anchor="start" fill="#30c890" stroke="#30c890" stroke-width="0.15">3.0 T</text>
<text x="270.8" y="258.05" font-size="10.2" text-anchor="start" fill="#30c850" stroke="#30c850" stroke-width="0.15">3.5 T</text>
<text x="270.8" y="245.05" font-size="10.2" text-anchor="start" fill="#38c838" stroke="#38c838" stroke-width="0.15">4.0 T</text>
<text x="270.8" y="229.25" font-size="10.2" text-anchor="start" fill="#a8d848" stroke="#a8d848" stroke-width="0.15">4.5 T</text>
<text x="270.8" y="217.05" font-size="10.2" text-anchor="start" fill="#e6c848" stroke="#e6c848" stroke-width="0.15">5.0 T</text>
<ellipse cx="358.4" cy="275.6" rx="9.6" ry="13" fill="none" stroke="#555" stroke-width="0.9" stroke-dasharray="1.6,1.2"/>
<ellipse cx="359" cy="315.6" rx="9.6" ry="14.4" fill="none" stroke="#555" stroke-width="0.9" stroke-dasharray="1.6,1.2"/>
<ellipse cx="358" cy="354" rx="10" ry="14" fill="none" stroke="#555" stroke-width="0.9" stroke-dasharray="1.6,1.2"/>
<line x1="296.7" y1="288.8" x2="343.41" y2="226.84" stroke="#222" stroke-width="0.9" stroke-dasharray="1.8,1.6" />
<polygon points="345.4,224.2 343.77,229.86 342.92,227.49 340.41,227.33" fill="#222" stroke="none" stroke-width="1"/>
<line x1="314.6" y1="343.7" x2="354.4" y2="241.67" stroke="#222" stroke-width="0.9" stroke-dasharray="1.8,1.6" />
<polygon points="355.6,238.6 355.56,244.49 354.1,242.44 351.64,242.96" fill="#222" stroke="none" stroke-width="1"/>
<line x1="359.5" y1="203.5" x2="359.5" y2="368.5" stroke="#333" stroke-width="1" />
<rect x="265.5" y="203.5" width="188" height="165" stroke="#2b2b2b" stroke-width="1" fill="none" />
<line x1="266.2" y1="368.5" x2="266.2" y2="365.3" stroke="#2b2b2b" stroke-width="0.9" />
<line x1="266.2" y1="203.5" x2="266.2" y2="206.7" stroke="#2b2b2b" stroke-width="0.9" />
<line x1="297.4" y1="368.5" x2="297.4" y2="365.3" stroke="#2b2b2b" stroke-width="0.9" />
<line x1="297.4" y1="203.5" x2="297.4" y2="206.7" stroke="#2b2b2b" stroke-width="0.9" />
<line x1="328.6" y1="368.5" x2="328.6" y2="365.3" stroke="#2b2b2b" stroke-width="0.9" />
<line x1="328.6" y1="203.5" x2="328.6" y2="206.7" stroke="#2b2b2b" stroke-width="0.9" />
<line x1="359.8" y1="368.5" x2="359.8" y2="365.3" stroke="#2b2b2b" stroke-width="0.9" />
<line x1="359.8" y1="203.5" x2="359.8" y2="206.7" stroke="#2b2b2b" stroke-width="0.9" />
<line x1="391" y1="368.5" x2="391" y2="365.3" stroke="#2b2b2b" stroke-width="0.9" />
<line x1="391" y1="203.5" x2="391" y2="206.7" stroke="#2b2b2b" stroke-width="0.9" />
<line x1="422.2" y1="368.5" x2="422.2" y2="365.3" stroke="#2b2b2b" stroke-width="0.9" />
<line x1="422.2" y1="203.5" x2="422.2" y2="206.7" stroke="#2b2b2b" stroke-width="0.9" />
<line x1="453.4" y1="368.5" x2="453.4" y2="365.3" stroke="#2b2b2b" stroke-width="0.9" />
<line x1="453.4" y1="203.5" x2="453.4" y2="206.7" stroke="#2b2b2b" stroke-width="0.9" />
<line x1="281.8" y1="368.5" x2="281.8" y2="367" stroke="#2b2b2b" stroke-width="0.9" />
<line x1="281.8" y1="203.5" x2="281.8" y2="205" stroke="#2b2b2b" stroke-width="0.9" />
<line x1="313" y1="368.5" x2="313" y2="367" stroke="#2b2b2b" stroke-width="0.9" />
<line x1="313" y1="203.5" x2="313" y2="205" stroke="#2b2b2b" stroke-width="0.9" />
<line x1="344.2" y1="368.5" x2="344.2" y2="367" stroke="#2b2b2b" stroke-width="0.9" />
<line x1="344.2" y1="203.5" x2="344.2" y2="205" stroke="#2b2b2b" stroke-width="0.9" />
<line x1="375.4" y1="368.5" x2="375.4" y2="367" stroke="#2b2b2b" stroke-width="0.9" />
<line x1="375.4" y1="203.5" x2="375.4" y2="205" stroke="#2b2b2b" stroke-width="0.9" />
<line x1="406.6" y1="368.5" x2="406.6" y2="367" stroke="#2b2b2b" stroke-width="0.9" />
<line x1="406.6" y1="203.5" x2="406.6" y2="205" stroke="#2b2b2b" stroke-width="0.9" />
<line x1="437.8" y1="368.5" x2="437.8" y2="367" stroke="#2b2b2b" stroke-width="0.9" />
<line x1="437.8" y1="203.5" x2="437.8" y2="205" stroke="#2b2b2b" stroke-width="0.9" />
<line x1="265.5" y1="367.8" x2="268.7" y2="367.8" stroke="#2b2b2b" stroke-width="0.9" />
<line x1="453.5" y1="367.8" x2="450.3" y2="367.8" stroke="#2b2b2b" stroke-width="0.9" />
<line x1="265.5" y1="299.4" x2="268.7" y2="299.4" stroke="#2b2b2b" stroke-width="0.9" />
<line x1="453.5" y1="299.4" x2="450.3" y2="299.4" stroke="#2b2b2b" stroke-width="0.9" />
<line x1="265.5" y1="231" x2="268.7" y2="231" stroke="#2b2b2b" stroke-width="0.9" />
<line x1="453.5" y1="231" x2="450.3" y2="231" stroke="#2b2b2b" stroke-width="0.9" />
<line x1="265.5" y1="333.6" x2="267" y2="333.6" stroke="#2b2b2b" stroke-width="0.9" />
<line x1="453.5" y1="333.6" x2="452" y2="333.6" stroke="#2b2b2b" stroke-width="0.9" />
<line x1="265.5" y1="265.2" x2="267" y2="265.2" stroke="#2b2b2b" stroke-width="0.9" />
<line x1="453.5" y1="265.2" x2="452" y2="265.2" stroke="#2b2b2b" stroke-width="0.9" />
<text x="266.2" y="381.74" font-size="11" text-anchor="middle" fill="#1a1a1a"  stroke="#1a1a1a" stroke-width="0.15">-3</text>
<text x="297.4" y="381.74" font-size="11" text-anchor="middle" fill="#1a1a1a"  stroke="#1a1a1a" stroke-width="0.15">-2</text>
<text x="328.6" y="381.74" font-size="11" text-anchor="middle" fill="#1a1a1a"  stroke="#1a1a1a" stroke-width="0.15">-1</text>
<text x="359.8" y="381.74" font-size="11" text-anchor="middle" fill="#1a1a1a"  stroke="#1a1a1a" stroke-width="0.15">0</text>
<text x="391" y="381.74" font-size="11" text-anchor="middle" fill="#1a1a1a"  stroke="#1a1a1a" stroke-width="0.15">1</text>
<text x="422.2" y="381.74" font-size="11" text-anchor="middle" fill="#1a1a1a"  stroke="#1a1a1a" stroke-width="0.15">2</text>
<text x="453.4" y="381.74" font-size="11" text-anchor="middle" fill="#1a1a1a"  stroke="#1a1a1a" stroke-width="0.15">3</text>
<text x="261.6" y="371.94" font-size="11" text-anchor="end" fill="#1a1a1a"  stroke="#1a1a1a" stroke-width="0.15">0</text>
<text x="261.6" y="303.54" font-size="11" text-anchor="end" fill="#1a1a1a"  stroke="#1a1a1a" stroke-width="0.15">1</text>
<text x="261.6" y="235.14" font-size="11" text-anchor="end" fill="#1a1a1a"  stroke="#1a1a1a" stroke-width="0.15">2</text>
<text transform="translate(251.14,287) rotate(-90)" font-size="11" text-anchor="middle" fill="#1a1a1a"  stroke="#1a1a1a" stroke-width="0.15"><tspan font-style="italic">dV</tspan>/<tspan font-style="italic">dI</tspan> (kΩ)</text>
<text x="359.2" y="394.6" font-size="10.6" text-anchor="middle" fill="#1a1a1a" stroke="#1a1a1a" stroke-width="0.15"><tspan font-style="italic">I</tspan><tspan font-size="7.8" dy="2.5">bias</tspan><tspan dy="-2.5"> (µA)</tspan></text>
<text x="245.4" y="212.55" font-size="13" text-anchor="middle" fill="#1a1a1a" font-weight="bold"  stroke="#1a1a1a" stroke-width="0.15">e</text>
<clipPath id="cc"><rect x="494.5" y="0.5" width="187.5" height="165"/></clipPath>
<g clip-path="url(#cc)">
<polyline points="494.6,14.6 496.5,14.6 498.4,14.7 500.4,14.8 502.3,15 504.2,15.2 506.1,15.5 508.1,15.8 510,16.2 511.9,16.6 513.8,17 515.8,17.5 517.7,18.1 519.6,18.7 521.5,19.3 523.5,20 525.4,20.7 527.3,21.5 529.2,22.3 531.2,23.2 533.1,24.1 535,25 536.9,26 538.9,27 540.8,28.1 542.7,29.2 544.6,30.3 546.6,31.5 548.5,32.7 550.4,34 552.3,35.3 554.3,36.6 556.2,37.9 558.1,39.3 560,40.7 561.9,42.2 563.9,43.6 565.8,45.1 567.7,46.7 569.6,48.2 571.6,49.8 573.5,51.4 575.4,53 577.3,54.6 579.3,56.3 581.2,58 583.1,59.7 585,61.4 587,63.1 588.9,64.9 590.8,66.7 592.7,68.4 594.7,70.2 596.6,72 598.5,73.8 600.4,75.7 602.4,77.5 604.3,79.3 606.2,81.2 608.1,83 610.1,84.9 612,86.7 613.9,88.6 615.8,90.4 617.8,92.3 619.7,94.2 621.6,96 623.5,97.9 625.4,99.7 627.4,101.6 629.3,103.4 631.2,105.2 633.1,107.1 635.1,108.9 637,110.7 638.9,112.5 640.8,114.3 642.8,116.1 644.7,117.8 646.6,119.6 648.5,121.3 650.5,123.1 652.4,124.8 654.3,126.5 656.2,128.2 658.2,129.8 660.1,131.5 662,133.1 663.9,134.8 665.9,136.4 667.8,138 669.7,139.5 671.6,141.1 673.6,142.6 675.5,144.1 677.4,145.6 679.3,147.1 681.3,148.6 683.2,150 685.1,151.4 687,152.8" stroke="#8a8a8a" stroke-width="1.0" fill="none" stroke-linejoin="round" />
<line x1="494.6" y1="-6.2" x2="494.6" y2="14.2" stroke="#8fe08f" stroke-width="0.9" />
<line x1="493.3" y1="-6.2" x2="495.9" y2="-6.2" stroke="#8fe08f" stroke-width="0.9" />
<line x1="493.3" y1="14.2" x2="495.9" y2="14.2" stroke="#8fe08f" stroke-width="0.9" />
<line x1="505.79" y1="19.3" x2="505.79" y2="39.7" stroke="#8fe08f" stroke-width="0.9" />
<line x1="504.49" y1="19.3" x2="507.09" y2="19.3" stroke="#8fe08f" stroke-width="0.9" />
<line x1="504.49" y1="39.7" x2="507.09" y2="39.7" stroke="#8fe08f" stroke-width="0.9" />
<line x1="516.98" y1="10.8" x2="516.98" y2="31.2" stroke="#8fe08f" stroke-width="0.9" />
<line x1="515.68" y1="10.8" x2="518.27" y2="10.8" stroke="#8fe08f" stroke-width="0.9" />
<line x1="515.68" y1="31.2" x2="518.27" y2="31.2" stroke="#8fe08f" stroke-width="0.9" />
<line x1="528.16" y1="10.8" x2="528.16" y2="31.2" stroke="#8fe08f" stroke-width="0.9" />
<line x1="526.86" y1="10.8" x2="529.46" y2="10.8" stroke="#8fe08f" stroke-width="0.9" />
<line x1="526.86" y1="31.2" x2="529.46" y2="31.2" stroke="#8fe08f" stroke-width="0.9" />
<line x1="539.35" y1="44.8" x2="539.35" y2="65.2" stroke="#8fe08f" stroke-width="0.9" />
<line x1="538.05" y1="44.8" x2="540.65" y2="44.8" stroke="#8fe08f" stroke-width="0.9" />
<line x1="538.05" y1="65.2" x2="540.65" y2="65.2" stroke="#8fe08f" stroke-width="0.9" />
<line x1="550.54" y1="27.8" x2="550.54" y2="48.2" stroke="#8fe08f" stroke-width="0.9" />
<line x1="549.24" y1="27.8" x2="551.84" y2="27.8" stroke="#8fe08f" stroke-width="0.9" />
<line x1="549.24" y1="48.2" x2="551.84" y2="48.2" stroke="#8fe08f" stroke-width="0.9" />
<line x1="561.73" y1="27.8" x2="561.73" y2="48.2" stroke="#8fe08f" stroke-width="0.9" />
<line x1="560.43" y1="27.8" x2="563.02" y2="27.8" stroke="#8fe08f" stroke-width="0.9" />
<line x1="560.43" y1="48.2" x2="563.02" y2="48.2" stroke="#8fe08f" stroke-width="0.9" />
<line x1="572.91" y1="36.3" x2="572.91" y2="56.7" stroke="#8fe08f" stroke-width="0.9" />
<line x1="571.61" y1="36.3" x2="574.21" y2="36.3" stroke="#8fe08f" stroke-width="0.9" />
<line x1="571.61" y1="56.7" x2="574.21" y2="56.7" stroke="#8fe08f" stroke-width="0.9" />
<line x1="584.1" y1="44.8" x2="584.1" y2="65.2" stroke="#8fe08f" stroke-width="0.9" />
<line x1="582.8" y1="44.8" x2="585.4" y2="44.8" stroke="#8fe08f" stroke-width="0.9" />
<line x1="582.8" y1="65.2" x2="585.4" y2="65.2" stroke="#8fe08f" stroke-width="0.9" />
<line x1="595.29" y1="53.3" x2="595.29" y2="73.7" stroke="#8fe08f" stroke-width="0.9" />
<line x1="593.99" y1="53.3" x2="596.59" y2="53.3" stroke="#8fe08f" stroke-width="0.9" />
<line x1="593.99" y1="73.7" x2="596.59" y2="73.7" stroke="#8fe08f" stroke-width="0.9" />
<line x1="606.48" y1="61.8" x2="606.48" y2="82.2" stroke="#8fe08f" stroke-width="0.9" />
<line x1="605.18" y1="61.8" x2="607.77" y2="61.8" stroke="#8fe08f" stroke-width="0.9" />
<line x1="605.18" y1="82.2" x2="607.77" y2="82.2" stroke="#8fe08f" stroke-width="0.9" />
<line x1="617.66" y1="61.8" x2="617.66" y2="82.2" stroke="#8fe08f" stroke-width="0.9" />
<line x1="616.36" y1="61.8" x2="618.96" y2="61.8" stroke="#8fe08f" stroke-width="0.9" />
<line x1="616.36" y1="82.2" x2="618.96" y2="82.2" stroke="#8fe08f" stroke-width="0.9" />
<line x1="628.85" y1="78.8" x2="628.85" y2="99.2" stroke="#8fe08f" stroke-width="0.9" />
<line x1="627.55" y1="78.8" x2="630.15" y2="78.8" stroke="#8fe08f" stroke-width="0.9" />
<line x1="627.55" y1="99.2" x2="630.15" y2="99.2" stroke="#8fe08f" stroke-width="0.9" />
<line x1="640.04" y1="87.3" x2="640.04" y2="107.7" stroke="#8fe08f" stroke-width="0.9" />
<line x1="638.74" y1="87.3" x2="641.34" y2="87.3" stroke="#8fe08f" stroke-width="0.9" />
<line x1="638.74" y1="107.7" x2="641.34" y2="107.7" stroke="#8fe08f" stroke-width="0.9" />
<line x1="651.23" y1="112.8" x2="651.23" y2="133.2" stroke="#8fe08f" stroke-width="0.9" />
<line x1="649.93" y1="112.8" x2="652.52" y2="112.8" stroke="#8fe08f" stroke-width="0.9" />
<line x1="649.93" y1="133.2" x2="652.52" y2="133.2" stroke="#8fe08f" stroke-width="0.9" />
<line x1="662.41" y1="112.8" x2="662.41" y2="133.2" stroke="#8fe08f" stroke-width="0.9" />
<line x1="661.11" y1="112.8" x2="663.71" y2="112.8" stroke="#8fe08f" stroke-width="0.9" />
<line x1="661.11" y1="133.2" x2="663.71" y2="133.2" stroke="#8fe08f" stroke-width="0.9" />
<line x1="673.6" y1="155.3" x2="673.6" y2="175.7" stroke="#8fe08f" stroke-width="0.9" />
<line x1="672.3" y1="155.3" x2="674.9" y2="155.3" stroke="#8fe08f" stroke-width="0.9" />
<line x1="672.3" y1="175.7" x2="674.9" y2="175.7" stroke="#8fe08f" stroke-width="0.9" />
<polygon points="494.6,0.9 497.7,4 494.6,7.1 491.5,4" fill="#2eb52e" stroke="#2eb52e" stroke-width="0.6"/>
<polygon points="505.79,26.4 508.89,29.5 505.79,32.6 502.69,29.5" fill="#2eb52e" stroke="#2eb52e" stroke-width="0.6"/>
<polygon points="516.98,17.9 520.08,21 516.98,24.1 513.88,21" fill="#2eb52e" stroke="#2eb52e" stroke-width="0.6"/>
<polygon points="528.16,17.9 531.26,21 528.16,24.1 525.06,21" fill="#2eb52e" stroke="#2eb52e" stroke-width="0.6"/>
<polygon points="539.35,51.9 542.45,55 539.35,58.1 536.25,55" fill="#2eb52e" stroke="#2eb52e" stroke-width="0.6"/>
<polygon points="550.54,34.9 553.64,38 550.54,41.1 547.44,38" fill="#2eb52e" stroke="#2eb52e" stroke-width="0.6"/>
<polygon points="561.73,34.9 564.83,38 561.73,41.1 558.62,38" fill="#2eb52e" stroke="#2eb52e" stroke-width="0.6"/>
<polygon points="572.91,43.4 576.01,46.5 572.91,49.6 569.81,46.5" fill="#2eb52e" stroke="#2eb52e" stroke-width="0.6"/>
<polygon points="584.1,51.9 587.2,55 584.1,58.1 581,55" fill="#2eb52e" stroke="#2eb52e" stroke-width="0.6"/>
<polygon points="595.29,60.4 598.39,63.5 595.29,66.6 592.19,63.5" fill="#2eb52e" stroke="#2eb52e" stroke-width="0.6"/>
<polygon points="606.48,68.9 609.58,72 606.48,75.1 603.38,72" fill="#2eb52e" stroke="#2eb52e" stroke-width="0.6"/>
<polygon points="617.66,68.9 620.76,72 617.66,75.1 614.56,72" fill="#2eb52e" stroke="#2eb52e" stroke-width="0.6"/>
<polygon points="628.85,85.9 631.95,89 628.85,92.1 625.75,89" fill="#2eb52e" stroke="#2eb52e" stroke-width="0.6"/>
<polygon points="640.04,94.4 643.14,97.5 640.04,100.6 636.94,97.5" fill="#2eb52e" stroke="#2eb52e" stroke-width="0.6"/>
<polygon points="651.23,119.9 654.33,123 651.23,126.1 648.12,123" fill="#2eb52e" stroke="#2eb52e" stroke-width="0.6"/>
<polygon points="662.41,119.9 665.51,123 662.41,126.1 659.31,123" fill="#2eb52e" stroke="#2eb52e" stroke-width="0.6"/>
<polygon points="673.6,162.4 676.7,165.5 673.6,168.6 670.5,165.5" fill="#2eb52e" stroke="#2eb52e" stroke-width="0.6"/>
</g>
<rect x="494.5" y="0.5" width="187.5" height="165" stroke="#5a5a5a" stroke-width="1" fill="none" />
<line x1="494.6" y1="165.5" x2="494.6" y2="162.5" stroke="#2b2b2b" stroke-width="0.9" />
<line x1="494.6" y1="0.5" x2="494.6" y2="3.5" stroke="#2b2b2b" stroke-width="0.9" />
<line x1="539.35" y1="165.5" x2="539.35" y2="162.5" stroke="#2b2b2b" stroke-width="0.9" />
<line x1="539.35" y1="0.5" x2="539.35" y2="3.5" stroke="#2b2b2b" stroke-width="0.9" />
<line x1="584.1" y1="165.5" x2="584.1" y2="162.5" stroke="#2b2b2b" stroke-width="0.9" />
<line x1="584.1" y1="0.5" x2="584.1" y2="3.5" stroke="#2b2b2b" stroke-width="0.9" />
<line x1="628.85" y1="165.5" x2="628.85" y2="162.5" stroke="#2b2b2b" stroke-width="0.9" />
<line x1="628.85" y1="0.5" x2="628.85" y2="3.5" stroke="#2b2b2b" stroke-width="0.9" />
<line x1="673.6" y1="165.5" x2="673.6" y2="162.5" stroke="#2b2b2b" stroke-width="0.9" />
<line x1="673.6" y1="0.5" x2="673.6" y2="3.5" stroke="#2b2b2b" stroke-width="0.9" />
<line x1="516.98" y1="165.5" x2="516.98" y2="163.9" stroke="#2b2b2b" stroke-width="0.9" />
<line x1="516.98" y1="0.5" x2="516.98" y2="2.1" stroke="#2b2b2b" stroke-width="0.9" />
<line x1="561.73" y1="165.5" x2="561.73" y2="163.9" stroke="#2b2b2b" stroke-width="0.9" />
<line x1="561.73" y1="0.5" x2="561.73" y2="2.1" stroke="#2b2b2b" stroke-width="0.9" />
<line x1="606.48" y1="165.5" x2="606.48" y2="163.9" stroke="#2b2b2b" stroke-width="0.9" />
<line x1="606.48" y1="0.5" x2="606.48" y2="2.1" stroke="#2b2b2b" stroke-width="0.9" />
<line x1="651.23" y1="165.5" x2="651.23" y2="163.9" stroke="#2b2b2b" stroke-width="0.9" />
<line x1="651.23" y1="0.5" x2="651.23" y2="2.1" stroke="#2b2b2b" stroke-width="0.9" />
<line x1="494.5" y1="123" x2="497.5" y2="123" stroke="#2b2b2b" stroke-width="0.9" />
<line x1="682" y1="123" x2="679" y2="123" stroke="#2b2b2b" stroke-width="0.9" />
<line x1="494.5" y1="38" x2="497.5" y2="38" stroke="#2b2b2b" stroke-width="0.9" />
<line x1="682" y1="38" x2="679" y2="38" stroke="#2b2b2b" stroke-width="0.9" />
<line x1="494.5" y1="80.5" x2="496.1" y2="80.5" stroke="#2b2b2b" stroke-width="0.9" />
<line x1="682" y1="80.5" x2="680.4" y2="80.5" stroke="#2b2b2b" stroke-width="0.9" />
<text x="494.6" y="179.24" font-size="11" text-anchor="middle" fill="#1a1a1a"  stroke="#1a1a1a" stroke-width="0.15">0</text>
<text x="539.35" y="179.24" font-size="11" text-anchor="middle" fill="#1a1a1a"  stroke="#1a1a1a" stroke-width="0.15">1</text>
<text x="584.1" y="179.24" font-size="11" text-anchor="middle" fill="#1a1a1a"  stroke="#1a1a1a" stroke-width="0.15">2</text>
<text x="628.85" y="179.24" font-size="11" text-anchor="middle" fill="#1a1a1a"  stroke="#1a1a1a" stroke-width="0.15">3</text>
<text x="673.6" y="179.24" font-size="11" text-anchor="middle" fill="#1a1a1a"  stroke="#1a1a1a" stroke-width="0.15">4</text>
<text x="490.6" y="42.14" font-size="11" text-anchor="end" fill="#1a1a1a"  stroke="#1a1a1a" stroke-width="0.15">0.2</text>
<text x="490.6" y="127.14" font-size="11" text-anchor="end" fill="#1a1a1a"  stroke="#1a1a1a" stroke-width="0.15">0.1</text>
<text x="588.6" y="192.6" font-size="11" text-anchor="middle" fill="#1a1a1a" stroke="#1a1a1a" stroke-width="0.15"><tspan font-style="italic">B</tspan><tspan font-size="7" dy="3" fill="#777">⊥</tspan><tspan dy="-3"> (T)</tspan></text>
<text transform="translate(473.4,85.5) rotate(-90)" font-size="11" text-anchor="middle" fill="#1a1a1a" stroke="#1a1a1a" stroke-width="0.15"><tspan font-style="italic">I</tspan><tspan font-size="8" dy="2.5" fill="#666">c, ⊥</tspan><tspan dy="-2.5"> (µA)</tspan></text>
<text x="674.8" y="17.3" font-size="10.4" text-anchor="end" fill="#1a1a1a" stroke="#1a1a1a" stroke-width="0.15"><tspan font-style="italic">a</tspan> = 1.04</text>
<text x="674.8" y="29.8" font-size="10.4" text-anchor="end" fill="#1a1a1a" stroke="#1a1a1a" stroke-width="0.15"><tspan font-style="italic">b</tspan> = 0.27</text>
<text x="471.2" y="10.55" font-size="13" text-anchor="middle" fill="#1a1a1a" font-weight="bold"  stroke="#1a1a1a" stroke-width="0.15">c</text>
<clipPath id="cf"><rect x="494.5" y="203.5" width="187" height="165"/></clipPath>
<g clip-path="url(#cf)">
<polyline points="494.6,210.6 495.3,211.7 496.3,213.1 497.4,214.8 498.7,216.8 500,218.9 501.4,221.2 502.7,223.7 503.9,226.4 505.1,229.1 506.3,232 507.4,235.1 508.6,238.3 509.8,241.8 510.9,245.5 512.1,249.4 513.3,253.7 514.4,258.5 515.6,263.9 516.8,269.8 517.9,275.8 519.1,281.7 520.3,287.4 521.4,292.5 522.6,296.8 523.8,300.5 524.9,303.9 526.1,306.8 527.3,309.4 528.4,311.6 529.6,313.3 530.8,314.7 531.9,315.5 533.1,315.8 534.3,315.6 535.4,314.9 536.6,313.8 537.8,312.3 538.9,310.7 540.1,308.8 541.3,306.9 542.5,304.6 543.7,301.8 544.9,298.7 546.2,295.4 547.4,292.2 548.5,289.2 549.6,286.6 550.6,284.6 551.5,283.2 552.3,282.2 553,281.6 553.6,281.2 554.3,281 554.9,281 555.5,281 556.2,281 556.9,281 557.6,281.2 558.2,281.4 558.9,281.7 559.6,282.2 560.3,282.8 561,283.6 561.8,284.6 562.6,285.8 563.5,287.1 564.4,288.6 565.3,290.2 566.2,292 567.2,293.9 568.2,296 569.3,298.3 570.3,300.8 571.5,303.6 572.6,306.6 573.8,309.7 575,312.9 576.2,316 577.4,319.1 578.6,322 579.8,324.8 581,327.8 582.3,330.7 583.6,333.5 584.8,336.3 585.9,338.8 587,341 587.9,342.8 588.7,344.3 589.4,345.5 589.9,346.5 590.4,347.2 590.9,347.7 591.4,348.1 591.9,348.4 592.4,348.6 593,348.7 593.5,348.8 594,348.8 594.5,348.6 595.1,348.2 595.7,347.6 596.4,346.8 597.3,345.7 598.2,344.3 599.3,342.5 600.4,340.5 601.6,338.2 602.9,335.9 604.2,333.5 605.4,331.3 606.6,329.2 607.8,327.1 609,324.9 610.3,322.7 611.5,320.5 612.7,318.5 613.9,316.7 614.9,315.2 615.9,314.1 616.8,313.4 617.6,313.2 618.3,313.2 619,313.5 619.6,313.9 620.2,314.4 620.8,315 621.5,315.5 622.2,316 622.9,316.6 623.5,317.2 624.2,317.9 624.9,318.7 625.6,319.6 626.3,320.7 627.1,322 628,323.6 628.9,325.4 629.8,327.5 630.7,329.6 631.7,331.8 632.7,334 633.6,336 634.6,337.8 635.5,339.5 636.5,341.2 637.6,342.8 638.6,344.4 639.5,345.8 640.4,347 641.3,347.9 642.1,348.6 642.7,348.9 643.2,349 643.6,348.9 643.9,348.5 644.3,348 644.7,347.3 645.2,346.6 645.8,345.7 646.5,344.7 647.4,343.2 648.3,341.6 649.3,339.9 650.3,338.3 651.3,336.8 652.3,335.7 653.3,334.9 654.2,334.6 655,334.6 655.9,334.8 656.8,335.2 657.6,335.8 658.6,336.5 659.6,337.5 660.7,338.5 662,339.8 663.3,341.3 664.7,343.1 666.2,345 667.7,346.9 669.2,349 670.6,351 671.9,352.9 673.2,354.9 674.6,357.1 676,359.4 677.3,361.7 678.5,363.9 679.6,365.9 680.5,367.5 681.2,368.7" stroke="#7a7a7a" stroke-width="0.95" fill="none" stroke-linejoin="round" stroke-dasharray="2.8,1.9"/>
<line x1="494.6" y1="203.55" x2="494.6" y2="217.55" stroke="#90e490" stroke-width="0.8" />
<line x1="493.4" y1="203.55" x2="495.8" y2="203.55" stroke="#90e490" stroke-width="0.8" />
<line x1="493.4" y1="217.55" x2="495.8" y2="217.55" stroke="#90e490" stroke-width="0.8" />
<line x1="503.93" y1="217.93" x2="503.93" y2="231.93" stroke="#90e490" stroke-width="0.8" />
<line x1="502.73" y1="217.93" x2="505.13" y2="217.93" stroke="#90e490" stroke-width="0.8" />
<line x1="502.73" y1="231.93" x2="505.13" y2="231.93" stroke="#90e490" stroke-width="0.8" />
<line x1="513.26" y1="246.69" x2="513.26" y2="260.69" stroke="#90e490" stroke-width="0.8" />
<line x1="512.06" y1="246.69" x2="514.47" y2="246.69" stroke="#90e490" stroke-width="0.8" />
<line x1="512.06" y1="260.69" x2="514.47" y2="260.69" stroke="#90e490" stroke-width="0.8" />
<line x1="522.6" y1="297.02" x2="522.6" y2="311.02" stroke="#90e490" stroke-width="0.8" />
<line x1="521.4" y1="297.02" x2="523.8" y2="297.02" stroke="#90e490" stroke-width="0.8" />
<line x1="521.4" y1="311.02" x2="523.8" y2="311.02" stroke="#90e490" stroke-width="0.8" />
<line x1="531.93" y1="311.4" x2="531.93" y2="325.4" stroke="#90e490" stroke-width="0.8" />
<line x1="530.73" y1="311.4" x2="533.13" y2="311.4" stroke="#90e490" stroke-width="0.8" />
<line x1="530.73" y1="325.4" x2="533.13" y2="325.4" stroke="#90e490" stroke-width="0.8" />
<line x1="541.26" y1="304.21" x2="541.26" y2="318.21" stroke="#90e490" stroke-width="0.8" />
<line x1="540.06" y1="304.21" x2="542.46" y2="304.21" stroke="#90e490" stroke-width="0.8" />
<line x1="540.06" y1="318.21" x2="542.46" y2="318.21" stroke="#90e490" stroke-width="0.8" />
<line x1="550.6" y1="268.26" x2="550.6" y2="282.26" stroke="#90e490" stroke-width="0.8" />
<line x1="549.39" y1="268.26" x2="551.8" y2="268.26" stroke="#90e490" stroke-width="0.8" />
<line x1="549.39" y1="282.26" x2="551.8" y2="282.26" stroke="#90e490" stroke-width="0.8" />
<line x1="559.93" y1="275.45" x2="559.93" y2="289.45" stroke="#90e490" stroke-width="0.8" />
<line x1="558.73" y1="275.45" x2="561.13" y2="275.45" stroke="#90e490" stroke-width="0.8" />
<line x1="558.73" y1="289.45" x2="561.13" y2="289.45" stroke="#90e490" stroke-width="0.8" />
<line x1="569.26" y1="289.83" x2="569.26" y2="303.83" stroke="#90e490" stroke-width="0.8" />
<line x1="568.06" y1="289.83" x2="570.46" y2="289.83" stroke="#90e490" stroke-width="0.8" />
<line x1="568.06" y1="303.83" x2="570.46" y2="303.83" stroke="#90e490" stroke-width="0.8" />
<line x1="578.59" y1="311.4" x2="578.59" y2="325.4" stroke="#90e490" stroke-width="0.8" />
<line x1="577.39" y1="311.4" x2="579.79" y2="311.4" stroke="#90e490" stroke-width="0.8" />
<line x1="577.39" y1="325.4" x2="579.79" y2="325.4" stroke="#90e490" stroke-width="0.8" />
<line x1="587.92" y1="340.16" x2="587.92" y2="354.16" stroke="#90e490" stroke-width="0.8" />
<line x1="586.72" y1="340.16" x2="589.12" y2="340.16" stroke="#90e490" stroke-width="0.8" />
<line x1="586.72" y1="354.16" x2="589.12" y2="354.16" stroke="#90e490" stroke-width="0.8" />
<line x1="597.26" y1="340.16" x2="597.26" y2="354.16" stroke="#90e490" stroke-width="0.8" />
<line x1="596.06" y1="340.16" x2="598.46" y2="340.16" stroke="#90e490" stroke-width="0.8" />
<line x1="596.06" y1="354.16" x2="598.46" y2="354.16" stroke="#90e490" stroke-width="0.8" />
<line x1="606.59" y1="325.78" x2="606.59" y2="339.78" stroke="#90e490" stroke-width="0.8" />
<line x1="605.39" y1="325.78" x2="607.79" y2="325.78" stroke="#90e490" stroke-width="0.8" />
<line x1="605.39" y1="339.78" x2="607.79" y2="339.78" stroke="#90e490" stroke-width="0.8" />
<line x1="615.92" y1="304.21" x2="615.92" y2="318.21" stroke="#90e490" stroke-width="0.8" />
<line x1="614.72" y1="304.21" x2="617.12" y2="304.21" stroke="#90e490" stroke-width="0.8" />
<line x1="614.72" y1="318.21" x2="617.12" y2="318.21" stroke="#90e490" stroke-width="0.8" />
<line x1="625.25" y1="311.4" x2="625.25" y2="325.4" stroke="#90e490" stroke-width="0.8" />
<line x1="624.05" y1="311.4" x2="626.46" y2="311.4" stroke="#90e490" stroke-width="0.8" />
<line x1="624.05" y1="325.4" x2="626.46" y2="325.4" stroke="#90e490" stroke-width="0.8" />
<line x1="634.59" y1="332.97" x2="634.59" y2="346.97" stroke="#90e490" stroke-width="0.8" />
<line x1="633.39" y1="332.97" x2="635.79" y2="332.97" stroke="#90e490" stroke-width="0.8" />
<line x1="633.39" y1="346.97" x2="635.79" y2="346.97" stroke="#90e490" stroke-width="0.8" />
<line x1="643.92" y1="347.35" x2="643.92" y2="361.35" stroke="#90e490" stroke-width="0.8" />
<line x1="642.72" y1="347.35" x2="645.12" y2="347.35" stroke="#90e490" stroke-width="0.8" />
<line x1="642.72" y1="361.35" x2="645.12" y2="361.35" stroke="#90e490" stroke-width="0.8" />
<line x1="653.25" y1="325.78" x2="653.25" y2="339.78" stroke="#90e490" stroke-width="0.8" />
<line x1="652.05" y1="325.78" x2="654.45" y2="325.78" stroke="#90e490" stroke-width="0.8" />
<line x1="652.05" y1="339.78" x2="654.45" y2="339.78" stroke="#90e490" stroke-width="0.8" />
<line x1="662.59" y1="332.97" x2="662.59" y2="346.97" stroke="#90e490" stroke-width="0.8" />
<line x1="661.38" y1="332.97" x2="663.79" y2="332.97" stroke="#90e490" stroke-width="0.8" />
<line x1="661.38" y1="346.97" x2="663.79" y2="346.97" stroke="#90e490" stroke-width="0.8" />
<line x1="671.92" y1="347.35" x2="671.92" y2="361.35" stroke="#90e490" stroke-width="0.8" />
<line x1="670.72" y1="347.35" x2="673.12" y2="347.35" stroke="#90e490" stroke-width="0.8" />
<line x1="670.72" y1="361.35" x2="673.12" y2="361.35" stroke="#90e490" stroke-width="0.8" />
<line x1="681.25" y1="361.73" x2="681.25" y2="375.73" stroke="#90e490" stroke-width="0.8" />
<line x1="680.05" y1="361.73" x2="682.45" y2="361.73" stroke="#90e490" stroke-width="0.8" />
<line x1="680.05" y1="375.73" x2="682.45" y2="375.73" stroke="#90e490" stroke-width="0.8" />
<rect x="492.8" y="208.75" width="3.6" height="3.6" stroke="#30b830" stroke-width="0.5" fill="#30b830" />
<rect x="502.13" y="223.13" width="3.6" height="3.6" stroke="#30b830" stroke-width="0.5" fill="#30b830" />
<rect x="511.46" y="251.89" width="3.6" height="3.6" stroke="#30b830" stroke-width="0.5" fill="#30b830" />
<rect x="520.8" y="302.22" width="3.6" height="3.6" stroke="#30b830" stroke-width="0.5" fill="#30b830" />
<rect x="530.13" y="316.6" width="3.6" height="3.6" stroke="#30b830" stroke-width="0.5" fill="#30b830" />
<rect x="539.46" y="309.41" width="3.6" height="3.6" stroke="#30b830" stroke-width="0.5" fill="#30b830" />
<rect x="548.8" y="273.46" width="3.6" height="3.6" stroke="#30b830" stroke-width="0.5" fill="#30b830" />
<rect x="558.13" y="280.65" width="3.6" height="3.6" stroke="#30b830" stroke-width="0.5" fill="#30b830" />
<rect x="567.46" y="295.03" width="3.6" height="3.6" stroke="#30b830" stroke-width="0.5" fill="#30b830" />
<rect x="576.79" y="316.6" width="3.6" height="3.6" stroke="#30b830" stroke-width="0.5" fill="#30b830" />
<rect x="586.12" y="345.36" width="3.6" height="3.6" stroke="#30b830" stroke-width="0.5" fill="#30b830" />
<rect x="595.46" y="345.36" width="3.6" height="3.6" stroke="#30b830" stroke-width="0.5" fill="#30b830" />
<rect x="604.79" y="330.98" width="3.6" height="3.6" stroke="#30b830" stroke-width="0.5" fill="#30b830" />
<rect x="614.12" y="309.41" width="3.6" height="3.6" stroke="#30b830" stroke-width="0.5" fill="#30b830" />
<rect x="623.46" y="316.6" width="3.6" height="3.6" stroke="#30b830" stroke-width="0.5" fill="#30b830" />
<rect x="632.79" y="338.17" width="3.6" height="3.6" stroke="#30b830" stroke-width="0.5" fill="#30b830" />
<rect x="642.12" y="352.55" width="3.6" height="3.6" stroke="#30b830" stroke-width="0.5" fill="#30b830" />
<rect x="651.45" y="330.98" width="3.6" height="3.6" stroke="#30b830" stroke-width="0.5" fill="#30b830" />
<rect x="660.79" y="338.17" width="3.6" height="3.6" stroke="#30b830" stroke-width="0.5" fill="#30b830" />
<rect x="670.12" y="352.55" width="3.6" height="3.6" stroke="#30b830" stroke-width="0.5" fill="#30b830" />
<rect x="679.45" y="366.93" width="3.6" height="3.6" stroke="#30b830" stroke-width="0.5" fill="#30b830" />
</g>
<rect x="494.5" y="203.5" width="187" height="165" stroke="#2b2b2b" stroke-width="1" fill="none" />
<line x1="494.6" y1="368.5" x2="494.6" y2="365.5" stroke="#2b2b2b" stroke-width="0.9" />
<line x1="531.93" y1="368.5" x2="531.93" y2="365.5" stroke="#2b2b2b" stroke-width="0.9" />
<line x1="569.26" y1="368.5" x2="569.26" y2="365.5" stroke="#2b2b2b" stroke-width="0.9" />
<line x1="606.59" y1="368.5" x2="606.59" y2="365.5" stroke="#2b2b2b" stroke-width="0.9" />
<line x1="643.92" y1="368.5" x2="643.92" y2="365.5" stroke="#2b2b2b" stroke-width="0.9" />
<line x1="681.25" y1="368.5" x2="681.25" y2="365.5" stroke="#2b2b2b" stroke-width="0.9" />
<line x1="513.26" y1="368.5" x2="513.26" y2="366.9" stroke="#2b2b2b" stroke-width="0.9" />
<line x1="550.6" y1="368.5" x2="550.6" y2="366.9" stroke="#2b2b2b" stroke-width="0.9" />
<line x1="587.92" y1="368.5" x2="587.92" y2="366.9" stroke="#2b2b2b" stroke-width="0.9" />
<line x1="625.25" y1="368.5" x2="625.25" y2="366.9" stroke="#2b2b2b" stroke-width="0.9" />
<line x1="662.59" y1="368.5" x2="662.59" y2="366.9" stroke="#2b2b2b" stroke-width="0.9" />
<line x1="494.5" y1="318.4" x2="497.5" y2="318.4" stroke="#2b2b2b" stroke-width="0.9" />
<line x1="494.5" y1="246.5" x2="497.5" y2="246.5" stroke="#2b2b2b" stroke-width="0.9" />
<line x1="494.5" y1="354.35" x2="496.1" y2="354.35" stroke="#2b2b2b" stroke-width="0.9" />
<line x1="494.5" y1="282.45" x2="496.1" y2="282.45" stroke="#2b2b2b" stroke-width="0.9" />
<line x1="494.5" y1="210.55" x2="496.1" y2="210.55" stroke="#2b2b2b" stroke-width="0.9" />
<text x="494.6" y="381.54" font-size="11" text-anchor="middle" fill="#1a1a1a"  stroke="#1a1a1a" stroke-width="0.15">0</text>
<text x="531.93" y="381.54" font-size="11" text-anchor="middle" fill="#1a1a1a"  stroke="#1a1a1a" stroke-width="0.15">1</text>
<text x="569.26" y="381.54" font-size="11" text-anchor="middle" fill="#1a1a1a"  stroke="#1a1a1a" stroke-width="0.15">2</text>
<text x="606.59" y="381.54" font-size="11" text-anchor="middle" fill="#1a1a1a"  stroke="#1a1a1a" stroke-width="0.15">3</text>
<text x="643.92" y="381.54" font-size="11" text-anchor="middle" fill="#1a1a1a"  stroke="#1a1a1a" stroke-width="0.15">4</text>
<text x="681.25" y="381.54" font-size="11" text-anchor="middle" fill="#1a1a1a"  stroke="#1a1a1a" stroke-width="0.15">5</text>
<text x="490.6" y="250.64" font-size="11" text-anchor="end" fill="#1a1a1a"  stroke="#1a1a1a" stroke-width="0.15">0.2</text>
<text x="490.6" y="322.54" font-size="11" text-anchor="end" fill="#1a1a1a"  stroke="#1a1a1a" stroke-width="0.15">0.1</text>
<text x="594.6" y="394.4" font-size="11" text-anchor="middle" fill="#1a1a1a" stroke="#1a1a1a" stroke-width="0.15"><tspan font-style="italic">B</tspan><tspan font-size="8" dy="2.5">||</tspan><tspan dy="-2.5"> (T)</tspan></text>
<text transform="translate(475,286) rotate(-90)" font-size="11" text-anchor="middle" fill="#1a1a1a" stroke="#1a1a1a" stroke-width="0.15"><tspan font-style="italic">I</tspan><tspan font-size="8" dy="2.5">c, ||</tspan><tspan dy="-2.5"> (µA)</tspan></text>
<text x="471.2" y="212.15" font-size="13" text-anchor="middle" fill="#1a1a1a" font-weight="bold"  stroke="#1a1a1a" stroke-width="0.15">f</text>
<clipPath id="cd"><rect x="37" y="203.5" width="187.5" height="165"/></clipPath>
<line x1="130.5" y1="203.5" x2="130.5" y2="368.5" stroke="#505050" stroke-width="1" />
<line x1="37" y1="286" x2="224.5" y2="286" stroke="#505050" stroke-width="1" />
<g clip-path="url(#cd)" fill="none">
<polyline points="33.8,330.9 36.2,329.8 38.6,328.6 41,327.4 43.5,326.2 45.9,325 48.3,323.9 50.7,322.7 53.1,321.5 55.5,320.3 58,319.1 60.4,317.9 62.8,316.8 65.2,315.6 67.6,314.4 70.1,313.2 72.5,312 74.9,310.9 77.3,309.7 79.7,308.5 82.1,307.3 84.6,306.1 87,305 89.4,303.8 91.8,302.6 94.2,301.4 96.6,300.2 99.1,299.1 101.5,297.9 103.9,296.7 106.3,295.5 108.7,294.3 111.2,293.2 113.6,292 116,290.8 118.4,289.6 120.8,288.5 123.2,287.4 125.7,286.6 128.1,286.2 130.5,286.1 132.9,286 135.3,285.6 137.8,284.8 140.2,283.7 142.6,282.6 145,281.4 147.4,280.2 149.8,279 152.3,277.9 154.7,276.7 157.1,275.5 159.5,274.3 161.9,273.1 164.4,272 166.8,270.8 169.2,269.6 171.6,268.4 174,267.2 176.4,266.1 178.9,264.9 181.3,263.7 183.7,262.5 186.1,261.3 188.5,260.2 190.9,259 193.4,257.8 195.8,256.6 198.2,255.4 200.6,254.3 203,253.1 205.5,251.9 207.9,250.7 210.3,249.5 212.7,248.3 215.1,247.2 217.5,246 220,244.8 222.4,243.6 224.8,242.4 227.2,241.3" stroke="#b434e0" stroke-width="1.1" fill="none" stroke-linejoin="round" />
<polyline points="33.8,335.4 36.2,334.1 38.6,332.8 41,331.5 43.5,330.2 45.9,328.9 48.3,327.6 50.7,326.3 53.1,325.1 55.5,323.8 58,322.5 60.4,321.2 62.8,319.9 65.2,318.6 67.6,317.3 70.1,316 72.5,314.7 74.9,313.4 77.3,312.1 79.7,310.8 82.1,309.5 84.6,308.2 87,306.9 89.4,305.6 91.8,304.3 94.2,303 96.6,301.7 99.1,300.4 101.5,299.1 103.9,297.8 106.3,296.5 108.7,295.2 111.2,293.9 113.6,292.6 116,291.3 118.4,290 120.8,288.8 123.2,287.6 125.7,286.7 128.1,286.2 130.5,286.1 132.9,286 135.3,285.5 137.8,284.6 140.2,283.4 142.6,282.2 145,280.9 147.4,279.6 149.8,278.3 152.3,277 154.7,275.7 157.1,274.4 159.5,273.1 161.9,271.8 164.4,270.5 166.8,269.2 169.2,267.9 171.6,266.6 174,265.3 176.4,264 178.9,262.7 181.3,261.4 183.7,260.1 186.1,258.8 188.5,257.5 190.9,256.2 193.4,254.9 195.8,253.6 198.2,252.3 200.6,251 203,249.7 205.5,248.4 207.9,247.1 210.3,245.9 212.7,244.6 215.1,243.3 217.5,242 220,240.7 222.4,239.4 224.8,238.1 227.2,236.8" stroke="#7a30f0" stroke-width="0.85" fill="none" stroke-linejoin="round" />
<polyline points="33.8,336.7 36.2,335.3 38.6,334 41,332.7 43.5,331.4 45.9,330 48.3,328.7 50.7,327.4 53.1,326.1 55.5,324.7 58,323.4 60.4,322.1 62.8,320.8 65.2,319.4 67.6,318.1 70.1,316.8 72.5,315.5 74.9,314.1 77.3,312.8 79.7,311.5 82.1,310.2 84.6,308.8 87,307.5 89.4,306.2 91.8,304.9 94.2,303.5 96.6,302.2 99.1,300.9 101.5,299.6 103.9,298.2 106.3,296.9 108.7,295.6 111.2,294.3 113.6,292.9 116,291.6 118.4,290.3 120.8,289 123.2,287.8 125.7,286.8 128.1,286.3 130.5,286.1 132.9,285.9 135.3,285.4 137.8,284.4 140.2,283.2 142.6,281.9 145,280.6 147.4,279.3 149.8,277.9 152.3,276.6 154.7,275.3 157.1,274 159.5,272.6 161.9,271.3 164.4,270 166.8,268.7 169.2,267.3 171.6,266 174,264.7 176.4,263.4 178.9,262 181.3,260.7 183.7,259.4 186.1,258.1 188.5,256.7 190.9,255.4 193.4,254.1 195.8,252.8 198.2,251.4 200.6,250.1 203,248.8 205.5,247.5 207.9,246.1 210.3,244.8 212.7,243.5 215.1,242.2 217.5,240.8 220,239.5 222.4,238.2 224.8,236.9 227.2,235.5" stroke="#5542ff" stroke-width="0.85" fill="none" stroke-linejoin="round" />
<polyline points="33.8,337.9 36.2,336.6 38.6,335.2 41,333.9 43.5,332.5 45.9,331.1 48.3,329.8 50.7,328.4 53.1,327.1 55.5,325.7 58,324.4 60.4,323 62.8,321.7 65.2,320.3 67.6,319 70.1,317.6 72.5,316.3 74.9,314.9 77.3,313.5 79.7,312.2 82.1,310.8 84.6,309.5 87,308.1 89.4,306.8 91.8,305.4 94.2,304.1 96.6,302.7 99.1,301.4 101.5,300 103.9,298.7 106.3,297.3 108.7,296 111.2,294.6 113.6,293.2 116,291.9 118.4,290.5 120.8,289.2 123.2,287.9 125.7,286.9 128.1,286.3 130.5,286.1 132.9,285.9 135.3,285.3 137.8,284.3 140.2,283 142.6,281.7 145,280.3 147.4,279 149.8,277.6 152.3,276.2 154.7,274.9 157.1,273.5 159.5,272.2 161.9,270.8 164.4,269.5 166.8,268.1 169.2,266.8 171.6,265.4 174,264.1 176.4,262.7 178.9,261.4 181.3,260 183.7,258.7 186.1,257.3 188.5,255.9 190.9,254.6 193.4,253.2 195.8,251.9 198.2,250.5 200.6,249.2 203,247.8 205.5,246.5 207.9,245.1 210.3,243.8 212.7,242.4 215.1,241.1 217.5,239.7 220,238.3 222.4,237 224.8,235.6 227.2,234.3" stroke="#3a56ff" stroke-width="0.85" fill="none" stroke-linejoin="round" />
<polyline points="33.8,339.2 36.2,337.8 38.6,336.4 41,335 43.5,333.6 45.9,332.3 48.3,330.9 50.7,329.5 53.1,328.1 55.5,326.7 58,325.3 60.4,324 62.8,322.6 65.2,321.2 67.6,319.8 70.1,318.4 72.5,317.1 74.9,315.7 77.3,314.3 79.7,312.9 82.1,311.5 84.6,310.1 87,308.8 89.4,307.4 91.8,306 94.2,304.6 96.6,303.2 99.1,301.8 101.5,300.5 103.9,299.1 106.3,297.7 108.7,296.3 111.2,294.9 113.6,293.6 116,292.2 118.4,290.8 120.8,289.4 123.2,288.1 125.7,287 128.1,286.3 130.5,286.1 132.9,285.9 135.3,285.2 137.8,284.1 140.2,282.8 142.6,281.4 145,280 147.4,278.6 149.8,277.3 152.3,275.9 154.7,274.5 157.1,273.1 159.5,271.7 161.9,270.4 164.4,269 166.8,267.6 169.2,266.2 171.6,264.8 174,263.4 176.4,262.1 178.9,260.7 181.3,259.3 183.7,257.9 186.1,256.5 188.5,255.1 190.9,253.8 193.4,252.4 195.8,251 198.2,249.6 200.6,248.2 203,246.9 205.5,245.5 207.9,244.1 210.3,242.7 212.7,241.3 215.1,239.9 217.5,238.6 220,237.2 222.4,235.8 224.8,234.4 227.2,233" stroke="#3470ff" stroke-width="0.85" fill="none" stroke-linejoin="round" />
<polyline points="33.8,340.4 36.2,339 38.6,337.6 41,336.2 43.5,334.8 45.9,333.4 48.3,332 50.7,330.5 53.1,329.1 55.5,327.7 58,326.3 60.4,324.9 62.8,323.5 65.2,322.1 67.6,320.7 70.1,319.3 72.5,317.9 74.9,316.4 77.3,315 79.7,313.6 82.1,312.2 84.6,310.8 87,309.4 89.4,308 91.8,306.6 94.2,305.2 96.6,303.7 99.1,302.3 101.5,300.9 103.9,299.5 106.3,298.1 108.7,296.7 111.2,295.3 113.6,293.9 116,292.5 118.4,291.1 120.8,289.7 123.2,288.3 125.7,287.1 128.1,286.4 130.5,286.1 132.9,285.8 135.3,285.1 137.8,283.9 140.2,282.5 142.6,281.1 145,279.7 147.4,278.3 149.8,276.9 152.3,275.5 154.7,274.1 157.1,272.7 159.5,271.3 161.9,269.9 164.4,268.5 166.8,267 169.2,265.6 171.6,264.2 174,262.8 176.4,261.4 178.9,260 181.3,258.6 183.7,257.2 186.1,255.8 188.5,254.3 190.9,252.9 193.4,251.5 195.8,250.1 198.2,248.7 200.6,247.3 203,245.9 205.5,244.5 207.9,243.1 210.3,241.7 212.7,240.2 215.1,238.8 217.5,237.4 220,236 222.4,234.6 224.8,233.2 227.2,231.8" stroke="#2690f8" stroke-width="0.85" fill="none" stroke-linejoin="round" />
<polyline points="33.8,341.7 36.2,340.2 38.6,338.8 41,337.4 43.5,335.9 45.9,334.5 48.3,333 50.7,331.6 53.1,330.2 55.5,328.7 58,327.3 60.4,325.8 62.8,324.4 65.2,323 67.6,321.5 70.1,320.1 72.5,318.7 74.9,317.2 77.3,315.8 79.7,314.3 82.1,312.9 84.6,311.5 87,310 89.4,308.6 91.8,307.1 94.2,305.7 96.6,304.3 99.1,302.8 101.5,301.4 103.9,300 106.3,298.5 108.7,297.1 111.2,295.6 113.6,294.2 116,292.8 118.4,291.3 120.8,289.9 123.2,288.5 125.7,287.3 128.1,286.4 130.5,286.1 132.9,285.8 135.3,284.9 137.8,283.7 140.2,282.3 142.6,280.9 145,279.4 147.4,278 149.8,276.6 152.3,275.1 154.7,273.7 157.1,272.2 159.5,270.8 161.9,269.4 164.4,267.9 166.8,266.5 169.2,265.1 171.6,263.6 174,262.2 176.4,260.7 178.9,259.3 181.3,257.9 183.7,256.4 186.1,255 188.5,253.5 190.9,252.1 193.4,250.7 195.8,249.2 198.2,247.8 200.6,246.4 203,244.9 205.5,243.5 207.9,242 210.3,240.6 212.7,239.2 215.1,237.7 217.5,236.3 220,234.8 222.4,233.4 224.8,232 227.2,230.5" stroke="#22aef0" stroke-width="0.85" fill="none" stroke-linejoin="round" />
<polyline points="33.8,342.8 36.2,341.3 38.6,339.8 41,338.4 43.5,336.9 45.9,335.4 48.3,334 50.7,332.5 53.1,331 55.5,329.6 58,328.1 60.4,326.6 62.8,325.2 65.2,323.7 67.6,322.2 70.1,320.8 72.5,319.3 74.9,317.8 77.3,316.4 79.7,314.9 82.1,313.4 84.6,312 87,310.5 89.4,309 91.8,307.6 94.2,306.1 96.6,304.6 99.1,303.2 101.5,301.7 103.9,300.2 106.3,298.8 108.7,297.3 111.2,295.8 113.6,294.4 116,292.9 118.4,291.4 120.8,290 123.2,288.6 125.7,287.3 128.1,286.4 130.5,286.1 132.9,285.8 135.3,284.9 137.8,283.6 140.2,282.2 142.6,280.8 145,279.3 147.4,277.8 149.8,276.4 152.3,274.9 154.7,273.4 157.1,272 159.5,270.5 161.9,269 164.4,267.6 166.8,266.1 169.2,264.6 171.6,263.2 174,261.7 176.4,260.2 178.9,258.8 181.3,257.3 183.7,255.8 186.1,254.4 188.5,252.9 190.9,251.4 193.4,250 195.8,248.5 198.2,247 200.6,245.6 203,244.1 205.5,242.6 207.9,241.2 210.3,239.7 212.7,238.2 215.1,236.8 217.5,235.3 220,233.8 222.4,232.4 224.8,230.9 227.2,229.4" stroke="#22c6e0" stroke-width="0.85" fill="none" stroke-linejoin="round" />
<polyline points="33.8,344 36.2,342.5 38.6,341 41,339.5 43.5,338.1 45.9,336.6 48.3,335.1 50.7,333.6 53.1,332.1 55.5,330.6 58,329.1 60.4,327.6 62.8,326.1 65.2,324.6 67.6,323.1 70.1,321.6 72.5,320.1 74.9,318.6 77.3,317.1 79.7,315.6 82.1,314.1 84.6,312.6 87,311.1 89.4,309.6 91.8,308.1 94.2,306.6 96.6,305.2 99.1,303.7 101.5,302.2 103.9,300.7 106.3,299.2 108.7,297.7 111.2,296.2 113.6,294.7 116,293.2 118.4,291.7 120.8,290.2 123.2,288.8 125.7,287.4 128.1,286.5 130.5,286.1 132.9,285.7 135.3,284.8 137.8,283.4 140.2,282 142.6,280.5 145,279 147.4,277.5 149.8,276 152.3,274.5 154.7,273 157.1,271.5 159.5,270 161.9,268.5 164.4,267 166.8,265.6 169.2,264.1 171.6,262.6 174,261.1 176.4,259.6 178.9,258.1 181.3,256.6 183.7,255.1 186.1,253.6 188.5,252.1 190.9,250.6 193.4,249.1 195.8,247.6 198.2,246.1 200.6,244.6 203,243.1 205.5,241.6 207.9,240.1 210.3,238.6 212.7,237.1 215.1,235.6 217.5,234.1 220,232.7 222.4,231.2 224.8,229.7 227.2,228.2" stroke="#22d6c2" stroke-width="0.85" fill="none" stroke-linejoin="round" />
<polyline points="33.8,345.1 36.2,343.6 38.6,342.1 41,340.6 43.5,339 45.9,337.5 48.3,336 50.7,334.5 53.1,332.9 55.5,331.4 58,329.9 60.4,328.4 62.8,326.8 65.2,325.3 67.6,323.8 70.1,322.3 72.5,320.8 74.9,319.2 77.3,317.7 79.7,316.2 82.1,314.7 84.6,313.1 87,311.6 89.4,310.1 91.8,308.6 94.2,307 96.6,305.5 99.1,304 101.5,302.5 103.9,300.9 106.3,299.4 108.7,297.9 111.2,296.4 113.6,294.8 116,293.3 118.4,291.8 120.8,290.3 123.2,288.8 125.7,287.5 128.1,286.5 130.5,286.1 132.9,285.7 135.3,284.7 137.8,283.4 140.2,281.9 142.6,280.4 145,278.9 147.4,277.4 149.8,275.8 152.3,274.3 154.7,272.8 157.1,271.3 159.5,269.7 161.9,268.2 164.4,266.7 166.8,265.2 169.2,263.6 171.6,262.1 174,260.6 176.4,259.1 178.9,257.5 181.3,256 183.7,254.5 186.1,253 188.5,251.4 190.9,249.9 193.4,248.4 195.8,246.9 198.2,245.4 200.6,243.8 203,242.3 205.5,240.8 207.9,239.3 210.3,237.7 212.7,236.2 215.1,234.7 217.5,233.2 220,231.6 222.4,230.1 224.8,228.6 227.2,227.1" stroke="#22d696" stroke-width="0.85" fill="none" stroke-linejoin="round" />
<polyline points="33.8,346.4 36.2,344.8 38.6,343.3 41,341.7 43.5,340.2 45.9,338.6 48.3,337.1 50.7,335.5 53.1,334 55.5,332.4 58,330.9 60.4,329.3 62.8,327.8 65.2,326.2 67.6,324.7 70.1,323.1 72.5,321.6 74.9,320 77.3,318.5 79.7,316.9 82.1,315.4 84.6,313.8 87,312.3 89.4,310.7 91.8,309.1 94.2,307.6 96.6,306 99.1,304.5 101.5,302.9 103.9,301.4 106.3,299.8 108.7,298.3 111.2,296.7 113.6,295.2 116,293.6 118.4,292.1 120.8,290.5 123.2,289 125.7,287.6 128.1,286.6 130.5,286.1 132.9,285.6 135.3,284.6 137.8,283.2 140.2,281.7 142.6,280.1 145,278.6 147.4,277 149.8,275.5 152.3,273.9 154.7,272.4 157.1,270.8 159.5,269.3 161.9,267.7 164.4,266.2 166.8,264.6 169.2,263.1 171.6,261.5 174,259.9 176.4,258.4 178.9,256.8 181.3,255.3 183.7,253.7 186.1,252.2 188.5,250.6 190.9,249.1 193.4,247.5 195.8,246 198.2,244.4 200.6,242.9 203,241.3 205.5,239.8 207.9,238.2 210.3,236.7 212.7,235.1 215.1,233.6 217.5,232 220,230.5 222.4,228.9 224.8,227.4 227.2,225.8" stroke="#24d666" stroke-width="0.85" fill="none" stroke-linejoin="round" />
<polyline points="33.8,347.5 36.2,345.9 38.6,344.3 41,342.8 43.5,341.2 45.9,339.6 48.3,338 50.7,336.4 53.1,334.9 55.5,333.3 58,331.7 60.4,330.1 62.8,328.5 65.2,327 67.6,325.4 70.1,323.8 72.5,322.2 74.9,320.6 77.3,319.1 79.7,317.5 82.1,315.9 84.6,314.3 87,312.7 89.4,311.2 91.8,309.6 94.2,308 96.6,306.4 99.1,304.8 101.5,303.2 103.9,301.7 106.3,300.1 108.7,298.5 111.2,296.9 113.6,295.3 116,293.8 118.4,292.2 120.8,290.6 123.2,289.1 125.7,287.6 128.1,286.6 130.5,286.1 132.9,285.6 135.3,284.6 137.8,283.1 140.2,281.6 142.6,280 145,278.4 147.4,276.9 149.8,275.3 152.3,273.7 154.7,272.1 157.1,270.5 159.5,269 161.9,267.4 164.4,265.8 166.8,264.2 169.2,262.6 171.6,261 174,259.5 176.4,257.9 178.9,256.3 181.3,254.7 183.7,253.1 186.1,251.6 188.5,250 190.9,248.4 193.4,246.8 195.8,245.2 198.2,243.7 200.6,242.1 203,240.5 205.5,238.9 207.9,237.3 210.3,235.8 212.7,234.2 215.1,232.6 217.5,231 220,229.4 222.4,227.9 224.8,226.3 227.2,224.7" stroke="#34d634" stroke-width="0.85" fill="none" stroke-linejoin="round" />
<polyline points="33.8,355.4 36.2,353.6 38.6,351.8 41,350 43.5,348.2 45.9,346.4 48.3,344.6 50.7,342.8 53.1,341 55.5,339.2 58,337.4 60.4,335.5 62.8,333.7 65.2,331.9 67.6,330.1 70.1,328.3 72.5,326.5 74.9,324.7 77.3,322.9 79.7,321.1 82.1,319.3 84.6,317.5 87,315.7 89.4,313.9 91.8,312.1 94.2,310.3 96.6,308.5 99.1,306.7 101.5,304.9 103.9,303.1 106.3,301.3 108.7,299.5 111.2,297.7 113.6,295.9 116,294.1 118.4,292.3 120.8,290.5 123.2,288.8 125.7,287.3 128.1,286.4 130.5,286.1 132.9,285.8 135.3,284.9 137.8,283.4 140.2,281.7 142.6,279.9 145,278.1 147.4,276.3 149.8,274.5 152.3,272.7 154.7,270.9 157.1,269.1 159.5,267.3 161.9,265.5 164.4,263.7 166.8,261.9 169.2,260.1 171.6,258.3 174,256.5 176.4,254.7 178.9,252.9 181.3,251.1 183.7,249.3 186.1,247.5 188.5,245.7 190.9,243.9 193.4,242.1 195.8,240.3 198.2,238.5 200.6,236.7 203,234.8 205.5,233 207.9,231.2 210.3,229.4 212.7,227.6 215.1,225.8 217.5,224 220,222.2 222.4,220.4 224.8,218.6 227.2,216.8" stroke="#a2e032" stroke-width="0.85" fill="none" stroke-linejoin="round" />
<polyline points="33.8,374.2 36.2,371.8 38.6,369.5 41,367.2 43.5,364.9 45.9,362.6 48.3,360.2 50.7,357.9 53.1,355.6 55.5,353.3 58,350.9 60.4,348.6 62.8,346.3 65.2,344 67.6,341.6 70.1,339.3 72.5,337 74.9,334.7 77.3,332.4 79.7,330 82.1,327.7 84.6,325.4 87,323.1 89.4,320.7 91.8,318.4 94.2,316.1 96.6,313.8 99.1,311.4 101.5,309.1 103.9,306.8 106.3,304.5 108.7,302.2 111.2,299.8 113.6,297.5 116,295.2 118.4,292.9 120.8,290.6 123.2,288.5 125.7,287 128.1,286.3 130.5,286.1 132.9,285.9 135.3,285.2 137.8,283.7 140.2,281.6 142.6,279.3 145,277 147.4,274.7 149.8,272.4 152.3,270 154.7,267.7 157.1,265.4 159.5,263.1 161.9,260.8 164.4,258.4 166.8,256.1 169.2,253.8 171.6,251.5 174,249.1 176.4,246.8 178.9,244.5 181.3,242.2 183.7,239.8 186.1,237.5 188.5,235.2 190.9,232.9 193.4,230.6 195.8,228.2 198.2,225.9 200.6,223.6 203,221.3 205.5,218.9 207.9,216.6 210.3,214.3 212.7,212 215.1,209.6 217.5,207.3 220,205 222.4,202.7 224.8,200.4 227.2,198" stroke="#eee034" stroke-width="0.85" fill="none" stroke-linejoin="round" />
<polyline points="33.8,376.7 36.2,374.4 38.6,372.1 41,369.8 43.5,367.5 45.9,365.2 48.3,363 50.7,360.7 53.1,358.4 55.5,356.1 58,353.8 60.4,351.5 62.8,349.2 65.2,346.9 67.6,344.6 70.1,342.3 72.5,340.1 74.9,337.8 77.3,335.5 79.7,333.2 82.1,330.9 84.6,328.6 87,326.3 89.4,324 91.8,321.7 94.2,319.4 96.6,317.1 99.1,314.9 101.5,312.6 103.9,310.3 106.3,308 108.7,305.7 111.2,303.4 113.6,301.1 116,298.8 118.4,296.5 120.8,294.2 123.2,292 125.7,289.7 128.1,287.7 130.5,286.1 132.9,284.5 135.3,282.5 137.8,280.2 140.2,278 142.6,275.7 145,273.4 147.4,271.1 149.8,268.8 152.3,266.5 154.7,264.2 157.1,261.9 159.5,259.6 161.9,257.3 164.4,255.1 166.8,252.8 169.2,250.5 171.6,248.2 174,245.9 176.4,243.6 178.9,241.3 181.3,239 183.7,236.7 186.1,234.4 188.5,232.1 190.9,229.9 193.4,227.6 195.8,225.3 198.2,223 200.6,220.7 203,218.4 205.5,216.1 207.9,213.8 210.3,211.5 212.7,209.2 215.1,207 217.5,204.7 220,202.4 222.4,200.1 224.8,197.8 227.2,195.5" stroke="#ff3456" stroke-width="1.1" fill="none" stroke-linejoin="round" />
</g>
<rect x="37" y="203.5" width="187.5" height="165" stroke="#2b2b2b" stroke-width="1" fill="none" />
<line x1="36.9" y1="368.5" x2="36.9" y2="364.3" stroke="#2b2b2b" stroke-width="0.9" />
<line x1="36.9" y1="203.5" x2="36.9" y2="207.7" stroke="#2b2b2b" stroke-width="0.9" />
<line x1="68.1" y1="368.5" x2="68.1" y2="364.3" stroke="#2b2b2b" stroke-width="0.9" />
<line x1="68.1" y1="203.5" x2="68.1" y2="207.7" stroke="#2b2b2b" stroke-width="0.9" />
<line x1="99.3" y1="368.5" x2="99.3" y2="364.3" stroke="#2b2b2b" stroke-width="0.9" />
<line x1="99.3" y1="203.5" x2="99.3" y2="207.7" stroke="#2b2b2b" stroke-width="0.9" />
<line x1="130.5" y1="368.5" x2="130.5" y2="364.3" stroke="#2b2b2b" stroke-width="0.9" />
<line x1="130.5" y1="203.5" x2="130.5" y2="207.7" stroke="#2b2b2b" stroke-width="0.9" />
<line x1="161.7" y1="368.5" x2="161.7" y2="364.3" stroke="#2b2b2b" stroke-width="0.9" />
<line x1="161.7" y1="203.5" x2="161.7" y2="207.7" stroke="#2b2b2b" stroke-width="0.9" />
<line x1="192.9" y1="368.5" x2="192.9" y2="364.3" stroke="#2b2b2b" stroke-width="0.9" />
<line x1="192.9" y1="203.5" x2="192.9" y2="207.7" stroke="#2b2b2b" stroke-width="0.9" />
<line x1="224.1" y1="368.5" x2="224.1" y2="364.3" stroke="#2b2b2b" stroke-width="0.9" />
<line x1="224.1" y1="203.5" x2="224.1" y2="207.7" stroke="#2b2b2b" stroke-width="0.9" />
<line x1="52.5" y1="368.5" x2="52.5" y2="366.3" stroke="#2b2b2b" stroke-width="0.9" />
<line x1="52.5" y1="203.5" x2="52.5" y2="205.7" stroke="#2b2b2b" stroke-width="0.9" />
<line x1="83.7" y1="368.5" x2="83.7" y2="366.3" stroke="#2b2b2b" stroke-width="0.9" />
<line x1="83.7" y1="203.5" x2="83.7" y2="205.7" stroke="#2b2b2b" stroke-width="0.9" />
<line x1="114.9" y1="368.5" x2="114.9" y2="366.3" stroke="#2b2b2b" stroke-width="0.9" />
<line x1="114.9" y1="203.5" x2="114.9" y2="205.7" stroke="#2b2b2b" stroke-width="0.9" />
<line x1="146.1" y1="368.5" x2="146.1" y2="366.3" stroke="#2b2b2b" stroke-width="0.9" />
<line x1="146.1" y1="203.5" x2="146.1" y2="205.7" stroke="#2b2b2b" stroke-width="0.9" />
<line x1="177.3" y1="368.5" x2="177.3" y2="366.3" stroke="#2b2b2b" stroke-width="0.9" />
<line x1="177.3" y1="203.5" x2="177.3" y2="205.7" stroke="#2b2b2b" stroke-width="0.9" />
<line x1="208.5" y1="368.5" x2="208.5" y2="366.3" stroke="#2b2b2b" stroke-width="0.9" />
<line x1="208.5" y1="203.5" x2="208.5" y2="205.7" stroke="#2b2b2b" stroke-width="0.9" />
<line x1="37" y1="368.5" x2="41.2" y2="368.5" stroke="#2b2b2b" stroke-width="0.9" />
<line x1="224.5" y1="368.5" x2="220.3" y2="368.5" stroke="#2b2b2b" stroke-width="0.9" />
<line x1="37" y1="327.3" x2="41.2" y2="327.3" stroke="#2b2b2b" stroke-width="0.9" />
<line x1="224.5" y1="327.3" x2="220.3" y2="327.3" stroke="#2b2b2b" stroke-width="0.9" />
<line x1="37" y1="286.1" x2="41.2" y2="286.1" stroke="#2b2b2b" stroke-width="0.9" />
<line x1="224.5" y1="286.1" x2="220.3" y2="286.1" stroke="#2b2b2b" stroke-width="0.9" />
<line x1="37" y1="244.9" x2="41.2" y2="244.9" stroke="#2b2b2b" stroke-width="0.9" />
<line x1="224.5" y1="244.9" x2="220.3" y2="244.9" stroke="#2b2b2b" stroke-width="0.9" />
<line x1="37" y1="203.7" x2="41.2" y2="203.7" stroke="#2b2b2b" stroke-width="0.9" />
<line x1="224.5" y1="203.7" x2="220.3" y2="203.7" stroke="#2b2b2b" stroke-width="0.9" />
<line x1="37" y1="347.9" x2="39.2" y2="347.9" stroke="#2b2b2b" stroke-width="0.9" />
<line x1="224.5" y1="347.9" x2="222.3" y2="347.9" stroke="#2b2b2b" stroke-width="0.9" />
<line x1="37" y1="306.7" x2="39.2" y2="306.7" stroke="#2b2b2b" stroke-width="0.9" />
<line x1="224.5" y1="306.7" x2="222.3" y2="306.7" stroke="#2b2b2b" stroke-width="0.9" />
<line x1="37" y1="265.5" x2="39.2" y2="265.5" stroke="#2b2b2b" stroke-width="0.9" />
<line x1="224.5" y1="265.5" x2="222.3" y2="265.5" stroke="#2b2b2b" stroke-width="0.9" />
<line x1="37" y1="224.3" x2="39.2" y2="224.3" stroke="#2b2b2b" stroke-width="0.9" />
<line x1="224.5" y1="224.3" x2="222.3" y2="224.3" stroke="#2b2b2b" stroke-width="0.9" />
<text x="36.9" y="381.34" font-size="11" text-anchor="middle" fill="#1a1a1a"  stroke="#1a1a1a" stroke-width="0.15">-3</text>
<text x="68.1" y="381.34" font-size="11" text-anchor="middle" fill="#1a1a1a"  stroke="#1a1a1a" stroke-width="0.15">-2</text>
<text x="99.3" y="381.34" font-size="11" text-anchor="middle" fill="#1a1a1a"  stroke="#1a1a1a" stroke-width="0.15">-1</text>
<text x="130.5" y="381.34" font-size="11" text-anchor="middle" fill="#1a1a1a"  stroke="#1a1a1a" stroke-width="0.15">0</text>
<text x="161.7" y="381.34" font-size="11" text-anchor="middle" fill="#1a1a1a"  stroke="#1a1a1a" stroke-width="0.15">1</text>
<text x="192.9" y="381.34" font-size="11" text-anchor="middle" fill="#1a1a1a"  stroke="#1a1a1a" stroke-width="0.15">2</text>
<text x="224.1" y="381.34" font-size="11" text-anchor="middle" fill="#1a1a1a"  stroke="#1a1a1a" stroke-width="0.15">3</text>
<text x="32.6" y="372.74" font-size="11" text-anchor="end" fill="#1a1a1a"  stroke="#1a1a1a" stroke-width="0.15">-1.0</text>
<text x="32.6" y="331.54" font-size="11" text-anchor="end" fill="#1a1a1a"  stroke="#1a1a1a" stroke-width="0.15">-0.5</text>
<text x="32.6" y="290.34" font-size="11" text-anchor="end" fill="#1a1a1a"  stroke="#1a1a1a" stroke-width="0.15">0.0</text>
<text x="32.6" y="249.14" font-size="11" text-anchor="end" fill="#1a1a1a"  stroke="#1a1a1a" stroke-width="0.15">0.5</text>
<text x="32.6" y="207.94" font-size="11" text-anchor="end" fill="#1a1a1a"  stroke="#1a1a1a" stroke-width="0.15">1.0</text>
<text transform="translate(10.94,285.8) rotate(-90)" font-size="11" text-anchor="middle" fill="#1a1a1a"  stroke="#1a1a1a" stroke-width="0.15"><tspan font-style="italic">V</tspan> (mV)</text>
<text x="128.9" y="395.1" font-size="10.6" text-anchor="middle" fill="#1a1a1a" stroke="#1a1a1a" stroke-width="0.15"><tspan font-style="italic">I</tspan><tspan font-size="7.8" dy="2.5">bias</tspan><tspan dy="-2.5"> (µA)</tspan></text>
<text x="3.2" y="211.75" font-size="13" text-anchor="middle" fill="#1a1a1a" font-weight="bold"  stroke="#1a1a1a" stroke-width="0.15">d</text>
<polygon points="44.6,232 50.9,228.2 106.9,228.2 100.6,232" fill="#e6e6e6" stroke="#8a8a8a" stroke-width="0.8"/>
<polygon points="100.6,232 106.9,228.2 106.9,237.5 100.6,241.3" fill="#a9a9a9" stroke="#8a8a8a" stroke-width="0.8"/>
<rect x="44.6" y="232" width="56" height="9.3" stroke="#8a8a8a" stroke-width="0.8" fill="#d4d4d4" />
<text x="64.3" y="239.21" font-size="8.4" text-anchor="middle" fill="#4a4a4a" font-weight="bold"  stroke="#4a4a4a" stroke-width="0.15">GeTe NW</text>
<line x1="86.3" y1="235.4" x2="100.6" y2="235.4" stroke="#ff5a4a" stroke-width="0.9" stroke-dasharray="2.2,1.2,0.8,1.2" />
<line x1="100.6" y1="235.4" x2="118" y2="235.4" stroke="#ff4a3a" stroke-width="1.1" />
<polygon points="123.3,235.4 117.3,237.7 118.8,235.4 117.3,233.1" fill="#ff4a3a" stroke="none" stroke-width="1"/>
<text x="111.6" y="248.54" font-size="11" text-anchor="middle" fill="#333" font-style="italic"  stroke="#333" stroke-width="0.15">B</text>
<text x="176.2" y="217.18" font-size="10" text-anchor="middle" fill="#ea2a8e"  stroke="#ea2a8e" stroke-width="0.15">7.0 T</text>
<line x1="217" y1="254" x2="191.1" y2="222.99" stroke="#222" stroke-width="0.9" stroke-dasharray="1.8,1.6" />
<polygon points="188.6,220 194.69,223.39 191.73,223.74 190.85,226.59" fill="#222" stroke="none" stroke-width="1"/>
<text x="214" y="265.58" font-size="10" text-anchor="middle" fill="#c03ae0"  stroke="#c03ae0" stroke-width="0.15">0 T</text>
<text x="221.1" y="279.6" font-size="9.5" text-anchor="end" fill="#1a1a1a" stroke="#1a1a1a" stroke-width="0.15"><tspan font-style="italic" fill="#555">Δ</tspan><tspan font-style="italic">B</tspan><tspan font-size="6.5" dy="2" fill="#555">||</tspan><tspan dy="-2"> = 0.5 T</tspan></text>
<text x="101.4" y="360.96" font-size="10.5" text-anchor="middle" fill="#1a1a1a"  stroke="#1a1a1a" stroke-width="0.15">T = 0.5 K</text>
<rect x="130.5" y="277" width="10" height="9" stroke="#222" stroke-width="0.9" fill="none" stroke-dasharray="1.6,1.3"/>
<clipPath id="cd_i"><rect x="153.8" y="289" width="67.4" height="55.6"/></clipPath>
<g clip-path="url(#cd_i)" fill="none">
<polyline points="154.1,344 155,343 155.9,341.8 156.8,340.3 157.7,338.8 158.6,337.2 159.5,335.6 160.4,334 161.3,332.3 162.2,330.7 163.1,329.1 164,327.4 164.9,325.8 165.8,324.1 166.7,322.5 167.6,320.9 168.5,319.2 169.4,317.6 170.3,316 171.2,314.3 172.1,312.7 173,311 173.9,309.4 174.8,307.8 175.7,306.1 176.6,304.5 177.5,302.9 178.4,301.2 179.3,299.6 180.2,298 181.1,296.3 182,294.7 182.9,293 183.8,291.4 184.7,289.8 185.6,288.1 186.5,286.5 187.4,284.9 188.3,283.2 189.2,281.6 190.1,280 191,278.3 191.9,276.7 192.8,275 193.7,273.4 194.6,271.8 195.5,270.1 196.4,268.5 197.3,266.9 198.2,265.2 199.1,263.6 200,261.9 200.9,260.3 201.8,258.7 202.7,257 203.6,255.4 204.5,253.8 205.4,252.1 206.3,250.5 207.2,248.9 208.1,247.2 209,245.6 209.9,243.9 210.8,242.3 211.7,240.7 212.6,239 213.5,237.4 214.4,235.8 215.3,234.1 216.2,232.5 217.1,230.8 218,229.2 218.9,227.6 219.8,225.9 220.7,224.3 221.6,222.7 222.5,221 223.4,219.4 224.3,217.8 225.2,216.1 226.1,214.5" stroke="#ff3456" stroke-width="0.85" fill="none" stroke-linejoin="round" />
<polyline points="154.1,344 155,343.5 155.9,342.9 156.8,342.2 157.7,341.3 158.6,340.4 159.5,339.3 160.4,338.3 161.3,337.2 162.2,336.1 163.1,334.9 164,333.8 164.9,332.7 165.8,331.5 166.7,330.4 167.6,329.2 168.5,328.1 169.4,326.9 170.3,325.8 171.2,324.6 172.1,323.5 173,322.3 173.9,321.2 174.8,320.1 175.7,318.9 176.6,317.8 177.5,316.6 178.4,315.5 179.3,314.3 180.2,313.2 181.1,312 182,310.9 182.9,309.7 183.8,308.6 184.7,307.4 185.6,306.3 186.5,305.2 187.4,304 188.3,302.9 189.2,301.7 190.1,300.6 191,299.4 191.9,298.3 192.8,297.1 193.7,296 194.6,294.8 195.5,293.7 196.4,292.6 197.3,291.4 198.2,290.3 199.1,289.1 200,288 200.9,286.8 201.8,285.7 202.7,284.5 203.6,283.4 204.5,282.2 205.4,281.1 206.3,279.9 207.2,278.8 208.1,277.7 209,276.5 209.9,275.4 210.8,274.2 211.7,273.1 212.6,271.9 213.5,270.8 214.4,269.6 215.3,268.5 216.2,267.3 217.1,266.2 218,265 218.9,263.9 219.8,262.8 220.7,261.6 221.6,260.5 222.5,259.3 223.4,258.2 224.3,257 225.2,255.9 226.1,254.7" stroke="#eee034" stroke-width="0.85" fill="none" stroke-linejoin="round" />
<polyline points="154.1,344 155,343.6 155.9,343.2 156.8,342.7 157.7,342 158.6,341.3 159.5,340.5 160.4,339.7 161.3,338.8 162.2,337.9 163.1,336.9 164,336 164.9,335 165.8,334 166.7,333 167.6,332.1 168.5,331.1 169.4,330.1 170.3,329.1 171.2,328.1 172.1,327.1 173,326.2 173.9,325.2 174.8,324.2 175.7,323.2 176.6,322.2 177.5,321.2 178.4,320.2 179.3,319.2 180.2,318.3 181.1,317.3 182,316.3 182.9,315.3 183.8,314.3 184.7,313.3 185.6,312.3 186.5,311.4 187.4,310.4 188.3,309.4 189.2,308.4 190.1,307.4 191,306.4 191.9,305.4 192.8,304.4 193.7,303.5 194.6,302.5 195.5,301.5 196.4,300.5 197.3,299.5 198.2,298.5 199.1,297.5 200,296.5 200.9,295.6 201.8,294.6 202.7,293.6 203.6,292.6 204.5,291.6 205.4,290.6 206.3,289.6 207.2,288.6 208.1,287.7 209,286.7 209.9,285.7 210.8,284.7 211.7,283.7 212.6,282.7 213.5,281.7 214.4,280.8 215.3,279.8 216.2,278.8 217.1,277.8 218,276.8 218.9,275.8 219.8,274.8 220.7,273.8 221.6,272.9 222.5,271.9 223.4,270.9 224.3,269.9 225.2,268.9 226.1,267.9" stroke="#a2e032" stroke-width="0.85" fill="none" stroke-linejoin="round" />
<polyline points="154.1,344 155,343.7 155.9,343.3 156.8,342.9 157.7,342.4 158.6,341.8 159.5,341.2 160.4,340.5 161.3,339.7 162.2,339 163.1,338.2 164,337.4 164.9,336.5 165.8,335.7 166.7,334.8 167.6,334 168.5,333.1 169.4,332.2 170.3,331.4 171.2,330.5 172.1,329.6 173,328.8 173.9,327.9 174.8,327 175.7,326.1 176.6,325.3 177.5,324.4 178.4,323.5 179.3,322.6 180.2,321.8 181.1,320.9 182,320 182.9,319.1 183.8,318.3 184.7,317.4 185.6,316.5 186.5,315.6 187.4,314.8 188.3,313.9 189.2,313 190.1,312.1 191,311.3 191.9,310.4 192.8,309.5 193.7,308.6 194.6,307.8 195.5,306.9 196.4,306 197.3,305.1 198.2,304.3 199.1,303.4 200,302.5 200.9,301.6 201.8,300.8 202.7,299.9 203.6,299 204.5,298.1 205.4,297.3 206.3,296.4 207.2,295.5 208.1,294.6 209,293.8 209.9,292.9 210.8,292 211.7,291.1 212.6,290.3 213.5,289.4 214.4,288.5 215.3,287.6 216.2,286.8 217.1,285.9 218,285 218.9,284.1 219.8,283.3 220.7,282.4 221.6,281.5 222.5,280.6 223.4,279.8 224.3,278.9 225.2,278 226.1,277.1" stroke="#34d634" stroke-width="0.85" fill="none" stroke-linejoin="round" />
<polyline points="154.1,344 155,343.8 155.9,343.6 156.8,343.3 157.7,343 158.6,342.6 159.5,342.2 160.4,341.7 161.3,341.3 162.2,340.7 163.1,340.2 164,339.6 164.9,339 165.8,338.4 166.7,337.7 167.6,337.1 168.5,336.4 169.4,335.7 170.3,335 171.2,334.3 172.1,333.6 173,332.9 173.9,332.2 174.8,331.5 175.7,330.8 176.6,330 177.5,329.3 178.4,328.6 179.3,327.8 180.2,327.1 181.1,326.4 182,325.6 182.9,324.9 183.8,324.1 184.7,323.3 185.6,322.6 186.5,321.8 187.4,321 188.3,320.3 189.2,319.5 190.1,318.7 191,317.9 191.9,317.1 192.8,316.4 193.7,315.6 194.6,314.8 195.5,314 196.4,313.2 197.3,312.3 198.2,311.5 199.1,310.7 200,309.9 200.9,309.1 201.8,308.2 202.7,307.4 203.6,306.6 204.5,305.7 205.4,304.9 206.3,304.1 207.2,303.2 208.1,302.4 209,301.5 209.9,300.6 210.8,299.8 211.7,298.9 212.6,298.1 213.5,297.2 214.4,296.3 215.3,295.4 216.2,294.5 217.1,293.7 218,292.8 218.9,291.9 219.8,291 220.7,290.1 221.6,289.2 222.5,288.3 223.4,287.3 224.3,286.4 225.2,285.5 226.1,284.6" stroke="#24d666" stroke-width="0.85" fill="none" stroke-linejoin="round" />
<polyline points="154.1,344 155,343.9 155.9,343.7 156.8,343.5 157.7,343.2 158.6,343 159.5,342.6 160.4,342.3 161.3,341.9 162.2,341.4 163.1,340.9 164,340.4 164.9,339.9 165.8,339.3 166.7,338.8 167.6,338.2 168.5,337.6 169.4,336.9 170.3,336.3 171.2,335.7 172.1,335 173,334.4 173.9,333.7 174.8,333.1 175.7,332.4 176.6,331.7 177.5,331 178.4,330.3 179.3,329.6 180.2,328.9 181.1,328.2 182,327.5 182.9,326.8 183.8,326.1 184.7,325.4 185.6,324.7 186.5,324 187.4,323.2 188.3,322.5 189.2,321.7 190.1,321 191,320.3 191.9,319.5 192.8,318.7 193.7,318 194.6,317.2 195.5,316.4 196.4,315.7 197.3,314.9 198.2,314.1 199.1,313.3 200,312.5 200.9,311.7 201.8,310.9 202.7,310.1 203.6,309.3 204.5,308.5 205.4,307.7 206.3,306.9 207.2,306.1 208.1,305.2 209,304.4 209.9,303.6 210.8,302.7 211.7,301.9 212.6,301 213.5,300.2 214.4,299.3 215.3,298.5 216.2,297.6 217.1,296.7 218,295.8 218.9,295 219.8,294.1 220.7,293.2 221.6,292.3 222.5,291.4 223.4,290.5 224.3,289.6 225.2,288.7 226.1,287.8" stroke="#22d696" stroke-width="0.85" fill="none" stroke-linejoin="round" />
<polyline points="154.1,344 155,343.9 155.9,343.8 156.8,343.6 157.7,343.4 158.6,343.2 159.5,343 160.4,342.7 161.3,342.3 162.2,342 163.1,341.6 164,341.1 164.9,340.7 165.8,340.2 166.7,339.6 167.6,339.1 168.5,338.5 169.4,338 170.3,337.4 171.2,336.8 172.1,336.2 173,335.6 173.9,335 174.8,334.3 175.7,333.7 176.6,333.1 177.5,332.4 178.4,331.8 179.3,331.1 180.2,330.4 181.1,329.8 182,329.1 182.9,328.4 183.8,327.7 184.7,327 185.6,326.3 186.5,325.6 187.4,324.9 188.3,324.2 189.2,323.5 190.1,322.8 191,322.1 191.9,321.3 192.8,320.6 193.7,319.9 194.6,319.1 195.5,318.4 196.4,317.6 197.3,316.9 198.2,316.1 199.1,315.3 200,314.6 200.9,313.8 201.8,313 202.7,312.2 203.6,311.4 204.5,310.6 205.4,309.8 206.3,309 207.2,308.2 208.1,307.4 209,306.5 209.9,305.7 210.8,304.9 211.7,304 212.6,303.2 213.5,302.4 214.4,301.5 215.3,300.6 216.2,299.8 217.1,298.9 218,298 218.9,297.2 219.8,296.3 220.7,295.4 221.6,294.5 222.5,293.6 223.4,292.7 224.3,291.8 225.2,290.9 226.1,290" stroke="#22d6c2" stroke-width="0.85" fill="none" stroke-linejoin="round" />
<polyline points="154.1,344 155,343.9 155.9,343.9 156.8,343.8 157.7,343.7 158.6,343.6 159.5,343.4 160.4,343.2 161.3,343 162.2,342.7 163.1,342.4 164,342.1 164.9,341.7 165.8,341.3 166.7,340.9 167.6,340.4 168.5,339.9 169.4,339.4 170.3,338.9 171.2,338.3 172.1,337.8 173,337.2 173.9,336.6 174.8,336 175.7,335.4 176.6,334.8 177.5,334.2 178.4,333.6 179.3,332.9 180.2,332.3 181.1,331.6 182,331 182.9,330.3 183.8,329.7 184.7,329 185.6,328.3 186.5,327.6 187.4,327 188.3,326.3 189.2,325.6 190.1,324.9 191,324.2 191.9,323.4 192.8,322.7 193.7,322 194.6,321.3 195.5,320.5 196.4,319.8 197.3,319 198.2,318.3 199.1,317.5 200,316.8 200.9,316 201.8,315.2 202.7,314.4 203.6,313.6 204.5,312.8 205.4,312 206.3,311.2 207.2,310.4 208.1,309.6 209,308.8 209.9,308 210.8,307.1 211.7,306.3 212.6,305.5 213.5,304.6 214.4,303.7 215.3,302.9 216.2,302 217.1,301.1 218,300.3 218.9,299.4 219.8,298.5 220.7,297.6 221.6,296.7 222.5,295.8 223.4,294.9 224.3,294 225.2,293 226.1,292.1" stroke="#22c6e0" stroke-width="0.85" fill="none" stroke-linejoin="round" />
<polyline points="154.1,344 155,344 155.9,343.9 156.8,343.9 157.7,343.8 158.6,343.8 159.5,343.7 160.4,343.6 161.3,343.4 162.2,343.3 163.1,343.1 164,342.8 164.9,342.5 165.8,342.2 166.7,341.9 167.6,341.5 168.5,341.1 169.4,340.7 170.3,340.2 171.2,339.7 172.1,339.2 173,338.7 173.9,338.2 174.8,337.6 175.7,337 176.6,336.5 177.5,335.9 178.4,335.3 179.3,334.7 180.2,334.1 181.1,333.5 182,332.8 182.9,332.2 183.8,331.6 184.7,330.9 185.6,330.3 186.5,329.6 187.4,328.9 188.3,328.3 189.2,327.6 190.1,326.9 191,326.2 191.9,325.5 192.8,324.8 193.7,324.1 194.6,323.4 195.5,322.7 196.4,321.9 197.3,321.2 198.2,320.4 199.1,319.7 200,318.9 200.9,318.2 201.8,317.4 202.7,316.6 203.6,315.9 204.5,315.1 205.4,314.3 206.3,313.5 207.2,312.7 208.1,311.9 209,311 209.9,310.2 210.8,309.4 211.7,308.5 212.6,307.7 213.5,306.8 214.4,306 215.3,305.1 216.2,304.3 217.1,303.4 218,302.5 218.9,301.6 219.8,300.7 220.7,299.8 221.6,298.9 222.5,298 223.4,297.1 224.3,296.1 225.2,295.2 226.1,294.3" stroke="#22aef0" stroke-width="0.85" fill="none" stroke-linejoin="round" />
<polyline points="154.1,344 155,344 155.9,344 156.8,343.9 157.7,343.9 158.6,343.9 159.5,343.8 160.4,343.8 161.3,343.7 162.2,343.6 163.1,343.5 164,343.3 164.9,343.1 165.8,342.9 166.7,342.7 167.6,342.4 168.5,342.1 169.4,341.7 170.3,341.3 171.2,340.9 172.1,340.5 173,340 173.9,339.5 174.8,339 175.7,338.5 176.6,337.9 177.5,337.4 178.4,336.8 179.3,336.2 180.2,335.6 181.1,335.1 182,334.4 182.9,333.8 183.8,333.2 184.7,332.6 185.6,331.9 186.5,331.3 187.4,330.6 188.3,330 189.2,329.3 190.1,328.6 191,328 191.9,327.3 192.8,326.6 193.7,325.9 194.6,325.2 195.5,324.4 196.4,323.7 197.3,323 198.2,322.2 199.1,321.5 200,320.7 200.9,320 201.8,319.2 202.7,318.4 203.6,317.7 204.5,316.9 205.4,316.1 206.3,315.3 207.2,314.5 208.1,313.6 209,312.8 209.9,312 210.8,311.2 211.7,310.3 212.6,309.5 213.5,308.6 214.4,307.7 215.3,306.9 216.2,306 217.1,305.1 218,304.2 218.9,303.3 219.8,302.4 220.7,301.5 221.6,300.6 222.5,299.6 223.4,298.7 224.3,297.7 225.2,296.8 226.1,295.8" stroke="#2690f8" stroke-width="0.85" fill="none" stroke-linejoin="round" />
<polyline points="154.1,344 155,344 155.9,344 156.8,344 157.7,344 158.6,343.9 159.5,343.9 160.4,343.9 161.3,343.8 162.2,343.8 163.1,343.7 164,343.6 164.9,343.5 165.8,343.4 166.7,343.2 167.6,343 168.5,342.8 169.4,342.5 170.3,342.2 171.2,341.9 172.1,341.5 173,341.1 173.9,340.7 174.8,340.3 175.7,339.8 176.6,339.3 177.5,338.8 178.4,338.3 179.3,337.7 180.2,337.1 181.1,336.6 182,336 182.9,335.4 183.8,334.8 184.7,334.2 185.6,333.6 186.5,332.9 187.4,332.3 188.3,331.6 189.2,331 190.1,330.3 191,329.7 191.9,329 192.8,328.3 193.7,327.6 194.6,326.9 195.5,326.2 196.4,325.5 197.3,324.7 198.2,324 199.1,323.3 200,322.5 200.9,321.8 201.8,321 202.7,320.2 203.6,319.4 204.5,318.7 205.4,317.9 206.3,317.1 207.2,316.2 208.1,315.4 209,314.6 209.9,313.8 210.8,312.9 211.7,312.1 212.6,311.2 213.5,310.3 214.4,309.5 215.3,308.6 216.2,307.7 217.1,306.8 218,305.9 218.9,305 219.8,304.1 220.7,303.1 221.6,302.2 222.5,301.3 223.4,300.3 224.3,299.3 225.2,298.4 226.1,297.4" stroke="#3470ff" stroke-width="0.85" fill="none" stroke-linejoin="round" />
<polyline points="154.1,344 155,344 155.9,344 156.8,344 157.7,344 158.6,344 159.5,344 160.4,344 161.3,343.9 162.2,343.9 163.1,343.9 164,343.8 164.9,343.8 165.8,343.7 166.7,343.7 167.6,343.6 168.5,343.4 169.4,343.3 170.3,343.1 171.2,342.9 172.1,342.7 173,342.4 173.9,342.1 174.8,341.7 175.7,341.3 176.6,340.9 177.5,340.4 178.4,339.9 179.3,339.4 180.2,338.9 181.1,338.4 182,337.8 182.9,337.2 183.8,336.6 184.7,336 185.6,335.4 186.5,334.8 187.4,334.1 188.3,333.5 189.2,332.8 190.1,332.2 191,331.5 191.9,330.8 192.8,330.1 193.7,329.4 194.6,328.7 195.5,327.9 196.4,327.2 197.3,326.5 198.2,325.7 199.1,325 200,324.2 200.9,323.4 201.8,322.6 202.7,321.9 203.6,321.1 204.5,320.3 205.4,319.4 206.3,318.6 207.2,317.8 208.1,316.9 209,316.1 209.9,315.2 210.8,314.4 211.7,313.5 212.6,312.6 213.5,311.7 214.4,310.8 215.3,309.9 216.2,309 217.1,308.1 218,307.1 218.9,306.2 219.8,305.2 220.7,304.3 221.6,303.3 222.5,302.3 223.4,301.3 224.3,300.3 225.2,299.3 226.1,298.3" stroke="#3a56ff" stroke-width="0.85" fill="none" stroke-linejoin="round" />
<polyline points="154.1,344 155,344 155.9,344 156.8,344 157.7,344 158.6,344 159.5,344 160.4,344 161.3,344 162.2,344 163.1,344 164,344 164.9,343.9 165.8,343.9 166.7,343.9 167.6,343.9 168.5,343.8 169.4,343.8 170.3,343.7 171.2,343.6 172.1,343.5 173,343.4 173.9,343.2 174.8,343 175.7,342.8 176.6,342.5 177.5,342.2 178.4,341.8 179.3,341.5 180.2,341 181.1,340.6 182,340 182.9,339.5 183.8,339 184.7,338.4 185.6,337.8 186.5,337.2 187.4,336.5 188.3,335.9 189.2,335.2 190.1,334.5 191,333.8 191.9,333.1 192.8,332.4 193.7,331.7 194.6,331 195.5,330.2 196.4,329.5 197.3,328.7 198.2,327.9 199.1,327.1 200,326.4 200.9,325.6 201.8,324.7 202.7,323.9 203.6,323.1 204.5,322.3 205.4,321.4 206.3,320.6 207.2,319.7 208.1,318.8 209,317.9 209.9,317 210.8,316.1 211.7,315.2 212.6,314.3 213.5,313.4 214.4,312.4 215.3,311.5 216.2,310.5 217.1,309.6 218,308.6 218.9,307.6 219.8,306.6 220.7,305.6 221.6,304.6 222.5,303.6 223.4,302.6 224.3,301.5 225.2,300.5 226.1,299.4" stroke="#5542ff" stroke-width="0.85" fill="none" stroke-linejoin="round" />
<polyline points="154.1,344 155,344 155.9,344 156.8,344 157.7,344 158.6,344 159.5,344 160.4,344 161.3,344 162.2,344 163.1,344 164,344 164.9,344 165.8,344 166.7,344 167.6,344 168.5,344 169.4,344 170.3,344 171.2,344 172.1,344 173,344 173.9,343.9 174.8,343.9 175.7,343.9 176.6,343.8 177.5,343.8 178.4,343.7 179.3,343.6 180.2,343.5 181.1,343.3 182,343.2 182.9,343 183.8,342.8 184.7,342.6 185.6,342.4 186.5,342.3 187.4,342.1 188.3,342 189.2,341.9 190.1,341.8 191,341.6 191.9,341.5 192.8,341.3 193.7,341.1 194.6,340.9 195.5,340.5 196.4,340.1 197.3,339.5 198.2,338.8 199.1,338 200,337.1 200.9,336 201.8,334.9 202.7,333.8 203.6,332.6 204.5,331.5 205.4,330.4 206.3,329.4 207.2,328.4 208.1,327.5 209,326.6 209.9,325.7 210.8,324.8 211.7,323.9 212.6,323.1 213.5,322.2 214.4,321.4 215.3,320.6 216.2,319.8 217.1,318.9 218,318.1 218.9,317.3 219.8,316.5 220.7,315.7 221.6,314.9 222.5,314 223.4,313.2 224.3,312.4 225.2,311.6 226.1,310.8" stroke="#7a30f0" stroke-width="0.85" fill="none" stroke-linejoin="round" />
<polyline points="154.1,344 155,344 155.9,344 156.8,344 157.7,344 158.6,344 159.5,344 160.4,344 161.3,344 162.2,344 163.1,344 164,344 164.9,344 165.8,343.9 166.7,343.9 167.6,343.9 168.5,343.8 169.4,343.8 170.3,343.7 171.2,343.6 172.1,343.5 173,343.3 173.9,343.1 174.8,342.9 175.7,342.6 176.6,342.3 177.5,342.1 178.4,341.8 179.3,341.6 180.2,341.4 181.1,341.2 182,341.1 182.9,341 183.8,340.9 184.7,340.8 185.6,340.7 186.5,340.7 187.4,340.6 188.3,340.5 189.2,340.4 190.1,340.3 191,340.1 191.9,339.9 192.8,339.5 193.7,339.1 194.6,338.6 195.5,338 196.4,337.2 197.3,336.3 198.2,335.3 199.1,334.2 200,333 200.9,331.8 201.8,330.7 202.7,329.5 203.6,328.4 204.5,327.4 205.4,326.4 206.3,325.4 207.2,324.4 208.1,323.5 209,322.6 209.9,321.7 210.8,320.8 211.7,319.9 212.6,319 213.5,318.1 214.4,317.3 215.3,316.4 216.2,315.5 217.1,314.7 218,313.8 218.9,312.9 219.8,312.1 220.7,311.2 221.6,310.3 222.5,309.5 223.4,308.6 224.3,307.7 225.2,306.9 226.1,306" stroke="#b434e0" stroke-width="0.85" fill="none" stroke-linejoin="round" />
</g>
<rect x="153.8" y="289" width="67.4" height="55.6" stroke="#b0b0b0" stroke-width="0.9" fill="none" />
<line x1="165.35" y1="344.6" x2="165.35" y2="342.6" stroke="#777" stroke-width="0.7" />
<line x1="165.35" y1="289" x2="165.35" y2="291" stroke="#777" stroke-width="0.7" />
<line x1="176.6" y1="344.6" x2="176.6" y2="342.1" stroke="#777" stroke-width="0.7" />
<line x1="176.6" y1="289" x2="176.6" y2="291.5" stroke="#777" stroke-width="0.7" />
<line x1="187.85" y1="344.6" x2="187.85" y2="342.6" stroke="#777" stroke-width="0.7" />
<line x1="187.85" y1="289" x2="187.85" y2="291" stroke="#777" stroke-width="0.7" />
<line x1="199.1" y1="344.6" x2="199.1" y2="342.1" stroke="#777" stroke-width="0.7" />
<line x1="199.1" y1="289" x2="199.1" y2="291.5" stroke="#777" stroke-width="0.7" />
<line x1="210.35" y1="344.6" x2="210.35" y2="342.6" stroke="#777" stroke-width="0.7" />
<line x1="210.35" y1="289" x2="210.35" y2="291" stroke="#777" stroke-width="0.7" />
<line x1="153.8" y1="333" x2="156.3" y2="333" stroke="#777" stroke-width="0.7" />
<line x1="221.2" y1="333" x2="218.7" y2="333" stroke="#777" stroke-width="0.7" />
<line x1="153.8" y1="322" x2="156.3" y2="322" stroke="#777" stroke-width="0.7" />
<line x1="221.2" y1="322" x2="218.7" y2="322" stroke="#777" stroke-width="0.7" />
<line x1="153.8" y1="311" x2="156.3" y2="311" stroke="#777" stroke-width="0.7" />
<line x1="221.2" y1="311" x2="218.7" y2="311" stroke="#777" stroke-width="0.7" />
<line x1="153.8" y1="300" x2="156.3" y2="300" stroke="#777" stroke-width="0.7" />
<line x1="221.2" y1="300" x2="218.7" y2="300" stroke="#777" stroke-width="0.7" />
<text x="154.1" y="354.14" font-size="8.2" text-anchor="middle" fill="#1a1a1a"  stroke="#1a1a1a" stroke-width="0.15">0.0</text>
<text x="176.6" y="354.14" font-size="8.2" text-anchor="middle" fill="#1a1a1a"  stroke="#1a1a1a" stroke-width="0.15">0.1</text>
<text x="199.1" y="354.14" font-size="8.2" text-anchor="middle" fill="#1a1a1a"  stroke="#1a1a1a" stroke-width="0.15">0.2</text>
<text x="150.6" y="302.94" font-size="8.2" text-anchor="end" fill="#1a1a1a"  stroke="#1a1a1a" stroke-width="0.15">40</text>
<text x="150.6" y="324.94" font-size="8.2" text-anchor="end" fill="#1a1a1a"  stroke="#1a1a1a" stroke-width="0.15">20</text>
<text x="150.6" y="346.94" font-size="8.2" text-anchor="end" fill="#1a1a1a"  stroke="#1a1a1a" stroke-width="0.15">0</text>
<text x="190.5" y="362.8" font-size="8.2" text-anchor="middle" fill="#1a1a1a" stroke="#1a1a1a" stroke-width="0.15"><tspan font-style="italic">I</tspan><tspan font-size="6" dy="2">bias</tspan><tspan dy="-2"> (µA)</tspan></text>
<text transform="translate(139.8,316.5) rotate(-90)" font-size="8" text-anchor="middle" fill="#1a1a1a" stroke="#1a1a1a" stroke-width="0.15"><tspan font-style="italic">V</tspan><tspan font-size="6" dy="2">bias</tspan><tspan dy="-2"> (µV)</tspan></text>
<text x="169.8" y="301.22" font-size="7.6" text-anchor="middle" fill="#ff2aa0"  stroke="#ff2aa0" stroke-width="0.15">7.0T</text>
<text x="215.2" y="337.22" font-size="7.6" text-anchor="middle" fill="#c03ae0"  stroke="#c03ae0" stroke-width="0.15">0 T</text>
<line x1="211.5" y1="327" x2="169.45" y2="304.59" stroke="#888" stroke-width="0.6" stroke-dasharray="1.5,1.2" />
<polygon points="167.6,303.6 171.35,304.01 169.92,304.83 170.03,306.48" fill="#888" stroke="none" stroke-width="1"/>
</svg></body></html>
